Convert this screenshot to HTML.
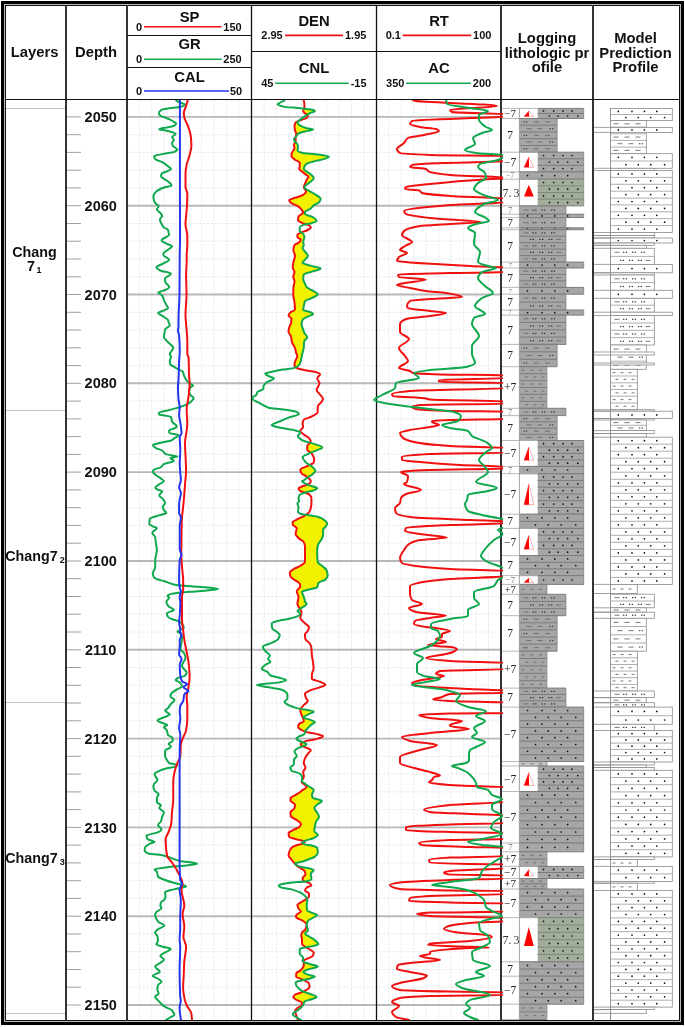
<!DOCTYPE html><html><head><meta charset="utf-8"><style>html,body{margin:0;padding:0;background:#fff;width:685px;height:1027px;overflow:hidden}svg{display:block;will-change:transform}</style></head><body><svg width="685" height="1027" viewBox="0 0 685 1027">
<style>
text{font-family:"Liberation Sans",sans-serif;font-weight:bold;fill:#111;text-anchor:middle}
.h{font-size:14.8px}
.h2{font-size:14.8px}
.n{font-size:11px}
.dl{font-size:14.5px}
.sub{font-size:9px}
.lab{font-family:"Liberation Serif",serif;font-weight:normal}
.gv{stroke:#e9e9e9;stroke-width:1;stroke-dasharray:2.5 1.5}
.gm{stroke:#e9e9e9;stroke-width:1;stroke-dasharray:2.5 1.5}
.gM{stroke:#b8b8b8;stroke-width:1.9}
.tk{stroke:#a0a0a0;stroke-width:1}
.hl{stroke:#111;stroke-width:1.2}
.lb{stroke:#b0b0b0;stroke-width:0.9}
.pd{stroke:#6a6a6a;stroke-width:0.9}
</style>
<rect width="685" height="1027" fill="#fff"/>
<defs><clipPath id="c1"><rect x="127.5" y="100" width="123" height="920"/></clipPath><clipPath id="c2"><rect x="251.5" y="100" width="124" height="920"/></clipPath><clipPath id="c3"><rect x="372" y="100" width="131" height="920"/></clipPath><clipPath id="rightOfDen"><path d="M303.8,99.5C303.8,99.7 303.8,100.0 303.8,100.2C303.8,101.4 304.4,102.5 304.4,103.7C304.4,105.1 304.4,106.4 304.4,107.8C304.4,108.8 303.2,109.7 303.2,110.7C303.2,111.5 303.8,112.2 304.4,113.0C304.9,113.6 307.9,114.2 307.9,114.8C307.9,115.8 307.7,116.7 307.3,117.7C307.0,118.5 302.8,119.2 300.9,120.0C298.9,120.8 296.1,121.6 295.6,122.4C294.9,123.6 294.5,124.7 294.5,125.9C294.5,127.4 294.7,129.0 295.0,130.5C295.2,131.5 296.2,132.5 296.2,133.5C296.2,134.8 295.6,136.2 295.6,137.5C295.6,138.9 295.6,140.2 295.6,141.6C295.6,142.6 293.9,143.5 293.9,144.5C293.9,145.7 294.5,146.9 294.5,148.1C294.5,150.0 291.5,152.0 291.5,153.9C291.5,154.7 291.5,155.4 291.5,156.2C291.5,157.4 293.5,158.5 295.0,159.7C296.2,160.7 299.7,161.6 299.7,162.6C299.7,164.0 299.7,165.3 299.7,166.7C299.7,167.5 299.1,168.3 299.1,169.1C299.1,169.9 301.1,170.6 302.0,171.4C303.4,172.6 304.5,173.7 306.1,174.9C306.8,175.4 308.5,176.0 308.5,176.5C308.5,177.6 307.2,178.6 306.7,179.7C306.0,181.1 305.5,182.4 305.0,183.8C304.6,185.0 303.8,186.1 303.8,187.3C303.8,188.7 306.1,190.0 306.1,191.4C306.1,192.6 304.7,193.7 303.2,194.9C301.9,195.9 297.6,196.8 295.0,197.8C293.0,198.6 289.2,199.3 289.2,200.1C289.2,200.9 289.8,201.6 290.4,202.4C291.3,203.6 295.7,204.7 297.4,205.9C299.1,207.1 300.6,208.3 301.5,209.5C302.2,210.5 303.2,211.4 303.2,212.4C303.2,213.8 298.8,215.1 298.5,216.5C298.2,217.8 298.0,219.2 298.0,220.5C298.0,221.3 300.3,222.1 302.0,222.9C303.7,223.7 308.1,224.4 309.0,225.2C310.0,226.0 310.8,226.8 310.8,227.6C310.8,228.6 308.6,229.5 306.7,230.5C305.6,231.1 303.3,231.6 302.0,232.2C300.2,233.0 297.4,233.8 297.4,234.6C297.4,235.4 297.4,236.1 297.4,236.9C297.4,237.9 300.9,238.8 300.9,239.8C300.9,240.8 299.6,241.7 298.5,242.7C297.6,243.5 294.9,244.3 294.5,245.1C293.8,246.6 293.3,248.2 293.3,249.7C293.3,250.8 293.9,251.9 294.2,253.0C294.5,253.9 295.0,254.8 295.0,255.7C295.0,258.0 293.7,260.4 293.3,262.7C293.0,264.3 292.7,265.8 292.7,267.4C292.7,268.9 294.5,270.5 294.5,272.0C294.5,273.6 293.3,275.1 293.3,276.7C293.3,278.3 294.5,279.8 294.5,281.4C294.5,283.7 293.3,286.1 293.3,288.4C293.3,290.7 293.3,293.1 293.3,295.4C293.3,297.7 294.3,300.1 294.5,302.4C294.7,304.7 295.0,307.1 295.0,309.4C295.0,310.6 290.5,311.7 289.8,312.9C289.2,313.9 288.6,314.8 288.6,315.8C288.6,316.8 291.5,317.7 291.5,318.7C291.5,320.3 291.2,321.8 290.9,323.4C290.6,324.8 289.5,326.1 289.2,327.5C288.9,328.9 288.5,330.3 288.5,331.7C288.5,333.2 290.5,334.8 290.9,336.3C291.5,338.3 291.5,340.2 292.0,342.2C292.5,344.1 294.4,346.1 295.0,348.0C295.5,349.6 295.7,351.1 296.1,352.7C296.4,353.9 297.3,355.0 297.3,356.2C297.3,358.1 295.4,360.1 295.0,362.0C294.7,363.2 294.4,364.3 294.4,365.5C294.4,366.3 295.5,367.1 296.7,367.9C297.9,368.7 301.5,369.4 304.9,370.2C307.6,370.8 313.5,371.4 315.4,372.0C317.8,372.8 320.1,373.5 320.1,374.3C320.1,375.7 317.2,377.0 317.2,378.4C317.2,380.0 319.5,381.5 319.5,383.1C319.5,385.4 316.6,387.8 316.6,390.1C316.6,391.6 319.0,393.2 320.1,394.7C321.1,396.1 323.0,397.4 323.0,398.8C323.0,400.0 322.0,401.1 321.2,402.3C320.4,403.5 318.2,404.8 318.0,406.0C317.8,407.0 317.7,408.0 317.7,409.0C317.7,410.1 317.7,411.2 317.7,412.3C317.7,413.7 314.3,415.0 311.9,416.4C309.8,417.6 304.3,418.7 303.7,419.9C303.1,421.1 302.6,422.2 302.6,423.4C302.6,424.6 303.1,425.7 303.1,426.9C303.1,428.3 300.2,429.6 300.2,431.0C300.2,432.2 302.3,433.3 303.7,434.5C305.1,435.7 308.1,436.8 309.0,438.0C309.9,439.2 310.7,440.3 310.7,441.5C310.7,443.1 307.2,444.6 307.2,446.2C307.2,447.4 307.2,448.5 307.2,449.7C307.2,451.1 311.0,452.4 311.9,453.8C313.0,455.6 314.2,457.3 314.2,459.1C314.2,460.3 314.0,461.4 313.7,462.6C313.4,463.8 309.4,464.9 307.2,466.1C305.0,467.3 300.2,468.4 300.2,469.6C300.2,470.8 300.8,471.9 301.4,473.1C302.0,474.3 305.1,475.4 306.6,476.6C307.9,477.6 309.5,478.5 310.0,479.5C310.4,480.3 310.8,481.1 310.8,481.9C310.8,482.7 309.3,483.5 307.9,484.3C306.9,484.9 304.5,485.4 303.2,486.0C301.4,486.8 298.5,487.5 298.5,488.3C298.5,489.1 299.0,489.9 299.7,490.7C300.2,491.3 302.9,491.8 304.4,492.4C306.0,493.0 308.3,493.6 309.0,494.2C310.3,495.4 311.4,496.5 311.4,497.7C311.4,499.6 311.4,501.6 311.4,503.5C311.4,505.1 311.1,506.6 310.8,508.2C310.5,509.6 309.9,510.9 309.0,512.3C308.2,513.5 306.3,514.6 304.4,515.8C302.8,516.8 300.3,517.7 298.5,518.7C296.4,519.9 292.7,521.0 292.7,522.2C292.7,523.0 292.7,523.7 292.7,524.5C292.7,525.7 296.8,526.9 296.8,528.1C296.8,530.0 295.6,532.0 295.6,533.9C295.6,535.3 297.3,536.6 298.5,538.0C299.7,539.4 303.2,540.7 303.8,542.1C304.5,543.6 305.0,545.2 305.0,546.7C305.0,549.5 305.0,552.2 305.0,555.0C305.0,557.3 305.0,559.7 305.0,562.0C305.0,563.2 302.6,564.3 300.9,565.5C299.2,566.7 295.6,567.8 293.9,569.0C292.2,570.2 289.8,571.3 289.8,572.5C289.8,574.1 290.2,575.6 290.9,577.2C291.3,578.2 293.7,579.1 295.0,580.1C296.6,581.3 299.3,582.4 299.7,583.6C300.0,584.6 300.3,585.5 300.3,586.5C300.3,588.1 296.8,589.6 296.8,591.2C296.8,593.1 298.5,595.1 298.5,597.0C298.5,599.4 297.4,601.7 297.4,604.1C297.4,605.6 298.9,607.2 299.7,608.7C300.3,609.9 301.5,611.0 301.5,612.2C301.5,614.2 300.3,616.1 300.3,618.1C300.3,619.6 303.0,621.2 304.4,622.7C305.9,624.3 309.0,625.8 309.0,627.4C309.0,628.8 308.1,630.2 307.3,631.6C306.8,632.6 304.9,633.5 304.9,634.5C304.9,636.1 305.1,637.6 305.5,639.2C305.8,640.6 308.8,641.9 309.6,643.3C310.4,644.7 311.1,646.0 311.3,647.4C311.7,650.1 311.6,652.8 311.9,655.5C312.1,657.8 312.8,660.2 313.1,662.5C313.3,664.5 313.6,666.4 313.6,668.4C313.6,670.3 311.9,672.3 311.9,674.2C311.9,675.8 311.9,677.3 311.9,678.9C311.9,679.9 318.0,680.8 320.1,681.8C322.2,682.8 325.3,683.7 325.3,684.7C325.3,685.7 321.4,686.6 318.9,687.6C316.3,688.6 311.5,689.6 309.6,690.6C307.4,691.8 304.9,692.9 304.9,694.1C304.9,695.5 305.6,696.8 306.1,698.2C306.5,699.2 307.8,700.1 307.8,701.1C307.8,702.5 304.9,703.8 303.7,705.2C302.7,706.3 301.5,707.4 301.0,708.5C300.7,709.2 300.3,709.8 300.3,710.5C300.3,711.9 301.0,713.2 301.5,714.6C302.0,716.0 302.8,717.3 303.2,718.7C303.5,719.7 303.8,720.6 303.8,721.6C303.8,722.4 299.6,723.1 299.1,723.9C298.5,724.9 298.0,725.9 298.0,726.9C298.0,727.9 299.5,728.8 300.9,729.8C302.0,730.6 304.1,731.3 306.7,732.1C308.8,732.7 313.8,733.3 316.1,733.9C319.1,734.7 323.1,735.4 323.1,736.2C323.1,737.2 319.4,738.1 316.1,739.1C314.1,739.7 308.8,740.3 306.7,740.9C304.1,741.7 300.9,742.4 300.9,743.2C300.9,743.8 300.9,744.4 300.9,745.0C300.9,745.8 304.0,746.5 305.5,747.3C307.3,748.3 310.8,749.2 310.8,750.2C310.8,751.4 308.7,752.5 307.9,753.7C306.8,755.3 305.6,756.8 305.0,758.4C304.4,760.0 303.8,761.5 303.8,763.1C303.8,764.6 305.5,766.2 305.5,767.7C305.5,769.1 303.2,770.4 303.2,771.8C303.2,773.6 303.8,775.3 303.8,777.1C303.8,778.6 301.5,780.2 301.5,781.7C301.5,782.8 303.8,783.9 305.0,785.0C305.6,785.5 306.7,786.0 306.7,786.5C306.7,787.9 303.7,789.2 302.0,790.6C300.3,792.0 298.4,793.3 296.2,794.7C294.6,795.7 291.2,796.6 290.9,797.6C290.6,798.6 290.4,799.5 290.4,800.5C290.4,801.9 295.0,803.2 295.0,804.6C295.0,805.8 294.8,806.9 294.5,808.1C294.2,809.5 290.4,810.8 290.4,812.2C290.4,813.6 290.6,814.9 290.9,816.3C291.2,817.7 295.7,819.0 297.4,820.4C298.8,821.6 300.9,822.7 300.9,823.9C300.9,824.9 300.4,825.8 299.7,826.8C299.0,827.8 295.6,828.7 293.9,829.7C291.9,830.9 288.6,832.0 288.6,833.2C288.6,834.4 288.8,835.5 289.2,836.7C289.5,837.7 294.2,838.6 297.4,839.6C299.4,840.2 304.4,840.8 304.4,841.4C304.4,842.0 304.4,842.5 304.4,843.1C304.4,843.7 299.0,844.3 297.4,844.9C294.8,845.9 292.4,846.8 291.5,847.8C290.3,849.2 289.6,850.5 289.2,851.9C288.9,853.1 288.6,854.2 288.6,855.4C288.6,856.6 290.1,857.8 291.0,859.0C292.2,860.6 293.5,862.1 295.0,863.7C296.3,865.1 297.8,866.4 299.7,867.8C301.0,868.8 303.9,869.7 304.4,870.7C305.0,871.9 305.5,873.0 305.5,874.2C305.5,875.6 302.6,876.9 302.6,878.3C302.6,879.1 302.8,879.8 303.2,880.6C303.6,881.4 307.9,882.1 309.0,882.9C310.1,883.7 311.4,884.5 311.4,885.3C311.4,886.1 307.4,886.8 306.7,887.6C305.8,888.6 305.0,889.5 305.0,890.5C305.0,891.5 309.0,892.5 309.0,893.5C309.0,894.5 309.0,895.4 309.0,896.4C309.0,897.2 307.6,897.9 306.7,898.7C305.8,899.5 304.3,900.2 303.2,901.0C301.2,902.4 297.4,903.7 297.4,905.1C297.4,906.3 298.0,907.4 298.5,908.6C299.0,909.6 300.9,910.6 300.9,911.6C300.9,912.8 296.2,913.9 296.2,915.1C296.2,915.9 296.2,916.6 296.2,917.4C296.2,918.4 300.6,919.3 302.0,920.3C304.0,921.7 306.7,923.0 306.7,924.4C306.7,926.0 306.2,927.5 305.5,929.1C305.0,930.3 302.5,931.4 302.0,932.6C301.6,933.6 301.2,934.5 301.2,935.5C301.2,936.9 302.0,938.3 302.0,939.7C302.0,941.1 302.0,942.4 302.0,943.8C302.0,944.8 303.7,945.7 305.0,946.7C306.0,947.5 307.8,948.2 309.0,949.0C310.8,950.2 313.7,951.3 313.7,952.5C313.7,953.7 313.3,954.8 312.6,956.0C312.1,956.8 309.4,957.6 307.9,958.4C306.5,959.2 303.8,959.9 303.8,960.7C303.8,962.3 303.8,963.8 303.8,965.4C303.8,966.9 302.2,968.5 300.9,970.0C299.9,971.2 296.2,972.3 296.2,973.5C296.2,974.7 296.2,975.8 296.2,977.0C296.2,977.6 299.5,978.2 300.9,978.8C302.2,979.4 303.4,979.9 304.4,980.5C306.2,981.5 308.7,982.5 309.0,983.5C309.4,984.7 309.6,985.8 309.6,987.0C309.6,988.0 308.0,988.9 306.7,989.9C305.7,990.7 303.8,991.4 302.0,992.2C300.1,993.0 295.9,993.8 295.0,994.6C294.1,995.4 293.3,996.1 293.3,996.9C293.3,997.9 294.9,998.8 296.2,999.8C297.3,1000.6 301.2,1001.4 301.5,1002.2C301.8,1003.2 302.0,1004.1 302.0,1005.1C302.0,1006.1 298.5,1007.0 297.4,1008.0C296.3,1009.0 295.0,1009.9 295.0,1010.9C295.0,1012.3 295.8,1013.6 296.2,1015.0C296.7,1016.7 297.4,1018.3 298.0,1020.0L400,1025L400,95Z"/></clipPath><clipPath id="leftOfCnl"><path d="M284.5,99.5C284.5,99.7 284.5,100.0 284.5,100.2C284.5,101.0 281.7,101.7 280.4,102.5C279.4,103.1 277.5,103.7 277.5,104.3C277.5,105.1 280.2,105.8 283.4,106.6C285.8,107.2 296.1,107.7 300.9,108.3C306.0,108.9 312.7,109.5 313.7,110.1C314.4,110.5 314.9,110.9 314.9,111.3C314.9,111.9 311.4,112.4 310.2,113.0C308.2,114.0 307.0,114.9 305.5,115.9C303.4,117.3 301.2,118.6 299.7,120.0C298.8,120.8 297.4,121.6 297.4,122.4C297.4,123.4 298.5,124.3 299.7,125.3C300.9,126.3 303.3,127.2 306.7,128.2C308.1,128.6 313.1,129.0 313.1,129.4C313.1,130.0 308.7,130.5 306.7,131.1C303.8,131.9 299.6,132.7 298.5,133.5C297.2,134.5 297.0,135.4 296.2,136.4C295.4,137.4 293.9,138.3 293.9,139.3C293.9,140.1 294.5,140.8 295.0,141.6C295.5,142.4 297.2,143.2 297.4,144.0C297.8,145.4 298.0,146.7 298.0,148.1C298.0,148.9 297.4,149.6 297.4,150.4C297.4,151.2 299.4,151.9 302.0,152.7C304.0,153.3 314.7,153.9 318.4,154.5C323.1,155.3 328.9,156.0 328.9,156.8C328.9,157.4 327.0,158.0 325.4,158.6C323.4,159.4 318.9,160.1 316.1,160.9C312.6,161.9 307.9,162.8 306.7,163.8C305.5,164.8 304.8,165.7 304.4,166.7C304.1,167.5 303.8,168.3 303.8,169.1C303.8,170.1 306.0,171.0 307.3,172.0C308.6,173.0 310.4,173.9 311.4,174.9C312.4,175.9 313.7,176.9 313.7,177.9C313.7,179.3 311.6,180.6 310.2,182.0C309.0,183.2 306.3,184.3 305.5,185.5C305.0,186.3 304.4,187.0 304.4,187.8C304.4,188.8 307.4,189.8 309.0,190.8C311.2,192.2 314.2,193.5 316.1,194.9C317.9,196.2 320.7,197.6 320.7,198.9C320.7,200.1 319.9,201.2 319.0,202.4C318.2,203.4 315.0,204.4 313.7,205.4C312.2,206.6 311.7,207.7 310.2,208.9C308.9,209.9 305.0,210.8 305.0,211.8C305.0,212.6 305.0,213.3 305.0,214.1C305.0,215.1 311.2,216.0 312.6,217.0C314.6,218.4 316.6,219.7 316.6,221.1C316.6,221.9 313.2,222.7 310.2,223.5C308.8,223.9 305.4,224.2 304.4,224.6C301.8,225.6 299.7,226.6 299.7,227.6C299.7,228.8 299.7,229.9 299.7,231.1C299.7,232.1 302.6,233.0 303.2,234.0C303.8,235.0 304.4,235.9 304.4,236.9C304.4,238.7 303.2,240.4 303.2,242.2C303.2,243.2 303.8,244.1 303.8,245.1C303.8,246.1 302.6,247.0 302.6,248.0C302.6,249.2 304.2,250.4 305.0,251.6C305.9,253.0 307.9,254.3 307.9,255.7C307.9,257.2 305.6,258.8 304.4,260.3C303.8,261.1 302.6,261.9 302.6,262.7C302.6,263.7 307.3,264.6 310.2,265.6C313.1,266.6 320.7,267.5 320.7,268.5C320.7,269.5 315.4,270.4 312.6,271.4C309.7,272.4 304.1,273.4 303.8,274.4C303.4,275.9 303.2,277.5 303.2,279.0C303.2,280.6 304.3,282.1 305.0,283.7C305.5,284.9 305.8,286.0 306.7,287.2C307.6,288.4 310.8,289.5 312.6,290.7C314.4,291.9 317.8,293.0 317.8,294.2C317.8,295.4 314.7,296.5 312.6,297.7C310.5,298.9 305.6,300.0 305.0,301.2C304.3,302.8 304.1,304.3 303.8,305.9C303.5,307.3 303.2,308.6 303.2,310.0C303.2,310.6 307.7,311.1 309.0,311.7C310.9,312.5 313.1,313.3 313.1,314.1C313.1,315.1 308.4,316.0 306.7,317.0C305.0,318.0 303.0,318.9 302.6,319.9C301.9,321.5 301.5,323.0 301.5,324.6C301.5,325.8 302.2,326.9 302.6,328.1C303.1,329.7 303.6,331.2 304.3,332.8C305.0,334.4 307.2,335.9 307.2,337.5C307.2,338.7 304.5,339.8 304.3,341.0C303.9,343.3 304.0,345.7 303.7,348.0C303.4,350.3 302.5,352.7 302.0,355.0C301.6,357.0 301.3,358.9 300.8,360.9C300.4,362.3 300.0,363.6 299.1,365.0C298.4,366.0 297.1,366.9 294.4,367.9C292.8,368.5 286.0,369.0 282.7,369.6C278.1,370.4 274.2,371.2 271.0,372.0C268.7,372.6 265.2,373.1 265.2,373.7C265.2,374.7 268.1,375.6 269.9,376.6C271.0,377.2 273.9,377.8 273.9,378.4C273.9,379.8 267.8,381.1 266.4,382.5C265.0,383.9 263.4,385.2 263.4,386.6C263.4,387.4 263.4,388.1 263.4,388.9C263.4,389.9 258.3,390.8 257.6,391.8C256.9,392.8 257.0,393.7 256.4,394.7C255.8,395.7 252.3,396.7 252.3,397.7C252.3,398.5 252.9,399.2 253.5,400.0C254.3,401.0 257.5,401.9 259.3,402.9C260.9,403.8 262.3,404.6 264.0,405.5C265.4,406.2 266.1,407.0 268.7,407.7C270.7,408.3 280.1,408.8 283.9,409.4C289.3,410.2 295.3,411.0 296.7,411.8C298.0,412.6 299.1,413.3 299.1,414.1C299.1,415.3 291.5,416.4 288.5,417.6C284.9,419.0 282.2,420.3 279.2,421.7C276.6,422.9 271.6,424.0 271.6,425.2C271.6,426.0 276.0,426.7 279.2,427.5C282.6,428.3 290.0,429.1 293.2,429.9C296.3,430.7 300.2,431.4 300.2,432.2C300.2,433.6 297.9,434.9 297.9,436.3C297.9,437.7 300.2,439.0 302.6,440.4C304.6,441.6 311.0,442.7 314.2,443.9C317.4,445.1 322.4,446.2 322.4,447.4C322.4,448.4 318.7,449.3 316.6,450.3C314.5,451.3 311.6,452.2 309.6,453.2C306.8,454.6 302.6,455.9 302.6,457.3C302.6,459.1 304.5,460.8 306.1,462.6C307.3,463.9 310.5,465.3 311.9,466.6C313.4,468.0 315.4,469.3 315.4,470.7C315.4,471.9 313.7,473.0 312.5,474.2C311.3,475.4 308.8,476.5 307.2,477.7C305.9,478.6 305.0,479.6 303.5,480.5C303.1,480.8 302.0,481.0 302.0,481.3C302.0,482.1 304.0,482.9 305.5,483.7C306.9,484.5 309.5,485.2 311.4,486.0C313.3,486.8 317.2,487.5 317.2,488.3C317.2,489.1 314.7,489.9 312.6,490.7C311.1,491.3 307.3,491.8 305.5,492.4C303.0,493.2 300.2,494.0 299.7,494.8C299.0,496.0 298.5,497.1 298.5,498.3C298.5,499.3 299.1,500.2 299.1,501.2C299.1,502.0 297.4,502.7 297.4,503.5C297.4,504.7 298.5,505.8 298.5,507.0C298.5,508.6 298.0,510.1 298.0,511.7C298.0,512.5 299.1,513.2 300.9,514.0C301.8,514.4 306.6,514.8 309.0,515.2C312.6,515.8 316.6,516.4 318.4,517.0C321.3,518.0 323.0,518.9 324.2,519.9C325.6,521.1 327.2,522.2 327.2,523.4C327.2,524.6 326.1,525.7 325.4,526.9C324.8,527.9 323.1,528.8 323.1,529.8C323.1,531.6 323.1,533.3 323.1,535.1C323.1,536.6 322.1,538.2 321.3,539.7C320.6,541.1 318.9,542.4 318.4,543.8C317.8,545.6 317.2,547.3 317.2,549.1C317.2,551.1 317.2,553.0 317.2,555.0C317.2,557.3 317.4,559.7 317.8,562.0C318.1,563.6 321.4,565.1 323.1,566.7C324.3,567.9 326.2,569.0 326.6,570.2C327.2,571.9 327.7,573.7 327.7,575.4C327.7,576.8 326.6,578.1 325.4,579.5C324.4,580.7 319.0,581.8 318.4,583.0C317.7,584.4 318.0,585.7 317.2,587.1C316.7,587.9 311.6,588.7 309.0,589.5C306.5,590.3 302.0,591.0 302.0,591.8C302.0,593.0 302.8,594.1 303.2,595.3C303.6,596.5 304.1,597.6 304.4,598.8C304.6,599.8 304.7,600.7 305.0,601.7C305.3,602.5 306.7,603.3 306.7,604.1C306.7,605.3 303.5,606.4 302.0,607.6C300.5,608.8 297.4,609.9 297.4,611.1C297.4,611.9 300.3,612.6 300.3,613.4C300.3,614.2 299.4,614.9 298.5,615.7C297.3,616.7 293.1,617.7 289.2,618.7C286.2,619.5 280.1,620.2 277.5,621.0C274.9,621.8 271.7,622.5 271.7,623.3C271.7,625.1 271.9,626.8 272.3,628.6C272.6,629.7 275.8,630.9 277.0,632.0C278.1,633.0 279.8,634.1 279.8,635.1C279.8,636.5 279.0,637.8 278.0,639.2C277.2,640.4 274.4,641.5 272.2,642.7C269.6,644.1 262.8,645.4 262.8,646.8C262.8,648.2 264.2,649.5 265.2,650.9C266.3,652.4 269.9,654.0 269.9,655.5C269.9,656.7 268.1,657.8 268.1,659.0C268.1,660.0 270.4,660.9 270.4,661.9C270.4,662.9 266.4,663.9 265.2,664.9C263.6,666.3 261.7,667.6 261.7,669.0C261.7,670.0 266.4,670.9 267.5,671.9C268.9,673.1 268.7,674.2 270.4,675.4C271.5,676.2 276.7,676.9 279.2,677.7C281.9,678.5 286.2,679.3 286.2,680.1C286.2,680.9 282.6,681.6 279.2,682.4C275.3,683.3 257.0,684.1 257.0,685.0C257.0,685.7 263.9,686.4 267.5,687.1C272.4,688.1 281.0,689.0 282.7,690.0C285.5,691.5 287.4,693.1 287.4,694.6C287.4,696.0 287.4,697.3 287.4,698.7C287.4,699.7 284.5,700.7 284.5,701.7C284.5,702.9 286.6,704.0 288.5,705.2C290.1,706.2 293.3,707.1 296.7,708.1C300.9,709.3 313.7,710.5 313.7,711.7C313.7,712.5 310.4,713.2 309.0,714.0C306.8,715.2 303.2,716.3 303.2,717.5C303.2,718.3 308.4,719.0 310.2,719.8C312.1,720.6 314.9,721.4 314.9,722.2C314.9,723.0 312.3,723.7 311.4,724.5C310.0,725.7 309.0,726.8 307.9,728.0C307.0,729.0 306.0,729.9 305.5,730.9C305.0,731.9 305.0,732.9 304.4,733.9C303.8,734.9 299.8,735.8 298.5,736.8C297.5,737.6 296.2,738.3 296.2,739.1C296.2,739.9 299.3,740.7 300.9,741.5C302.8,742.5 306.7,743.4 306.7,744.4C306.7,745.0 304.5,745.5 303.2,746.1C301.4,746.9 298.5,747.7 297.4,748.5C296.0,749.5 294.5,750.4 294.5,751.4C294.5,753.0 296.8,754.5 296.8,756.1C296.8,757.3 293.9,758.4 293.9,759.6C293.9,761.1 293.9,762.7 293.9,764.2C293.9,765.4 290.4,766.5 290.4,767.7C290.4,768.7 290.9,769.6 291.5,770.6C292.2,771.6 298.6,772.6 299.7,773.6C301.0,774.8 302.0,775.9 302.0,777.1C302.0,778.5 302.0,779.8 302.0,781.2C302.0,782.1 304.3,783.1 305.5,784.0C306.6,784.8 307.9,785.7 309.0,786.5C310.6,787.7 313.7,788.8 313.7,790.0C313.7,791.6 312.0,793.1 312.0,794.7C312.0,795.7 312.2,796.6 312.6,797.6C313.0,798.8 321.9,799.9 321.9,801.1C321.9,802.3 318.4,803.4 317.2,804.6C316.0,805.8 314.3,806.9 314.3,808.1C314.3,809.7 316.4,811.2 317.2,812.8C317.9,814.2 319.0,815.5 319.0,816.9C319.0,818.4 316.7,820.0 316.1,821.5C315.5,823.1 315.2,824.6 314.9,826.2C314.6,827.8 314.3,829.3 314.3,830.9C314.3,832.3 317.8,833.6 317.8,835.0C317.8,836.2 315.1,837.3 312.6,838.5C311.4,839.1 308.1,839.6 306.7,840.2C304.7,841.0 302.0,841.8 302.0,842.6C302.0,843.2 303.1,843.7 304.4,844.3C305.3,844.7 309.9,845.1 311.4,845.5C314.2,846.3 317.0,847.0 317.2,847.8C317.6,849.6 317.8,851.3 317.8,853.1C317.8,854.3 316.4,855.4 314.9,856.6C313.7,857.6 310.3,858.5 308.0,859.5C306.8,860.0 305.8,860.5 304.4,861.0C301.9,861.9 295.0,862.8 295.0,863.7C295.0,864.7 297.2,865.6 299.7,866.6C301.2,867.2 307.0,867.7 309.0,868.3C311.1,868.9 313.7,869.5 313.7,870.1C313.7,871.3 310.8,872.4 310.8,873.6C310.8,875.4 311.4,877.1 311.4,878.9C311.4,879.7 309.4,880.4 306.7,881.2C304.7,881.8 292.8,882.3 289.2,882.9C284.2,883.7 278.7,884.5 278.7,885.3C278.7,885.9 279.2,886.4 279.9,887.0C280.8,887.8 288.7,888.6 291.5,889.4C295.6,890.6 298.8,891.7 300.9,892.9C303.0,894.1 304.6,895.2 305.5,896.4C306.4,897.6 307.3,898.7 307.3,899.9C307.3,901.8 306.7,903.8 306.7,905.7C306.7,907.3 306.9,908.8 307.3,910.4C307.5,911.2 309.8,911.9 311.4,912.7C313.0,913.5 317.2,914.3 317.2,915.1C317.2,916.1 314.1,917.0 312.6,918.0C311.1,919.0 308.4,919.9 307.9,920.9C307.2,922.5 306.7,924.0 306.7,925.6C306.7,927.1 307.9,928.7 307.9,930.2C307.9,931.4 305.0,932.5 305.0,933.7C305.0,934.6 307.6,935.6 309.0,936.5C310.6,937.6 313.0,938.6 314.3,939.7C316.1,941.2 318.4,942.8 318.4,944.3C318.4,944.9 315.0,945.5 312.6,946.1C311.0,946.5 308.5,946.9 306.7,947.3C304.1,947.9 299.7,948.4 299.7,949.0C299.7,950.6 299.7,952.1 299.7,953.7C299.7,955.1 303.2,956.4 303.2,957.8C303.2,959.0 302.6,960.1 302.6,961.3C302.6,962.3 307.4,963.2 310.2,964.2C312.5,965.0 317.8,965.7 317.8,966.5C317.8,967.3 312.4,968.1 310.2,968.9C307.5,969.9 303.2,970.8 303.2,971.8C303.2,972.8 305.6,973.7 307.9,974.7C309.3,975.3 314.9,975.9 314.9,976.5C314.9,977.3 311.6,978.0 309.0,978.8C307.1,979.4 303.0,979.9 300.9,980.5C298.7,981.1 295.6,981.7 295.6,982.3C295.6,983.3 295.9,984.2 296.2,985.2C296.6,986.4 297.9,987.5 299.1,988.7C300.1,989.7 301.3,990.6 303.2,991.6C304.7,992.4 308.2,993.2 310.2,994.0C312.6,995.0 316.6,995.9 316.6,996.9C316.6,997.7 313.4,998.4 311.4,999.2C309.4,1000.0 304.9,1000.8 304.4,1001.6C303.6,1002.8 303.8,1003.9 303.2,1005.1C302.4,1006.6 300.2,1008.2 298.5,1009.7C296.7,1011.3 292.7,1012.8 292.7,1014.4C292.7,1015.4 295.5,1016.5 297.0,1017.5C298.2,1018.3 299.7,1019.2 301.0,1020.0L200,1025L200,95Z"/></clipPath></defs>
<line x1="139.3" y1="99.5" x2="139.3" y2="1020" class="gv"/>
<line x1="151.7" y1="99.5" x2="151.7" y2="1020" class="gv"/>
<line x1="164.2" y1="99.5" x2="164.2" y2="1020" class="gv"/>
<line x1="176.7" y1="99.5" x2="176.7" y2="1020" class="gv"/>
<line x1="189.2" y1="99.5" x2="189.2" y2="1020" class="gv"/>
<line x1="201.6" y1="99.5" x2="201.6" y2="1020" class="gv"/>
<line x1="214.1" y1="99.5" x2="214.1" y2="1020" class="gv"/>
<line x1="226.6" y1="99.5" x2="226.6" y2="1020" class="gv"/>
<line x1="239.0" y1="99.5" x2="239.0" y2="1020" class="gv"/>
<line x1="264.2" y1="99.5" x2="264.2" y2="1020" class="gv"/>
<line x1="276.7" y1="99.5" x2="276.7" y2="1020" class="gv"/>
<line x1="289.2" y1="99.5" x2="289.2" y2="1020" class="gv"/>
<line x1="301.6" y1="99.5" x2="301.6" y2="1020" class="gv"/>
<line x1="314.1" y1="99.5" x2="314.1" y2="1020" class="gv"/>
<line x1="326.6" y1="99.5" x2="326.6" y2="1020" class="gv"/>
<line x1="339.0" y1="99.5" x2="339.0" y2="1020" class="gv"/>
<line x1="351.5" y1="99.5" x2="351.5" y2="1020" class="gv"/>
<line x1="364.0" y1="99.5" x2="364.0" y2="1020" class="gv"/>
<line x1="388.8" y1="99.5" x2="388.8" y2="1020" class="gv"/>
<line x1="401.2" y1="99.5" x2="401.2" y2="1020" class="gv"/>
<line x1="413.7" y1="99.5" x2="413.7" y2="1020" class="gv"/>
<line x1="426.2" y1="99.5" x2="426.2" y2="1020" class="gv"/>
<line x1="438.7" y1="99.5" x2="438.7" y2="1020" class="gv"/>
<line x1="451.1" y1="99.5" x2="451.1" y2="1020" class="gv"/>
<line x1="463.6" y1="99.5" x2="463.6" y2="1020" class="gv"/>
<line x1="476.1" y1="99.5" x2="476.1" y2="1020" class="gv"/>
<line x1="488.5" y1="99.5" x2="488.5" y2="1020" class="gv"/>
<line x1="127" y1="116.9" x2="501" y2="116.9" class="gM"/>
<line x1="127" y1="134.7" x2="501" y2="134.7" class="gm"/>
<line x1="127" y1="152.4" x2="501" y2="152.4" class="gm"/>
<line x1="127" y1="170.2" x2="501" y2="170.2" class="gm"/>
<line x1="127" y1="187.9" x2="501" y2="187.9" class="gm"/>
<line x1="127" y1="205.7" x2="501" y2="205.7" class="gM"/>
<line x1="127" y1="223.5" x2="501" y2="223.5" class="gm"/>
<line x1="127" y1="241.2" x2="501" y2="241.2" class="gm"/>
<line x1="127" y1="259.0" x2="501" y2="259.0" class="gm"/>
<line x1="127" y1="276.8" x2="501" y2="276.8" class="gm"/>
<line x1="127" y1="294.5" x2="501" y2="294.5" class="gM"/>
<line x1="127" y1="312.3" x2="501" y2="312.3" class="gm"/>
<line x1="127" y1="330.0" x2="501" y2="330.0" class="gm"/>
<line x1="127" y1="347.8" x2="501" y2="347.8" class="gm"/>
<line x1="127" y1="365.6" x2="501" y2="365.6" class="gm"/>
<line x1="127" y1="383.3" x2="501" y2="383.3" class="gM"/>
<line x1="127" y1="401.1" x2="501" y2="401.1" class="gm"/>
<line x1="127" y1="418.9" x2="501" y2="418.9" class="gm"/>
<line x1="127" y1="436.6" x2="501" y2="436.6" class="gm"/>
<line x1="127" y1="454.4" x2="501" y2="454.4" class="gm"/>
<line x1="127" y1="472.1" x2="501" y2="472.1" class="gM"/>
<line x1="127" y1="489.9" x2="501" y2="489.9" class="gm"/>
<line x1="127" y1="507.7" x2="501" y2="507.7" class="gm"/>
<line x1="127" y1="525.4" x2="501" y2="525.4" class="gm"/>
<line x1="127" y1="543.2" x2="501" y2="543.2" class="gm"/>
<line x1="127" y1="561.0" x2="501" y2="561.0" class="gM"/>
<line x1="127" y1="578.7" x2="501" y2="578.7" class="gm"/>
<line x1="127" y1="596.5" x2="501" y2="596.5" class="gm"/>
<line x1="127" y1="614.2" x2="501" y2="614.2" class="gm"/>
<line x1="127" y1="632.0" x2="501" y2="632.0" class="gm"/>
<line x1="127" y1="649.8" x2="501" y2="649.8" class="gM"/>
<line x1="127" y1="667.5" x2="501" y2="667.5" class="gm"/>
<line x1="127" y1="685.3" x2="501" y2="685.3" class="gm"/>
<line x1="127" y1="703.0" x2="501" y2="703.0" class="gm"/>
<line x1="127" y1="720.8" x2="501" y2="720.8" class="gm"/>
<line x1="127" y1="738.6" x2="501" y2="738.6" class="gM"/>
<line x1="127" y1="756.3" x2="501" y2="756.3" class="gm"/>
<line x1="127" y1="774.1" x2="501" y2="774.1" class="gm"/>
<line x1="127" y1="791.9" x2="501" y2="791.9" class="gm"/>
<line x1="127" y1="809.6" x2="501" y2="809.6" class="gm"/>
<line x1="127" y1="827.4" x2="501" y2="827.4" class="gM"/>
<line x1="127" y1="845.1" x2="501" y2="845.1" class="gm"/>
<line x1="127" y1="862.9" x2="501" y2="862.9" class="gm"/>
<line x1="127" y1="880.7" x2="501" y2="880.7" class="gm"/>
<line x1="127" y1="898.4" x2="501" y2="898.4" class="gm"/>
<line x1="127" y1="916.2" x2="501" y2="916.2" class="gM"/>
<line x1="127" y1="934.0" x2="501" y2="934.0" class="gm"/>
<line x1="127" y1="951.7" x2="501" y2="951.7" class="gm"/>
<line x1="127" y1="969.5" x2="501" y2="969.5" class="gm"/>
<line x1="127" y1="987.2" x2="501" y2="987.2" class="gm"/>
<line x1="127" y1="1005.0" x2="501" y2="1005.0" class="gM"/>
<line x1="67" y1="116.9" x2="81" y2="116.9" class="tk"/>
<text x="100.7" y="122.0" class="dl">2050</text>
<line x1="67" y1="134.7" x2="81" y2="134.7" class="tk"/>
<line x1="67" y1="152.4" x2="81" y2="152.4" class="tk"/>
<line x1="67" y1="170.2" x2="81" y2="170.2" class="tk"/>
<line x1="67" y1="187.9" x2="81" y2="187.9" class="tk"/>
<line x1="67" y1="205.7" x2="81" y2="205.7" class="tk"/>
<text x="100.7" y="210.8" class="dl">2060</text>
<line x1="67" y1="223.5" x2="81" y2="223.5" class="tk"/>
<line x1="67" y1="241.2" x2="81" y2="241.2" class="tk"/>
<line x1="67" y1="259.0" x2="81" y2="259.0" class="tk"/>
<line x1="67" y1="276.8" x2="81" y2="276.8" class="tk"/>
<line x1="67" y1="294.5" x2="81" y2="294.5" class="tk"/>
<text x="100.7" y="299.6" class="dl">2070</text>
<line x1="67" y1="312.3" x2="81" y2="312.3" class="tk"/>
<line x1="67" y1="330.0" x2="81" y2="330.0" class="tk"/>
<line x1="67" y1="347.8" x2="81" y2="347.8" class="tk"/>
<line x1="67" y1="365.6" x2="81" y2="365.6" class="tk"/>
<line x1="67" y1="383.3" x2="81" y2="383.3" class="tk"/>
<text x="100.7" y="388.4" class="dl">2080</text>
<line x1="67" y1="401.1" x2="81" y2="401.1" class="tk"/>
<line x1="67" y1="418.9" x2="81" y2="418.9" class="tk"/>
<line x1="67" y1="436.6" x2="81" y2="436.6" class="tk"/>
<line x1="67" y1="454.4" x2="81" y2="454.4" class="tk"/>
<line x1="67" y1="472.1" x2="81" y2="472.1" class="tk"/>
<text x="100.7" y="477.2" class="dl">2090</text>
<line x1="67" y1="489.9" x2="81" y2="489.9" class="tk"/>
<line x1="67" y1="507.7" x2="81" y2="507.7" class="tk"/>
<line x1="67" y1="525.4" x2="81" y2="525.4" class="tk"/>
<line x1="67" y1="543.2" x2="81" y2="543.2" class="tk"/>
<line x1="67" y1="561.0" x2="81" y2="561.0" class="tk"/>
<text x="100.7" y="566.1" class="dl">2100</text>
<line x1="67" y1="578.7" x2="81" y2="578.7" class="tk"/>
<line x1="67" y1="596.5" x2="81" y2="596.5" class="tk"/>
<line x1="67" y1="614.2" x2="81" y2="614.2" class="tk"/>
<line x1="67" y1="632.0" x2="81" y2="632.0" class="tk"/>
<line x1="67" y1="649.8" x2="81" y2="649.8" class="tk"/>
<text x="100.7" y="654.9" class="dl">2110</text>
<line x1="67" y1="667.5" x2="81" y2="667.5" class="tk"/>
<line x1="67" y1="685.3" x2="81" y2="685.3" class="tk"/>
<line x1="67" y1="703.0" x2="81" y2="703.0" class="tk"/>
<line x1="67" y1="720.8" x2="81" y2="720.8" class="tk"/>
<line x1="67" y1="738.6" x2="81" y2="738.6" class="tk"/>
<text x="100.7" y="743.7" class="dl">2120</text>
<line x1="67" y1="756.3" x2="81" y2="756.3" class="tk"/>
<line x1="67" y1="774.1" x2="81" y2="774.1" class="tk"/>
<line x1="67" y1="791.9" x2="81" y2="791.9" class="tk"/>
<line x1="67" y1="809.6" x2="81" y2="809.6" class="tk"/>
<line x1="67" y1="827.4" x2="81" y2="827.4" class="tk"/>
<text x="100.7" y="832.5" class="dl">2130</text>
<line x1="67" y1="845.1" x2="81" y2="845.1" class="tk"/>
<line x1="67" y1="862.9" x2="81" y2="862.9" class="tk"/>
<line x1="67" y1="880.7" x2="81" y2="880.7" class="tk"/>
<line x1="67" y1="898.4" x2="81" y2="898.4" class="tk"/>
<line x1="67" y1="916.2" x2="81" y2="916.2" class="tk"/>
<text x="100.7" y="921.3" class="dl">2140</text>
<line x1="67" y1="934.0" x2="81" y2="934.0" class="tk"/>
<line x1="67" y1="951.7" x2="81" y2="951.7" class="tk"/>
<line x1="67" y1="969.5" x2="81" y2="969.5" class="tk"/>
<line x1="67" y1="987.2" x2="81" y2="987.2" class="tk"/>
<line x1="67" y1="1005.0" x2="81" y2="1005.0" class="tk"/>
<text x="100.7" y="1010.1" class="dl">2150</text>
<line x1="6" y1="108.5" x2="65" y2="108.5" stroke="#c0c0c0" stroke-width="1"/>
<line x1="6" y1="410.5" x2="65" y2="410.5" stroke="#c0c0c0" stroke-width="1"/>
<line x1="6" y1="702.5" x2="65" y2="702.5" stroke="#c0c0c0" stroke-width="1"/>
<line x1="6" y1="1013.5" x2="65" y2="1013.5" stroke="#c0c0c0" stroke-width="1"/>
<text x="34.5" y="256.8" class="h" style="font-size:14.3px">Chang</text>
<text x="34.3" y="271" class="h" style="font-size:14.3px">7<tspan class="sub" dx="1.5" dy="2">1</tspan></text>
<text x="35" y="560.7" class="h" style="font-size:14.3px">Chang7<tspan class="sub" dx="2" dy="2.5">2</tspan></text>
<text x="35" y="862.5" class="h" style="font-size:14.3px">Chang7<tspan class="sub" dx="2" dy="2.5">3</tspan></text>
<rect x="537.7" y="108.4" width="46.0" height="10.1" fill="#a6a6a6"/>
<circle cx="543.5" cy="110.9" r="0.85" fill="#111"/><circle cx="553.7" cy="110.9" r="0.85" fill="#111"/><circle cx="563.0" cy="110.9" r="0.85" fill="#111"/><circle cx="572.0" cy="110.9" r="0.85" fill="#111"/>
<circle cx="549.4" cy="116.0" r="0.85" fill="#111"/><circle cx="558.0" cy="116.0" r="0.85" fill="#111"/><circle cx="567.6" cy="116.0" r="0.85" fill="#111"/><circle cx="577.8" cy="116.0" r="0.85" fill="#111"/>
<line x1="537.7" y1="108.4" x2="583.7" y2="108.4" stroke="#7c7c7c" stroke-width="1"/>
<line x1="537.7" y1="113.5" x2="583.7" y2="113.5" stroke="#7c7c7c" stroke-width="1"/>
<line x1="537.7" y1="118.5" x2="583.7" y2="118.5" stroke="#7c7c7c" stroke-width="1"/>
<line x1="583.7" y1="108.4" x2="583.7" y2="118.5" stroke="#7c7c7c" stroke-width="0.8"/>
<line x1="501.5" y1="108.4" x2="519.4" y2="108.4" class="lb"/>
<line x1="519.4" y1="108.4" x2="537.7" y2="108.4" class="lb"/>
<line x1="519.4" y1="118.5" x2="537.7" y2="118.5" class="lb"/>
<polygon points="524.0,116.4 528.8,111.0 533.8,116.4" fill="#fff" stroke="#f08080" stroke-width="0.6"/>
<polygon points="524.0,116.4 528.8,111.0 529.0999999999999,116.4" fill="#f00"/>
<text x="510.2" y="116.9" class="lab" style="font-size:10.6px;fill:#222">−7</text>
<rect x="519.4" y="118.5" width="37.7" height="33.7" fill="#a6a6a6"/>
<rect x="523.4" y="121.3" width="1.2" height="1.2" fill="#333"/><rect x="526.0" y="121.3" width="1.2" height="1.2" fill="#333"/><line x1="533.9" y1="121.9" x2="538.9" y2="121.9" class="pd"/><line x1="545.1" y1="121.9" x2="550.1" y2="121.9" class="pd"/>
<line x1="526.5" y1="128.6" x2="531.5" y2="128.6" class="pd"/><line x1="537.5" y1="128.6" x2="542.5" y2="128.6" class="pd"/><rect x="549.6" y="128.0" width="1.2" height="1.2" fill="#333"/><rect x="552.2" y="128.0" width="1.2" height="1.2" fill="#333"/>
<rect x="523.4" y="134.8" width="1.2" height="1.2" fill="#333"/><rect x="526.0" y="134.8" width="1.2" height="1.2" fill="#333"/><line x1="533.9" y1="135.3" x2="538.9" y2="135.3" class="pd"/><line x1="545.1" y1="135.3" x2="550.1" y2="135.3" class="pd"/>
<line x1="526.5" y1="142.1" x2="531.5" y2="142.1" class="pd"/><line x1="537.5" y1="142.1" x2="542.5" y2="142.1" class="pd"/><rect x="549.6" y="141.5" width="1.2" height="1.2" fill="#333"/><rect x="552.2" y="141.5" width="1.2" height="1.2" fill="#333"/>
<rect x="523.4" y="148.2" width="1.2" height="1.2" fill="#333"/><rect x="526.0" y="148.2" width="1.2" height="1.2" fill="#333"/><line x1="533.9" y1="148.8" x2="538.9" y2="148.8" class="pd"/><line x1="545.1" y1="148.8" x2="550.1" y2="148.8" class="pd"/>
<line x1="519.4" y1="118.5" x2="557.1" y2="118.5" stroke="#7c7c7c" stroke-width="1"/>
<line x1="519.4" y1="125.2" x2="557.1" y2="125.2" stroke="#7c7c7c" stroke-width="1"/>
<line x1="519.4" y1="132.0" x2="557.1" y2="132.0" stroke="#7c7c7c" stroke-width="1"/>
<line x1="519.4" y1="138.7" x2="557.1" y2="138.7" stroke="#7c7c7c" stroke-width="1"/>
<line x1="519.4" y1="145.5" x2="557.1" y2="145.5" stroke="#7c7c7c" stroke-width="1"/>
<line x1="519.4" y1="152.2" x2="557.1" y2="152.2" stroke="#7c7c7c" stroke-width="1"/>
<line x1="557.1" y1="118.5" x2="557.1" y2="152.2" stroke="#7c7c7c" stroke-width="0.8"/>
<line x1="501.5" y1="118.5" x2="519.4" y2="118.5" class="lb"/>
<text x="510.2" y="139.1" class="lab" style="font-size:11.5px;fill:#222">7</text>
<rect x="537.7" y="152.2" width="46.0" height="19.7" fill="#a6a6a6"/>
<circle cx="543.5" cy="155.5" r="0.85" fill="#111"/><circle cx="553.7" cy="155.5" r="0.85" fill="#111"/><circle cx="563.0" cy="155.5" r="0.85" fill="#111"/><circle cx="572.0" cy="155.5" r="0.85" fill="#111"/>
<circle cx="549.4" cy="162.0" r="0.85" fill="#111"/><circle cx="558.0" cy="162.0" r="0.85" fill="#111"/><circle cx="567.6" cy="162.0" r="0.85" fill="#111"/><circle cx="577.8" cy="162.0" r="0.85" fill="#111"/>
<circle cx="543.5" cy="168.6" r="0.85" fill="#111"/><circle cx="553.7" cy="168.6" r="0.85" fill="#111"/><circle cx="563.0" cy="168.6" r="0.85" fill="#111"/><circle cx="572.0" cy="168.6" r="0.85" fill="#111"/>
<line x1="537.7" y1="152.2" x2="583.7" y2="152.2" stroke="#7c7c7c" stroke-width="1"/>
<line x1="537.7" y1="158.8" x2="583.7" y2="158.8" stroke="#7c7c7c" stroke-width="1"/>
<line x1="537.7" y1="165.3" x2="583.7" y2="165.3" stroke="#7c7c7c" stroke-width="1"/>
<line x1="537.7" y1="171.9" x2="583.7" y2="171.9" stroke="#7c7c7c" stroke-width="1"/>
<line x1="583.7" y1="152.2" x2="583.7" y2="171.9" stroke="#7c7c7c" stroke-width="0.8"/>
<line x1="501.5" y1="152.2" x2="519.4" y2="152.2" class="lb"/>
<line x1="519.4" y1="152.2" x2="537.7" y2="152.2" class="lb"/>
<line x1="519.4" y1="171.9" x2="537.7" y2="171.9" class="lb"/>
<polygon points="524.0,167.3 528.8,157.1 533.8,167.3" fill="#fff" stroke="#f08080" stroke-width="0.6"/>
<polygon points="524.0,167.3 528.8,157.1 529.0999999999999,167.3" fill="#f00"/>
<text x="510.2" y="165.8" class="lab" style="font-size:11.5px;fill:#222">−7</text>
<rect x="519.4" y="171.9" width="64.3" height="7.3" fill="#a6a6a6"/>
<circle cx="527.5" cy="175.6" r="0.85" fill="#111"/><circle cx="542.0" cy="175.6" r="0.85" fill="#111"/><circle cx="554.8" cy="175.6" r="0.85" fill="#111"/><circle cx="567.6" cy="175.6" r="0.85" fill="#111"/>
<line x1="519.4" y1="171.9" x2="583.7" y2="171.9" stroke="#7c7c7c" stroke-width="1"/>
<line x1="519.4" y1="179.2" x2="583.7" y2="179.2" stroke="#7c7c7c" stroke-width="1"/>
<line x1="583.7" y1="171.9" x2="583.7" y2="179.2" stroke="#7c7c7c" stroke-width="0.8"/>
<line x1="501.5" y1="171.9" x2="519.4" y2="171.9" class="lb"/>
<text x="510.2" y="178.1" class="lab" style="font-size:7.7px;fill:#777">−7</text>
<rect x="537.7" y="179.2" width="46.0" height="26.7" fill="#a3ad9b"/>
<circle cx="543.5" cy="182.5" r="0.85" fill="#111"/><circle cx="553.7" cy="182.5" r="0.85" fill="#111"/><circle cx="563.0" cy="182.5" r="0.85" fill="#111"/><circle cx="572.0" cy="182.5" r="0.85" fill="#111"/>
<circle cx="549.4" cy="189.2" r="0.85" fill="#111"/><circle cx="558.0" cy="189.2" r="0.85" fill="#111"/><circle cx="567.6" cy="189.2" r="0.85" fill="#111"/><circle cx="577.8" cy="189.2" r="0.85" fill="#111"/>
<circle cx="543.5" cy="195.9" r="0.85" fill="#111"/><circle cx="553.7" cy="195.9" r="0.85" fill="#111"/><circle cx="563.0" cy="195.9" r="0.85" fill="#111"/><circle cx="572.0" cy="195.9" r="0.85" fill="#111"/>
<circle cx="549.4" cy="202.6" r="0.85" fill="#111"/><circle cx="558.0" cy="202.6" r="0.85" fill="#111"/><circle cx="567.6" cy="202.6" r="0.85" fill="#111"/><circle cx="577.8" cy="202.6" r="0.85" fill="#111"/>
<line x1="537.7" y1="179.2" x2="583.7" y2="179.2" stroke="#7f8979" stroke-width="1"/>
<line x1="537.7" y1="185.9" x2="583.7" y2="185.9" stroke="#7f8979" stroke-width="1"/>
<line x1="537.7" y1="192.6" x2="583.7" y2="192.6" stroke="#7f8979" stroke-width="1"/>
<line x1="537.7" y1="199.2" x2="583.7" y2="199.2" stroke="#7f8979" stroke-width="1"/>
<line x1="537.7" y1="205.9" x2="583.7" y2="205.9" stroke="#7f8979" stroke-width="1"/>
<line x1="583.7" y1="179.2" x2="583.7" y2="205.9" stroke="#7f8979" stroke-width="0.8"/>
<line x1="501.5" y1="179.2" x2="519.4" y2="179.2" class="lb"/>
<line x1="519.4" y1="179.2" x2="537.7" y2="179.2" class="lb"/>
<line x1="519.4" y1="205.9" x2="537.7" y2="205.9" class="lb"/>
<polygon points="524.0,196.4 528.8,184.8 533.8,196.4" fill="#f00"/>
<text x="505.4" y="196.6" class="lab" style="font-size:12px;fill:#333">7</text>
<text x="509.9" y="196.6" class="lab" style="font-size:12px;fill:#333">.</text>
<text x="516.6" y="196.6" class="lab" style="font-size:12px;fill:#333">3</text>
<rect x="519.4" y="205.9" width="46.5" height="8.3" fill="#a6a6a6"/>
<line x1="523.5" y1="210.1" x2="528.5" y2="210.1" class="pd"/><rect x="532.6" y="209.5" width="1.2" height="1.2" fill="#222"/><rect x="535.2" y="209.5" width="1.2" height="1.2" fill="#222"/><rect x="541.6" y="209.5" width="1.2" height="1.2" fill="#222"/><rect x="544.2" y="209.5" width="1.2" height="1.2" fill="#222"/><rect x="551.1" y="209.5" width="1.2" height="1.2" fill="#222"/><rect x="553.7" y="209.5" width="1.2" height="1.2" fill="#222"/>
<line x1="519.4" y1="205.9" x2="565.9" y2="205.9" stroke="#7c7c7c" stroke-width="1"/>
<line x1="519.4" y1="214.2" x2="565.9" y2="214.2" stroke="#7c7c7c" stroke-width="1"/>
<line x1="565.9" y1="205.9" x2="565.9" y2="214.2" stroke="#7c7c7c" stroke-width="0.8"/>
<line x1="501.5" y1="205.9" x2="519.4" y2="205.9" class="lb"/>
<text x="510.2" y="212.9" class="lab" style="font-size:8.7px;fill:#777">7</text>
<rect x="519.4" y="214.2" width="64.3" height="3.4" fill="#a6a6a6"/>
<circle cx="527.5" cy="215.9" r="0.85" fill="#111"/><circle cx="542.0" cy="215.9" r="0.85" fill="#111"/><circle cx="554.8" cy="215.9" r="0.85" fill="#111"/><circle cx="567.6" cy="215.9" r="0.85" fill="#111"/>
<line x1="519.4" y1="214.2" x2="583.7" y2="214.2" stroke="#7c7c7c" stroke-width="1"/>
<line x1="519.4" y1="217.6" x2="583.7" y2="217.6" stroke="#7c7c7c" stroke-width="1"/>
<line x1="583.7" y1="214.2" x2="583.7" y2="217.6" stroke="#7c7c7c" stroke-width="0.8"/>
<line x1="501.5" y1="214.2" x2="519.4" y2="214.2" class="lb"/>
<rect x="519.4" y="217.6" width="46.5" height="10.2" fill="#a6a6a6"/>
<line x1="523.5" y1="222.7" x2="528.5" y2="222.7" class="pd"/><rect x="532.6" y="222.1" width="1.2" height="1.2" fill="#222"/><rect x="535.2" y="222.1" width="1.2" height="1.2" fill="#222"/><rect x="541.6" y="222.1" width="1.2" height="1.2" fill="#222"/><rect x="544.2" y="222.1" width="1.2" height="1.2" fill="#222"/><rect x="551.1" y="222.1" width="1.2" height="1.2" fill="#222"/><rect x="553.7" y="222.1" width="1.2" height="1.2" fill="#222"/>
<line x1="519.4" y1="217.6" x2="565.9" y2="217.6" stroke="#7c7c7c" stroke-width="1"/>
<line x1="519.4" y1="227.8" x2="565.9" y2="227.8" stroke="#7c7c7c" stroke-width="1"/>
<line x1="565.9" y1="217.6" x2="565.9" y2="227.8" stroke="#7c7c7c" stroke-width="0.8"/>
<line x1="501.5" y1="217.6" x2="519.4" y2="217.6" class="lb"/>
<text x="510.2" y="226.2" class="lab" style="font-size:10.7px;fill:#222">7</text>
<rect x="519.4" y="227.8" width="64.3" height="1.9" fill="#a6a6a6"/>
<circle cx="527.5" cy="228.8" r="0.85" fill="#111"/><circle cx="542.0" cy="228.8" r="0.85" fill="#111"/><circle cx="554.8" cy="228.8" r="0.85" fill="#111"/><circle cx="567.6" cy="228.8" r="0.85" fill="#111"/>
<line x1="519.4" y1="227.8" x2="583.7" y2="227.8" stroke="#7c7c7c" stroke-width="1"/>
<line x1="519.4" y1="229.7" x2="583.7" y2="229.7" stroke="#7c7c7c" stroke-width="1"/>
<line x1="583.7" y1="227.8" x2="583.7" y2="229.7" stroke="#7c7c7c" stroke-width="0.8"/>
<line x1="501.5" y1="227.8" x2="519.4" y2="227.8" class="lb"/>
<rect x="519.4" y="229.7" width="46.5" height="32.4" fill="#a6a6a6"/>
<line x1="523.5" y1="232.9" x2="528.5" y2="232.9" class="pd"/><rect x="532.6" y="232.3" width="1.2" height="1.2" fill="#222"/><rect x="535.2" y="232.3" width="1.2" height="1.2" fill="#222"/><rect x="541.6" y="232.3" width="1.2" height="1.2" fill="#222"/><rect x="544.2" y="232.3" width="1.2" height="1.2" fill="#222"/><rect x="551.1" y="232.3" width="1.2" height="1.2" fill="#222"/><rect x="553.7" y="232.3" width="1.2" height="1.2" fill="#222"/>
<rect x="530.1" y="238.8" width="1.2" height="1.2" fill="#222"/><rect x="532.7" y="238.8" width="1.2" height="1.2" fill="#222"/><rect x="539.4" y="238.8" width="1.2" height="1.2" fill="#222"/><rect x="542.0" y="238.8" width="1.2" height="1.2" fill="#222"/><rect x="548.5" y="238.8" width="1.2" height="1.2" fill="#222"/><rect x="551.1" y="238.8" width="1.2" height="1.2" fill="#222"/><line x1="556.1" y1="239.4" x2="561.1" y2="239.4" class="pd"/>
<line x1="523.5" y1="245.9" x2="528.5" y2="245.9" class="pd"/><rect x="532.6" y="245.3" width="1.2" height="1.2" fill="#222"/><rect x="535.2" y="245.3" width="1.2" height="1.2" fill="#222"/><rect x="541.6" y="245.3" width="1.2" height="1.2" fill="#222"/><rect x="544.2" y="245.3" width="1.2" height="1.2" fill="#222"/><rect x="551.1" y="245.3" width="1.2" height="1.2" fill="#222"/><rect x="553.7" y="245.3" width="1.2" height="1.2" fill="#222"/>
<rect x="530.1" y="251.8" width="1.2" height="1.2" fill="#222"/><rect x="532.7" y="251.8" width="1.2" height="1.2" fill="#222"/><rect x="539.4" y="251.8" width="1.2" height="1.2" fill="#222"/><rect x="542.0" y="251.8" width="1.2" height="1.2" fill="#222"/><rect x="548.5" y="251.8" width="1.2" height="1.2" fill="#222"/><rect x="551.1" y="251.8" width="1.2" height="1.2" fill="#222"/><line x1="556.1" y1="252.4" x2="561.1" y2="252.4" class="pd"/>
<line x1="523.5" y1="258.9" x2="528.5" y2="258.9" class="pd"/><rect x="532.6" y="258.3" width="1.2" height="1.2" fill="#222"/><rect x="535.2" y="258.3" width="1.2" height="1.2" fill="#222"/><rect x="541.6" y="258.3" width="1.2" height="1.2" fill="#222"/><rect x="544.2" y="258.3" width="1.2" height="1.2" fill="#222"/><rect x="551.1" y="258.3" width="1.2" height="1.2" fill="#222"/><rect x="553.7" y="258.3" width="1.2" height="1.2" fill="#222"/>
<line x1="519.4" y1="229.7" x2="565.9" y2="229.7" stroke="#7c7c7c" stroke-width="1"/>
<line x1="519.4" y1="236.2" x2="565.9" y2="236.2" stroke="#7c7c7c" stroke-width="1"/>
<line x1="519.4" y1="242.7" x2="565.9" y2="242.7" stroke="#7c7c7c" stroke-width="1"/>
<line x1="519.4" y1="249.1" x2="565.9" y2="249.1" stroke="#7c7c7c" stroke-width="1"/>
<line x1="519.4" y1="255.6" x2="565.9" y2="255.6" stroke="#7c7c7c" stroke-width="1"/>
<line x1="519.4" y1="262.1" x2="565.9" y2="262.1" stroke="#7c7c7c" stroke-width="1"/>
<line x1="565.9" y1="229.7" x2="565.9" y2="262.1" stroke="#7c7c7c" stroke-width="0.8"/>
<line x1="501.5" y1="229.7" x2="519.4" y2="229.7" class="lb"/>
<text x="510.2" y="249.7" class="lab" style="font-size:11.5px;fill:#222">7</text>
<rect x="519.4" y="262.1" width="64.3" height="5.9" fill="#a6a6a6"/>
<circle cx="527.5" cy="265.1" r="0.85" fill="#111"/><circle cx="542.0" cy="265.1" r="0.85" fill="#111"/><circle cx="554.8" cy="265.1" r="0.85" fill="#111"/><circle cx="567.6" cy="265.1" r="0.85" fill="#111"/>
<line x1="519.4" y1="262.1" x2="583.7" y2="262.1" stroke="#7c7c7c" stroke-width="1"/>
<line x1="519.4" y1="268.0" x2="583.7" y2="268.0" stroke="#7c7c7c" stroke-width="1"/>
<line x1="583.7" y1="262.1" x2="583.7" y2="268.0" stroke="#7c7c7c" stroke-width="0.8"/>
<line x1="501.5" y1="262.1" x2="519.4" y2="262.1" class="lb"/>
<text x="510.2" y="267.1" class="lab" style="font-size:6.2px;fill:#777">7</text>
<rect x="519.4" y="268.0" width="46.5" height="19.4" fill="#a6a6a6"/>
<line x1="523.5" y1="271.2" x2="528.5" y2="271.2" class="pd"/><rect x="532.6" y="270.6" width="1.2" height="1.2" fill="#222"/><rect x="535.2" y="270.6" width="1.2" height="1.2" fill="#222"/><rect x="541.6" y="270.6" width="1.2" height="1.2" fill="#222"/><rect x="544.2" y="270.6" width="1.2" height="1.2" fill="#222"/><rect x="551.1" y="270.6" width="1.2" height="1.2" fill="#222"/><rect x="553.7" y="270.6" width="1.2" height="1.2" fill="#222"/>
<rect x="530.1" y="277.1" width="1.2" height="1.2" fill="#222"/><rect x="532.7" y="277.1" width="1.2" height="1.2" fill="#222"/><rect x="539.4" y="277.1" width="1.2" height="1.2" fill="#222"/><rect x="542.0" y="277.1" width="1.2" height="1.2" fill="#222"/><rect x="548.5" y="277.1" width="1.2" height="1.2" fill="#222"/><rect x="551.1" y="277.1" width="1.2" height="1.2" fill="#222"/><line x1="556.1" y1="277.7" x2="561.1" y2="277.7" class="pd"/>
<line x1="523.5" y1="284.2" x2="528.5" y2="284.2" class="pd"/><rect x="532.6" y="283.6" width="1.2" height="1.2" fill="#222"/><rect x="535.2" y="283.6" width="1.2" height="1.2" fill="#222"/><rect x="541.6" y="283.6" width="1.2" height="1.2" fill="#222"/><rect x="544.2" y="283.6" width="1.2" height="1.2" fill="#222"/><rect x="551.1" y="283.6" width="1.2" height="1.2" fill="#222"/><rect x="553.7" y="283.6" width="1.2" height="1.2" fill="#222"/>
<line x1="519.4" y1="268.0" x2="565.9" y2="268.0" stroke="#7c7c7c" stroke-width="1"/>
<line x1="519.4" y1="274.5" x2="565.9" y2="274.5" stroke="#7c7c7c" stroke-width="1"/>
<line x1="519.4" y1="280.9" x2="565.9" y2="280.9" stroke="#7c7c7c" stroke-width="1"/>
<line x1="519.4" y1="287.4" x2="565.9" y2="287.4" stroke="#7c7c7c" stroke-width="1"/>
<line x1="565.9" y1="268.0" x2="565.9" y2="287.4" stroke="#7c7c7c" stroke-width="0.8"/>
<line x1="501.5" y1="268.0" x2="519.4" y2="268.0" class="lb"/>
<text x="510.2" y="281.5" class="lab" style="font-size:11.5px;fill:#222">7</text>
<rect x="519.4" y="287.4" width="64.3" height="6.8" fill="#a6a6a6"/>
<circle cx="527.5" cy="290.8" r="0.85" fill="#111"/><circle cx="542.0" cy="290.8" r="0.85" fill="#111"/><circle cx="554.8" cy="290.8" r="0.85" fill="#111"/><circle cx="567.6" cy="290.8" r="0.85" fill="#111"/>
<line x1="519.4" y1="287.4" x2="583.7" y2="287.4" stroke="#7c7c7c" stroke-width="1"/>
<line x1="519.4" y1="294.2" x2="583.7" y2="294.2" stroke="#7c7c7c" stroke-width="1"/>
<line x1="583.7" y1="287.4" x2="583.7" y2="294.2" stroke="#7c7c7c" stroke-width="0.8"/>
<line x1="501.5" y1="287.4" x2="519.4" y2="287.4" class="lb"/>
<text x="510.2" y="293.2" class="lab" style="font-size:7.1px;fill:#777">7</text>
<rect x="519.4" y="294.2" width="46.5" height="15.8" fill="#a6a6a6"/>
<line x1="523.5" y1="298.1" x2="528.5" y2="298.1" class="pd"/><rect x="532.6" y="297.5" width="1.2" height="1.2" fill="#222"/><rect x="535.2" y="297.5" width="1.2" height="1.2" fill="#222"/><rect x="541.6" y="297.5" width="1.2" height="1.2" fill="#222"/><rect x="544.2" y="297.5" width="1.2" height="1.2" fill="#222"/><rect x="551.1" y="297.5" width="1.2" height="1.2" fill="#222"/><rect x="553.7" y="297.5" width="1.2" height="1.2" fill="#222"/>
<rect x="530.1" y="305.4" width="1.2" height="1.2" fill="#222"/><rect x="532.7" y="305.4" width="1.2" height="1.2" fill="#222"/><rect x="539.4" y="305.4" width="1.2" height="1.2" fill="#222"/><rect x="542.0" y="305.4" width="1.2" height="1.2" fill="#222"/><rect x="548.5" y="305.4" width="1.2" height="1.2" fill="#222"/><rect x="551.1" y="305.4" width="1.2" height="1.2" fill="#222"/><line x1="556.1" y1="306.1" x2="561.1" y2="306.1" class="pd"/>
<line x1="519.4" y1="294.2" x2="565.9" y2="294.2" stroke="#7c7c7c" stroke-width="1"/>
<line x1="519.4" y1="302.1" x2="565.9" y2="302.1" stroke="#7c7c7c" stroke-width="1"/>
<line x1="519.4" y1="310.0" x2="565.9" y2="310.0" stroke="#7c7c7c" stroke-width="1"/>
<line x1="565.9" y1="294.2" x2="565.9" y2="310.0" stroke="#7c7c7c" stroke-width="0.8"/>
<line x1="501.5" y1="294.2" x2="519.4" y2="294.2" class="lb"/>
<text x="510.2" y="305.9" class="lab" style="font-size:11.5px;fill:#222">7</text>
<rect x="519.4" y="310.0" width="64.3" height="5.1" fill="#a6a6a6"/>
<circle cx="527.5" cy="312.6" r="0.85" fill="#111"/><circle cx="542.0" cy="312.6" r="0.85" fill="#111"/><circle cx="554.8" cy="312.6" r="0.85" fill="#111"/><circle cx="567.6" cy="312.6" r="0.85" fill="#111"/>
<line x1="519.4" y1="310.0" x2="583.7" y2="310.0" stroke="#7c7c7c" stroke-width="1"/>
<line x1="519.4" y1="315.1" x2="583.7" y2="315.1" stroke="#7c7c7c" stroke-width="1"/>
<line x1="583.7" y1="310.0" x2="583.7" y2="315.1" stroke="#7c7c7c" stroke-width="0.8"/>
<line x1="501.5" y1="310.0" x2="519.4" y2="310.0" class="lb"/>
<text x="510.2" y="314.3" class="lab" style="font-size:5.4px;fill:#777">7</text>
<rect x="519.4" y="315.1" width="46.5" height="29.3" fill="#a6a6a6"/>
<line x1="523.5" y1="318.8" x2="528.5" y2="318.8" class="pd"/><rect x="532.6" y="318.2" width="1.2" height="1.2" fill="#222"/><rect x="535.2" y="318.2" width="1.2" height="1.2" fill="#222"/><rect x="541.6" y="318.2" width="1.2" height="1.2" fill="#222"/><rect x="544.2" y="318.2" width="1.2" height="1.2" fill="#222"/><rect x="551.1" y="318.2" width="1.2" height="1.2" fill="#222"/><rect x="553.7" y="318.2" width="1.2" height="1.2" fill="#222"/>
<rect x="530.1" y="325.5" width="1.2" height="1.2" fill="#222"/><rect x="532.7" y="325.5" width="1.2" height="1.2" fill="#222"/><rect x="539.4" y="325.5" width="1.2" height="1.2" fill="#222"/><rect x="542.0" y="325.5" width="1.2" height="1.2" fill="#222"/><rect x="548.5" y="325.5" width="1.2" height="1.2" fill="#222"/><rect x="551.1" y="325.5" width="1.2" height="1.2" fill="#222"/><line x1="556.1" y1="326.1" x2="561.1" y2="326.1" class="pd"/>
<line x1="523.5" y1="333.4" x2="528.5" y2="333.4" class="pd"/><rect x="532.6" y="332.8" width="1.2" height="1.2" fill="#222"/><rect x="535.2" y="332.8" width="1.2" height="1.2" fill="#222"/><rect x="541.6" y="332.8" width="1.2" height="1.2" fill="#222"/><rect x="544.2" y="332.8" width="1.2" height="1.2" fill="#222"/><rect x="551.1" y="332.8" width="1.2" height="1.2" fill="#222"/><rect x="553.7" y="332.8" width="1.2" height="1.2" fill="#222"/>
<rect x="530.1" y="340.1" width="1.2" height="1.2" fill="#222"/><rect x="532.7" y="340.1" width="1.2" height="1.2" fill="#222"/><rect x="539.4" y="340.1" width="1.2" height="1.2" fill="#222"/><rect x="542.0" y="340.1" width="1.2" height="1.2" fill="#222"/><rect x="548.5" y="340.1" width="1.2" height="1.2" fill="#222"/><rect x="551.1" y="340.1" width="1.2" height="1.2" fill="#222"/><line x1="556.1" y1="340.7" x2="561.1" y2="340.7" class="pd"/>
<line x1="519.4" y1="315.1" x2="565.9" y2="315.1" stroke="#7c7c7c" stroke-width="1"/>
<line x1="519.4" y1="322.4" x2="565.9" y2="322.4" stroke="#7c7c7c" stroke-width="1"/>
<line x1="519.4" y1="329.8" x2="565.9" y2="329.8" stroke="#7c7c7c" stroke-width="1"/>
<line x1="519.4" y1="337.1" x2="565.9" y2="337.1" stroke="#7c7c7c" stroke-width="1"/>
<line x1="519.4" y1="344.4" x2="565.9" y2="344.4" stroke="#7c7c7c" stroke-width="1"/>
<line x1="565.9" y1="315.1" x2="565.9" y2="344.4" stroke="#7c7c7c" stroke-width="0.8"/>
<line x1="501.5" y1="315.1" x2="519.4" y2="315.1" class="lb"/>
<text x="510.2" y="333.5" class="lab" style="font-size:11.5px;fill:#222">7</text>
<rect x="519.4" y="344.4" width="37.7" height="22.3" fill="#a6a6a6"/>
<rect x="523.4" y="347.5" width="1.2" height="1.2" fill="#333"/><rect x="526.0" y="347.5" width="1.2" height="1.2" fill="#333"/><line x1="533.9" y1="348.1" x2="538.9" y2="348.1" class="pd"/><line x1="545.1" y1="348.1" x2="550.1" y2="348.1" class="pd"/>
<line x1="526.5" y1="355.5" x2="531.5" y2="355.5" class="pd"/><line x1="537.5" y1="355.5" x2="542.5" y2="355.5" class="pd"/><rect x="549.6" y="354.9" width="1.2" height="1.2" fill="#333"/><rect x="552.2" y="354.9" width="1.2" height="1.2" fill="#333"/>
<rect x="523.4" y="362.4" width="1.2" height="1.2" fill="#333"/><rect x="526.0" y="362.4" width="1.2" height="1.2" fill="#333"/><line x1="533.9" y1="363.0" x2="538.9" y2="363.0" class="pd"/><line x1="545.1" y1="363.0" x2="550.1" y2="363.0" class="pd"/>
<line x1="519.4" y1="344.4" x2="557.1" y2="344.4" stroke="#7c7c7c" stroke-width="1"/>
<line x1="519.4" y1="351.8" x2="557.1" y2="351.8" stroke="#7c7c7c" stroke-width="1"/>
<line x1="519.4" y1="359.3" x2="557.1" y2="359.3" stroke="#7c7c7c" stroke-width="1"/>
<line x1="519.4" y1="366.7" x2="557.1" y2="366.7" stroke="#7c7c7c" stroke-width="1"/>
<line x1="557.1" y1="344.4" x2="557.1" y2="366.7" stroke="#7c7c7c" stroke-width="0.8"/>
<line x1="501.5" y1="344.4" x2="519.4" y2="344.4" class="lb"/>
<text x="510.2" y="359.3" class="lab" style="font-size:11.5px;fill:#222">7</text>
<rect x="519.4" y="366.7" width="27.5" height="41.6" fill="#a6a6a6"/>
<line x1="521.5" y1="370.2" x2="524.5" y2="370.2" class="pd"/><line x1="530.3" y1="370.2" x2="533.3" y2="370.2" class="pd"/><line x1="539.1" y1="370.2" x2="542.1" y2="370.2" class="pd"/>
<line x1="525.2" y1="377.1" x2="528.2" y2="377.1" class="pd"/><line x1="533.3" y1="377.1" x2="536.3" y2="377.1" class="pd"/><line x1="541.3" y1="377.1" x2="544.3" y2="377.1" class="pd"/>
<line x1="521.5" y1="384.0" x2="524.5" y2="384.0" class="pd"/><line x1="530.3" y1="384.0" x2="533.3" y2="384.0" class="pd"/><line x1="539.1" y1="384.0" x2="542.1" y2="384.0" class="pd"/>
<line x1="525.2" y1="391.0" x2="528.2" y2="391.0" class="pd"/><line x1="533.3" y1="391.0" x2="536.3" y2="391.0" class="pd"/><line x1="541.3" y1="391.0" x2="544.3" y2="391.0" class="pd"/>
<line x1="521.5" y1="397.9" x2="524.5" y2="397.9" class="pd"/><line x1="530.3" y1="397.9" x2="533.3" y2="397.9" class="pd"/><line x1="539.1" y1="397.9" x2="542.1" y2="397.9" class="pd"/>
<line x1="525.2" y1="404.8" x2="528.2" y2="404.8" class="pd"/><line x1="533.3" y1="404.8" x2="536.3" y2="404.8" class="pd"/><line x1="541.3" y1="404.8" x2="544.3" y2="404.8" class="pd"/>
<line x1="519.4" y1="366.7" x2="546.9" y2="366.7" stroke="#7c7c7c" stroke-width="1"/>
<line x1="519.4" y1="373.6" x2="546.9" y2="373.6" stroke="#7c7c7c" stroke-width="1"/>
<line x1="519.4" y1="380.6" x2="546.9" y2="380.6" stroke="#7c7c7c" stroke-width="1"/>
<line x1="519.4" y1="387.5" x2="546.9" y2="387.5" stroke="#7c7c7c" stroke-width="1"/>
<line x1="519.4" y1="394.4" x2="546.9" y2="394.4" stroke="#7c7c7c" stroke-width="1"/>
<line x1="519.4" y1="401.4" x2="546.9" y2="401.4" stroke="#7c7c7c" stroke-width="1"/>
<line x1="519.4" y1="408.3" x2="546.9" y2="408.3" stroke="#7c7c7c" stroke-width="1"/>
<line x1="546.9" y1="366.7" x2="546.9" y2="408.3" stroke="#7c7c7c" stroke-width="0.8"/>
<line x1="501.5" y1="366.7" x2="519.4" y2="366.7" class="lb"/>
<text x="510.2" y="391.3" class="lab" style="font-size:11.5px;fill:#222">+7</text>
<rect x="519.4" y="408.3" width="46.5" height="7.3" fill="#a6a6a6"/>
<line x1="523.5" y1="412.0" x2="528.5" y2="412.0" class="pd"/><rect x="532.6" y="411.4" width="1.2" height="1.2" fill="#222"/><rect x="535.2" y="411.4" width="1.2" height="1.2" fill="#222"/><rect x="541.6" y="411.4" width="1.2" height="1.2" fill="#222"/><rect x="544.2" y="411.4" width="1.2" height="1.2" fill="#222"/><rect x="551.1" y="411.4" width="1.2" height="1.2" fill="#222"/><rect x="553.7" y="411.4" width="1.2" height="1.2" fill="#222"/>
<line x1="519.4" y1="408.3" x2="565.9" y2="408.3" stroke="#7c7c7c" stroke-width="1"/>
<line x1="519.4" y1="415.6" x2="565.9" y2="415.6" stroke="#7c7c7c" stroke-width="1"/>
<line x1="565.9" y1="408.3" x2="565.9" y2="415.6" stroke="#7c7c7c" stroke-width="0.8"/>
<line x1="501.5" y1="408.3" x2="519.4" y2="408.3" class="lb"/>
<text x="510.2" y="414.5" class="lab" style="font-size:7.7px;fill:#777">7</text>
<rect x="519.4" y="415.6" width="37.7" height="24.9" fill="#a6a6a6"/>
<rect x="523.4" y="418.1" width="1.2" height="1.2" fill="#333"/><rect x="526.0" y="418.1" width="1.2" height="1.2" fill="#333"/><line x1="533.9" y1="418.7" x2="538.9" y2="418.7" class="pd"/><line x1="545.1" y1="418.7" x2="550.1" y2="418.7" class="pd"/>
<line x1="526.5" y1="424.9" x2="531.5" y2="424.9" class="pd"/><line x1="537.5" y1="424.9" x2="542.5" y2="424.9" class="pd"/><rect x="549.6" y="424.3" width="1.2" height="1.2" fill="#333"/><rect x="552.2" y="424.3" width="1.2" height="1.2" fill="#333"/>
<rect x="523.4" y="430.6" width="1.2" height="1.2" fill="#333"/><rect x="526.0" y="430.6" width="1.2" height="1.2" fill="#333"/><line x1="533.9" y1="431.2" x2="538.9" y2="431.2" class="pd"/><line x1="545.1" y1="431.2" x2="550.1" y2="431.2" class="pd"/>
<line x1="526.5" y1="437.4" x2="531.5" y2="437.4" class="pd"/><line x1="537.5" y1="437.4" x2="542.5" y2="437.4" class="pd"/><rect x="549.6" y="436.8" width="1.2" height="1.2" fill="#333"/><rect x="552.2" y="436.8" width="1.2" height="1.2" fill="#333"/>
<line x1="519.4" y1="415.6" x2="557.1" y2="415.6" stroke="#7c7c7c" stroke-width="1"/>
<line x1="519.4" y1="421.8" x2="557.1" y2="421.8" stroke="#7c7c7c" stroke-width="1"/>
<line x1="519.4" y1="428.1" x2="557.1" y2="428.1" stroke="#7c7c7c" stroke-width="1"/>
<line x1="519.4" y1="434.3" x2="557.1" y2="434.3" stroke="#7c7c7c" stroke-width="1"/>
<line x1="519.4" y1="440.5" x2="557.1" y2="440.5" stroke="#7c7c7c" stroke-width="1"/>
<line x1="557.1" y1="415.6" x2="557.1" y2="440.5" stroke="#7c7c7c" stroke-width="0.8"/>
<line x1="501.5" y1="415.6" x2="519.4" y2="415.6" class="lb"/>
<text x="510.2" y="431.8" class="lab" style="font-size:11.5px;fill:#222">7</text>
<rect x="537.7" y="440.5" width="46.0" height="25.9" fill="#a6a6a6"/>
<circle cx="543.5" cy="443.7" r="0.85" fill="#111"/><circle cx="553.7" cy="443.7" r="0.85" fill="#111"/><circle cx="563.0" cy="443.7" r="0.85" fill="#111"/><circle cx="572.0" cy="443.7" r="0.85" fill="#111"/>
<circle cx="549.4" cy="450.2" r="0.85" fill="#111"/><circle cx="558.0" cy="450.2" r="0.85" fill="#111"/><circle cx="567.6" cy="450.2" r="0.85" fill="#111"/><circle cx="577.8" cy="450.2" r="0.85" fill="#111"/>
<circle cx="543.5" cy="456.7" r="0.85" fill="#111"/><circle cx="553.7" cy="456.7" r="0.85" fill="#111"/><circle cx="563.0" cy="456.7" r="0.85" fill="#111"/><circle cx="572.0" cy="456.7" r="0.85" fill="#111"/>
<circle cx="549.4" cy="463.2" r="0.85" fill="#111"/><circle cx="558.0" cy="463.2" r="0.85" fill="#111"/><circle cx="567.6" cy="463.2" r="0.85" fill="#111"/><circle cx="577.8" cy="463.2" r="0.85" fill="#111"/>
<line x1="537.7" y1="440.5" x2="583.7" y2="440.5" stroke="#7c7c7c" stroke-width="1"/>
<line x1="537.7" y1="447.0" x2="583.7" y2="447.0" stroke="#7c7c7c" stroke-width="1"/>
<line x1="537.7" y1="453.4" x2="583.7" y2="453.4" stroke="#7c7c7c" stroke-width="1"/>
<line x1="537.7" y1="459.9" x2="583.7" y2="459.9" stroke="#7c7c7c" stroke-width="1"/>
<line x1="537.7" y1="466.4" x2="583.7" y2="466.4" stroke="#7c7c7c" stroke-width="1"/>
<line x1="583.7" y1="440.5" x2="583.7" y2="466.4" stroke="#7c7c7c" stroke-width="0.8"/>
<line x1="501.5" y1="440.5" x2="519.4" y2="440.5" class="lb"/>
<line x1="519.4" y1="440.5" x2="537.7" y2="440.5" class="lb"/>
<line x1="519.4" y1="466.4" x2="537.7" y2="466.4" class="lb"/>
<polygon points="524.0,460.3 528.8,447.0 533.8,460.3" fill="#fff" stroke="#f08080" stroke-width="0.6"/>
<polygon points="524.0,460.3 528.8,447.0 529.0999999999999,460.3" fill="#f00"/>
<text x="510.2" y="457.2" class="lab" style="font-size:11.5px;fill:#222">−7</text>
<rect x="519.4" y="466.4" width="64.3" height="7.3" fill="#a6a6a6"/>
<circle cx="527.5" cy="470.0" r="0.85" fill="#111"/><circle cx="542.0" cy="470.0" r="0.85" fill="#111"/><circle cx="554.8" cy="470.0" r="0.85" fill="#111"/><circle cx="567.6" cy="470.0" r="0.85" fill="#111"/>
<line x1="519.4" y1="466.4" x2="583.7" y2="466.4" stroke="#7c7c7c" stroke-width="1"/>
<line x1="519.4" y1="473.7" x2="583.7" y2="473.7" stroke="#7c7c7c" stroke-width="1"/>
<line x1="583.7" y1="466.4" x2="583.7" y2="473.7" stroke="#7c7c7c" stroke-width="0.8"/>
<line x1="501.5" y1="466.4" x2="519.4" y2="466.4" class="lb"/>
<text x="510.2" y="472.6" class="lab" style="font-size:7.7px;fill:#777">7</text>
<rect x="537.7" y="473.7" width="46.0" height="40.5" fill="#a6a6a6"/>
<circle cx="543.5" cy="477.1" r="0.85" fill="#111"/><circle cx="553.7" cy="477.1" r="0.85" fill="#111"/><circle cx="563.0" cy="477.1" r="0.85" fill="#111"/><circle cx="572.0" cy="477.1" r="0.85" fill="#111"/>
<circle cx="549.4" cy="483.8" r="0.85" fill="#111"/><circle cx="558.0" cy="483.8" r="0.85" fill="#111"/><circle cx="567.6" cy="483.8" r="0.85" fill="#111"/><circle cx="577.8" cy="483.8" r="0.85" fill="#111"/>
<circle cx="543.5" cy="490.6" r="0.85" fill="#111"/><circle cx="553.7" cy="490.6" r="0.85" fill="#111"/><circle cx="563.0" cy="490.6" r="0.85" fill="#111"/><circle cx="572.0" cy="490.6" r="0.85" fill="#111"/>
<circle cx="549.4" cy="497.3" r="0.85" fill="#111"/><circle cx="558.0" cy="497.3" r="0.85" fill="#111"/><circle cx="567.6" cy="497.3" r="0.85" fill="#111"/><circle cx="577.8" cy="497.3" r="0.85" fill="#111"/>
<circle cx="543.5" cy="504.1" r="0.85" fill="#111"/><circle cx="553.7" cy="504.1" r="0.85" fill="#111"/><circle cx="563.0" cy="504.1" r="0.85" fill="#111"/><circle cx="572.0" cy="504.1" r="0.85" fill="#111"/>
<circle cx="549.4" cy="510.8" r="0.85" fill="#111"/><circle cx="558.0" cy="510.8" r="0.85" fill="#111"/><circle cx="567.6" cy="510.8" r="0.85" fill="#111"/><circle cx="577.8" cy="510.8" r="0.85" fill="#111"/>
<line x1="537.7" y1="473.7" x2="583.7" y2="473.7" stroke="#7c7c7c" stroke-width="1"/>
<line x1="537.7" y1="480.4" x2="583.7" y2="480.4" stroke="#7c7c7c" stroke-width="1"/>
<line x1="537.7" y1="487.2" x2="583.7" y2="487.2" stroke="#7c7c7c" stroke-width="1"/>
<line x1="537.7" y1="494.0" x2="583.7" y2="494.0" stroke="#7c7c7c" stroke-width="1"/>
<line x1="537.7" y1="500.7" x2="583.7" y2="500.7" stroke="#7c7c7c" stroke-width="1"/>
<line x1="537.7" y1="507.5" x2="583.7" y2="507.5" stroke="#7c7c7c" stroke-width="1"/>
<line x1="537.7" y1="514.2" x2="583.7" y2="514.2" stroke="#7c7c7c" stroke-width="1"/>
<line x1="583.7" y1="473.7" x2="583.7" y2="514.2" stroke="#7c7c7c" stroke-width="0.8"/>
<line x1="501.5" y1="473.7" x2="519.4" y2="473.7" class="lb"/>
<line x1="519.4" y1="473.7" x2="537.7" y2="473.7" class="lb"/>
<line x1="519.4" y1="514.2" x2="537.7" y2="514.2" class="lb"/>
<polygon points="524.0,504.7 528.8,483.8 533.8,504.7" fill="#fff" stroke="#f08080" stroke-width="0.6"/>
<polygon points="524.0,504.7 528.8,483.8 529.0999999999999,504.7" fill="#f00"/>
<text x="510.2" y="497.7" class="lab" style="font-size:11.5px;fill:#222">−7</text>
<rect x="519.4" y="514.2" width="64.3" height="14.2" fill="#a6a6a6"/>
<circle cx="527.5" cy="517.8" r="0.85" fill="#111"/><circle cx="542.0" cy="517.8" r="0.85" fill="#111"/><circle cx="554.8" cy="517.8" r="0.85" fill="#111"/><circle cx="567.6" cy="517.8" r="0.85" fill="#111"/>
<circle cx="535.5" cy="524.8" r="0.85" fill="#111"/><circle cx="548.3" cy="524.8" r="0.85" fill="#111"/><circle cx="561.2" cy="524.8" r="0.85" fill="#111"/><circle cx="575.7" cy="524.8" r="0.85" fill="#111"/>
<line x1="519.4" y1="514.2" x2="583.7" y2="514.2" stroke="#7c7c7c" stroke-width="1"/>
<line x1="519.4" y1="521.3" x2="583.7" y2="521.3" stroke="#7c7c7c" stroke-width="1"/>
<line x1="519.4" y1="528.4" x2="583.7" y2="528.4" stroke="#7c7c7c" stroke-width="1"/>
<line x1="583.7" y1="514.2" x2="583.7" y2="528.4" stroke="#7c7c7c" stroke-width="0.8"/>
<line x1="501.5" y1="514.2" x2="519.4" y2="514.2" class="lb"/>
<text x="510.2" y="525.1" class="lab" style="font-size:11.5px;fill:#222">7</text>
<rect x="537.7" y="528.4" width="46.0" height="27.2" fill="#a6a6a6"/>
<circle cx="543.5" cy="531.8" r="0.85" fill="#111"/><circle cx="553.7" cy="531.8" r="0.85" fill="#111"/><circle cx="563.0" cy="531.8" r="0.85" fill="#111"/><circle cx="572.0" cy="531.8" r="0.85" fill="#111"/>
<circle cx="549.4" cy="538.6" r="0.85" fill="#111"/><circle cx="558.0" cy="538.6" r="0.85" fill="#111"/><circle cx="567.6" cy="538.6" r="0.85" fill="#111"/><circle cx="577.8" cy="538.6" r="0.85" fill="#111"/>
<circle cx="543.5" cy="545.4" r="0.85" fill="#111"/><circle cx="553.7" cy="545.4" r="0.85" fill="#111"/><circle cx="563.0" cy="545.4" r="0.85" fill="#111"/><circle cx="572.0" cy="545.4" r="0.85" fill="#111"/>
<circle cx="549.4" cy="552.2" r="0.85" fill="#111"/><circle cx="558.0" cy="552.2" r="0.85" fill="#111"/><circle cx="567.6" cy="552.2" r="0.85" fill="#111"/><circle cx="577.8" cy="552.2" r="0.85" fill="#111"/>
<line x1="537.7" y1="528.4" x2="583.7" y2="528.4" stroke="#7c7c7c" stroke-width="1"/>
<line x1="537.7" y1="535.2" x2="583.7" y2="535.2" stroke="#7c7c7c" stroke-width="1"/>
<line x1="537.7" y1="542.0" x2="583.7" y2="542.0" stroke="#7c7c7c" stroke-width="1"/>
<line x1="537.7" y1="548.8" x2="583.7" y2="548.8" stroke="#7c7c7c" stroke-width="1"/>
<line x1="537.7" y1="555.6" x2="583.7" y2="555.6" stroke="#7c7c7c" stroke-width="1"/>
<line x1="583.7" y1="528.4" x2="583.7" y2="555.6" stroke="#7c7c7c" stroke-width="0.8"/>
<line x1="501.5" y1="528.4" x2="519.4" y2="528.4" class="lb"/>
<line x1="519.4" y1="528.4" x2="537.7" y2="528.4" class="lb"/>
<line x1="519.4" y1="555.6" x2="537.7" y2="555.6" class="lb"/>
<polygon points="524.0,549.2 528.8,535.2 533.8,549.2" fill="#fff" stroke="#f08080" stroke-width="0.6"/>
<polygon points="524.0,549.2 528.8,535.2 529.0999999999999,549.2" fill="#f00"/>
<text x="510.2" y="545.8" class="lab" style="font-size:11.5px;fill:#222">−7</text>
<rect x="519.4" y="555.6" width="64.3" height="20.0" fill="#a6a6a6"/>
<circle cx="527.5" cy="558.9" r="0.85" fill="#111"/><circle cx="542.0" cy="558.9" r="0.85" fill="#111"/><circle cx="554.8" cy="558.9" r="0.85" fill="#111"/><circle cx="567.6" cy="558.9" r="0.85" fill="#111"/>
<circle cx="535.5" cy="565.6" r="0.85" fill="#111"/><circle cx="548.3" cy="565.6" r="0.85" fill="#111"/><circle cx="561.2" cy="565.6" r="0.85" fill="#111"/><circle cx="575.7" cy="565.6" r="0.85" fill="#111"/>
<circle cx="527.5" cy="572.3" r="0.85" fill="#111"/><circle cx="542.0" cy="572.3" r="0.85" fill="#111"/><circle cx="554.8" cy="572.3" r="0.85" fill="#111"/><circle cx="567.6" cy="572.3" r="0.85" fill="#111"/>
<line x1="519.4" y1="555.6" x2="583.7" y2="555.6" stroke="#7c7c7c" stroke-width="1"/>
<line x1="519.4" y1="562.3" x2="583.7" y2="562.3" stroke="#7c7c7c" stroke-width="1"/>
<line x1="519.4" y1="568.9" x2="583.7" y2="568.9" stroke="#7c7c7c" stroke-width="1"/>
<line x1="519.4" y1="575.6" x2="583.7" y2="575.6" stroke="#7c7c7c" stroke-width="1"/>
<line x1="583.7" y1="555.6" x2="583.7" y2="575.6" stroke="#7c7c7c" stroke-width="0.8"/>
<line x1="501.5" y1="555.6" x2="519.4" y2="555.6" class="lb"/>
<text x="510.2" y="569.4" class="lab" style="font-size:11.5px;fill:#222">7</text>
<rect x="537.7" y="575.6" width="46.0" height="8.8" fill="#a6a6a6"/>
<circle cx="543.5" cy="580.0" r="0.85" fill="#111"/><circle cx="553.7" cy="580.0" r="0.85" fill="#111"/><circle cx="563.0" cy="580.0" r="0.85" fill="#111"/><circle cx="572.0" cy="580.0" r="0.85" fill="#111"/>
<line x1="537.7" y1="575.6" x2="583.7" y2="575.6" stroke="#7c7c7c" stroke-width="1"/>
<line x1="537.7" y1="584.4" x2="583.7" y2="584.4" stroke="#7c7c7c" stroke-width="1"/>
<line x1="583.7" y1="575.6" x2="583.7" y2="584.4" stroke="#7c7c7c" stroke-width="0.8"/>
<line x1="501.5" y1="575.6" x2="519.4" y2="575.6" class="lb"/>
<line x1="519.4" y1="575.6" x2="537.7" y2="575.6" class="lb"/>
<line x1="519.4" y1="584.4" x2="537.7" y2="584.4" class="lb"/>
<polygon points="524.0,582.6 528.8,577.9 533.8,582.6" fill="#fff" stroke="#f08080" stroke-width="0.6"/>
<polygon points="524.0,582.6 528.8,577.9 529.0999999999999,582.6" fill="#f00"/>
<text x="510.2" y="583.0" class="lab" style="font-size:9.2px;fill:#777">−7</text>
<rect x="519.4" y="584.4" width="27.5" height="9.9" fill="#a6a6a6"/>
<line x1="521.5" y1="589.3" x2="524.5" y2="589.3" class="pd"/><line x1="530.3" y1="589.3" x2="533.3" y2="589.3" class="pd"/><line x1="539.1" y1="589.3" x2="542.1" y2="589.3" class="pd"/>
<line x1="519.4" y1="584.4" x2="546.9" y2="584.4" stroke="#7c7c7c" stroke-width="1"/>
<line x1="519.4" y1="594.3" x2="546.9" y2="594.3" stroke="#7c7c7c" stroke-width="1"/>
<line x1="546.9" y1="584.4" x2="546.9" y2="594.3" stroke="#7c7c7c" stroke-width="0.8"/>
<line x1="501.5" y1="584.4" x2="519.4" y2="584.4" class="lb"/>
<text x="510.2" y="592.8" class="lab" style="font-size:10.4px;fill:#222">+7</text>
<rect x="519.4" y="594.3" width="46.5" height="21.4" fill="#a6a6a6"/>
<line x1="523.5" y1="597.9" x2="528.5" y2="597.9" class="pd"/><rect x="532.6" y="597.3" width="1.2" height="1.2" fill="#222"/><rect x="535.2" y="597.3" width="1.2" height="1.2" fill="#222"/><rect x="541.6" y="597.3" width="1.2" height="1.2" fill="#222"/><rect x="544.2" y="597.3" width="1.2" height="1.2" fill="#222"/><rect x="551.1" y="597.3" width="1.2" height="1.2" fill="#222"/><rect x="553.7" y="597.3" width="1.2" height="1.2" fill="#222"/>
<rect x="530.1" y="604.4" width="1.2" height="1.2" fill="#222"/><rect x="532.7" y="604.4" width="1.2" height="1.2" fill="#222"/><rect x="539.4" y="604.4" width="1.2" height="1.2" fill="#222"/><rect x="542.0" y="604.4" width="1.2" height="1.2" fill="#222"/><rect x="548.5" y="604.4" width="1.2" height="1.2" fill="#222"/><rect x="551.1" y="604.4" width="1.2" height="1.2" fill="#222"/><line x1="556.1" y1="605.0" x2="561.1" y2="605.0" class="pd"/>
<line x1="523.5" y1="612.1" x2="528.5" y2="612.1" class="pd"/><rect x="532.6" y="611.5" width="1.2" height="1.2" fill="#222"/><rect x="535.2" y="611.5" width="1.2" height="1.2" fill="#222"/><rect x="541.6" y="611.5" width="1.2" height="1.2" fill="#222"/><rect x="544.2" y="611.5" width="1.2" height="1.2" fill="#222"/><rect x="551.1" y="611.5" width="1.2" height="1.2" fill="#222"/><rect x="553.7" y="611.5" width="1.2" height="1.2" fill="#222"/>
<line x1="519.4" y1="594.3" x2="565.9" y2="594.3" stroke="#7c7c7c" stroke-width="1"/>
<line x1="519.4" y1="601.4" x2="565.9" y2="601.4" stroke="#7c7c7c" stroke-width="1"/>
<line x1="519.4" y1="608.6" x2="565.9" y2="608.6" stroke="#7c7c7c" stroke-width="1"/>
<line x1="519.4" y1="615.7" x2="565.9" y2="615.7" stroke="#7c7c7c" stroke-width="1"/>
<line x1="565.9" y1="594.3" x2="565.9" y2="615.7" stroke="#7c7c7c" stroke-width="0.8"/>
<line x1="501.5" y1="594.3" x2="519.4" y2="594.3" class="lb"/>
<text x="510.2" y="608.8" class="lab" style="font-size:11.5px;fill:#222">7</text>
<rect x="519.4" y="615.7" width="37.7" height="35.5" fill="#a6a6a6"/>
<rect x="523.4" y="618.6" width="1.2" height="1.2" fill="#333"/><rect x="526.0" y="618.6" width="1.2" height="1.2" fill="#333"/><line x1="533.9" y1="619.2" x2="538.9" y2="619.2" class="pd"/><line x1="545.1" y1="619.2" x2="550.1" y2="619.2" class="pd"/>
<line x1="526.5" y1="626.4" x2="531.5" y2="626.4" class="pd"/><line x1="537.5" y1="626.4" x2="542.5" y2="626.4" class="pd"/><rect x="549.6" y="625.8" width="1.2" height="1.2" fill="#333"/><rect x="552.2" y="625.8" width="1.2" height="1.2" fill="#333"/>
<rect x="523.4" y="632.9" width="1.2" height="1.2" fill="#333"/><rect x="526.0" y="632.9" width="1.2" height="1.2" fill="#333"/><line x1="533.9" y1="633.5" x2="538.9" y2="633.5" class="pd"/><line x1="545.1" y1="633.5" x2="550.1" y2="633.5" class="pd"/>
<line x1="526.5" y1="640.5" x2="531.5" y2="640.5" class="pd"/><line x1="537.5" y1="640.5" x2="542.5" y2="640.5" class="pd"/><rect x="549.6" y="639.9" width="1.2" height="1.2" fill="#333"/><rect x="552.2" y="639.9" width="1.2" height="1.2" fill="#333"/>
<rect x="523.4" y="647.1" width="1.2" height="1.2" fill="#333"/><rect x="526.0" y="647.1" width="1.2" height="1.2" fill="#333"/><line x1="533.9" y1="647.7" x2="538.9" y2="647.7" class="pd"/><line x1="545.1" y1="647.7" x2="550.1" y2="647.7" class="pd"/>
<line x1="519.4" y1="615.7" x2="557.1" y2="615.7" stroke="#7c7c7c" stroke-width="1"/>
<line x1="519.4" y1="622.8" x2="557.1" y2="622.8" stroke="#7c7c7c" stroke-width="1"/>
<line x1="519.4" y1="629.9" x2="557.1" y2="629.9" stroke="#7c7c7c" stroke-width="1"/>
<line x1="519.4" y1="637.0" x2="557.1" y2="637.0" stroke="#7c7c7c" stroke-width="1"/>
<line x1="519.4" y1="644.1" x2="557.1" y2="644.1" stroke="#7c7c7c" stroke-width="1"/>
<line x1="519.4" y1="651.2" x2="557.1" y2="651.2" stroke="#7c7c7c" stroke-width="1"/>
<line x1="557.1" y1="615.7" x2="557.1" y2="651.2" stroke="#7c7c7c" stroke-width="0.8"/>
<line x1="501.5" y1="615.7" x2="519.4" y2="615.7" class="lb"/>
<text x="510.2" y="637.2" class="lab" style="font-size:11.5px;fill:#222">7</text>
<rect x="519.4" y="651.2" width="27.5" height="36.9" fill="#a6a6a6"/>
<line x1="521.5" y1="654.9" x2="524.5" y2="654.9" class="pd"/><line x1="530.3" y1="654.9" x2="533.3" y2="654.9" class="pd"/><line x1="539.1" y1="654.9" x2="542.1" y2="654.9" class="pd"/>
<line x1="525.2" y1="662.3" x2="528.2" y2="662.3" class="pd"/><line x1="533.3" y1="662.3" x2="536.3" y2="662.3" class="pd"/><line x1="541.3" y1="662.3" x2="544.3" y2="662.3" class="pd"/>
<line x1="521.5" y1="669.7" x2="524.5" y2="669.7" class="pd"/><line x1="530.3" y1="669.7" x2="533.3" y2="669.7" class="pd"/><line x1="539.1" y1="669.7" x2="542.1" y2="669.7" class="pd"/>
<line x1="525.2" y1="677.0" x2="528.2" y2="677.0" class="pd"/><line x1="533.3" y1="677.0" x2="536.3" y2="677.0" class="pd"/><line x1="541.3" y1="677.0" x2="544.3" y2="677.0" class="pd"/>
<line x1="521.5" y1="684.4" x2="524.5" y2="684.4" class="pd"/><line x1="530.3" y1="684.4" x2="533.3" y2="684.4" class="pd"/><line x1="539.1" y1="684.4" x2="542.1" y2="684.4" class="pd"/>
<line x1="519.4" y1="651.2" x2="546.9" y2="651.2" stroke="#7c7c7c" stroke-width="1"/>
<line x1="519.4" y1="658.6" x2="546.9" y2="658.6" stroke="#7c7c7c" stroke-width="1"/>
<line x1="519.4" y1="666.0" x2="546.9" y2="666.0" stroke="#7c7c7c" stroke-width="1"/>
<line x1="519.4" y1="673.3" x2="546.9" y2="673.3" stroke="#7c7c7c" stroke-width="1"/>
<line x1="519.4" y1="680.7" x2="546.9" y2="680.7" stroke="#7c7c7c" stroke-width="1"/>
<line x1="519.4" y1="688.1" x2="546.9" y2="688.1" stroke="#7c7c7c" stroke-width="1"/>
<line x1="546.9" y1="651.2" x2="546.9" y2="688.1" stroke="#7c7c7c" stroke-width="0.8"/>
<line x1="501.5" y1="651.2" x2="519.4" y2="651.2" class="lb"/>
<text x="510.2" y="673.4" class="lab" style="font-size:11.5px;fill:#222">+7</text>
<rect x="519.4" y="688.1" width="46.5" height="19.0" fill="#a6a6a6"/>
<line x1="523.5" y1="691.3" x2="528.5" y2="691.3" class="pd"/><rect x="532.6" y="690.7" width="1.2" height="1.2" fill="#222"/><rect x="535.2" y="690.7" width="1.2" height="1.2" fill="#222"/><rect x="541.6" y="690.7" width="1.2" height="1.2" fill="#222"/><rect x="544.2" y="690.7" width="1.2" height="1.2" fill="#222"/><rect x="551.1" y="690.7" width="1.2" height="1.2" fill="#222"/><rect x="553.7" y="690.7" width="1.2" height="1.2" fill="#222"/>
<rect x="530.1" y="697.0" width="1.2" height="1.2" fill="#222"/><rect x="532.7" y="697.0" width="1.2" height="1.2" fill="#222"/><rect x="539.4" y="697.0" width="1.2" height="1.2" fill="#222"/><rect x="542.0" y="697.0" width="1.2" height="1.2" fill="#222"/><rect x="548.5" y="697.0" width="1.2" height="1.2" fill="#222"/><rect x="551.1" y="697.0" width="1.2" height="1.2" fill="#222"/><line x1="556.1" y1="697.6" x2="561.1" y2="697.6" class="pd"/>
<line x1="523.5" y1="703.9" x2="528.5" y2="703.9" class="pd"/><rect x="532.6" y="703.3" width="1.2" height="1.2" fill="#222"/><rect x="535.2" y="703.3" width="1.2" height="1.2" fill="#222"/><rect x="541.6" y="703.3" width="1.2" height="1.2" fill="#222"/><rect x="544.2" y="703.3" width="1.2" height="1.2" fill="#222"/><rect x="551.1" y="703.3" width="1.2" height="1.2" fill="#222"/><rect x="553.7" y="703.3" width="1.2" height="1.2" fill="#222"/>
<line x1="519.4" y1="688.1" x2="565.9" y2="688.1" stroke="#7c7c7c" stroke-width="1"/>
<line x1="519.4" y1="694.4" x2="565.9" y2="694.4" stroke="#7c7c7c" stroke-width="1"/>
<line x1="519.4" y1="700.8" x2="565.9" y2="700.8" stroke="#7c7c7c" stroke-width="1"/>
<line x1="519.4" y1="707.1" x2="565.9" y2="707.1" stroke="#7c7c7c" stroke-width="1"/>
<line x1="565.9" y1="688.1" x2="565.9" y2="707.1" stroke="#7c7c7c" stroke-width="0.8"/>
<line x1="501.5" y1="688.1" x2="519.4" y2="688.1" class="lb"/>
<text x="510.2" y="701.4" class="lab" style="font-size:11.5px;fill:#222">7</text>
<rect x="519.4" y="707.1" width="64.3" height="54.4" fill="#a6a6a6"/>
<circle cx="527.5" cy="710.5" r="0.85" fill="#111"/><circle cx="542.0" cy="710.5" r="0.85" fill="#111"/><circle cx="554.8" cy="710.5" r="0.85" fill="#111"/><circle cx="567.6" cy="710.5" r="0.85" fill="#111"/>
<circle cx="535.5" cy="717.3" r="0.85" fill="#111"/><circle cx="548.3" cy="717.3" r="0.85" fill="#111"/><circle cx="561.2" cy="717.3" r="0.85" fill="#111"/><circle cx="575.7" cy="717.3" r="0.85" fill="#111"/>
<circle cx="527.5" cy="724.1" r="0.85" fill="#111"/><circle cx="542.0" cy="724.1" r="0.85" fill="#111"/><circle cx="554.8" cy="724.1" r="0.85" fill="#111"/><circle cx="567.6" cy="724.1" r="0.85" fill="#111"/>
<circle cx="535.5" cy="730.9" r="0.85" fill="#111"/><circle cx="548.3" cy="730.9" r="0.85" fill="#111"/><circle cx="561.2" cy="730.9" r="0.85" fill="#111"/><circle cx="575.7" cy="730.9" r="0.85" fill="#111"/>
<circle cx="527.5" cy="737.7" r="0.85" fill="#111"/><circle cx="542.0" cy="737.7" r="0.85" fill="#111"/><circle cx="554.8" cy="737.7" r="0.85" fill="#111"/><circle cx="567.6" cy="737.7" r="0.85" fill="#111"/>
<circle cx="535.5" cy="744.5" r="0.85" fill="#111"/><circle cx="548.3" cy="744.5" r="0.85" fill="#111"/><circle cx="561.2" cy="744.5" r="0.85" fill="#111"/><circle cx="575.7" cy="744.5" r="0.85" fill="#111"/>
<circle cx="527.5" cy="751.3" r="0.85" fill="#111"/><circle cx="542.0" cy="751.3" r="0.85" fill="#111"/><circle cx="554.8" cy="751.3" r="0.85" fill="#111"/><circle cx="567.6" cy="751.3" r="0.85" fill="#111"/>
<circle cx="535.5" cy="758.1" r="0.85" fill="#111"/><circle cx="548.3" cy="758.1" r="0.85" fill="#111"/><circle cx="561.2" cy="758.1" r="0.85" fill="#111"/><circle cx="575.7" cy="758.1" r="0.85" fill="#111"/>
<line x1="519.4" y1="707.1" x2="583.7" y2="707.1" stroke="#7c7c7c" stroke-width="1"/>
<line x1="519.4" y1="713.9" x2="583.7" y2="713.9" stroke="#7c7c7c" stroke-width="1"/>
<line x1="519.4" y1="720.7" x2="583.7" y2="720.7" stroke="#7c7c7c" stroke-width="1"/>
<line x1="519.4" y1="727.5" x2="583.7" y2="727.5" stroke="#7c7c7c" stroke-width="1"/>
<line x1="519.4" y1="734.3" x2="583.7" y2="734.3" stroke="#7c7c7c" stroke-width="1"/>
<line x1="519.4" y1="741.1" x2="583.7" y2="741.1" stroke="#7c7c7c" stroke-width="1"/>
<line x1="519.4" y1="747.9" x2="583.7" y2="747.9" stroke="#7c7c7c" stroke-width="1"/>
<line x1="519.4" y1="754.7" x2="583.7" y2="754.7" stroke="#7c7c7c" stroke-width="1"/>
<line x1="519.4" y1="761.5" x2="583.7" y2="761.5" stroke="#7c7c7c" stroke-width="1"/>
<line x1="583.7" y1="707.1" x2="583.7" y2="761.5" stroke="#7c7c7c" stroke-width="0.8"/>
<line x1="501.5" y1="707.1" x2="519.4" y2="707.1" class="lb"/>
<text x="510.2" y="738.1" class="lab" style="font-size:11.5px;fill:#222">−7</text>
<rect x="519.4" y="761.5" width="27.5" height="4.5" fill="#c4c4c4"/>
<line x1="521.5" y1="763.8" x2="524.5" y2="763.8" class="pd"/><line x1="530.3" y1="763.8" x2="533.3" y2="763.8" class="pd"/><line x1="539.1" y1="763.8" x2="542.1" y2="763.8" class="pd"/>
<line x1="519.4" y1="761.5" x2="546.9" y2="761.5" stroke="#7c7c7c" stroke-width="1"/>
<line x1="519.4" y1="766.0" x2="546.9" y2="766.0" stroke="#7c7c7c" stroke-width="1"/>
<line x1="546.9" y1="761.5" x2="546.9" y2="766.0" stroke="#7c7c7c" stroke-width="0.8"/>
<line x1="501.5" y1="761.5" x2="519.4" y2="761.5" class="lb"/>
<rect x="537.7" y="766.0" width="46.0" height="25.5" fill="#a6a6a6"/>
<circle cx="543.5" cy="769.2" r="0.85" fill="#111"/><circle cx="553.7" cy="769.2" r="0.85" fill="#111"/><circle cx="563.0" cy="769.2" r="0.85" fill="#111"/><circle cx="572.0" cy="769.2" r="0.85" fill="#111"/>
<circle cx="549.4" cy="775.6" r="0.85" fill="#111"/><circle cx="558.0" cy="775.6" r="0.85" fill="#111"/><circle cx="567.6" cy="775.6" r="0.85" fill="#111"/><circle cx="577.8" cy="775.6" r="0.85" fill="#111"/>
<circle cx="543.5" cy="781.9" r="0.85" fill="#111"/><circle cx="553.7" cy="781.9" r="0.85" fill="#111"/><circle cx="563.0" cy="781.9" r="0.85" fill="#111"/><circle cx="572.0" cy="781.9" r="0.85" fill="#111"/>
<circle cx="549.4" cy="788.3" r="0.85" fill="#111"/><circle cx="558.0" cy="788.3" r="0.85" fill="#111"/><circle cx="567.6" cy="788.3" r="0.85" fill="#111"/><circle cx="577.8" cy="788.3" r="0.85" fill="#111"/>
<line x1="537.7" y1="766.0" x2="583.7" y2="766.0" stroke="#7c7c7c" stroke-width="1"/>
<line x1="537.7" y1="772.4" x2="583.7" y2="772.4" stroke="#7c7c7c" stroke-width="1"/>
<line x1="537.7" y1="778.8" x2="583.7" y2="778.8" stroke="#7c7c7c" stroke-width="1"/>
<line x1="537.7" y1="785.1" x2="583.7" y2="785.1" stroke="#7c7c7c" stroke-width="1"/>
<line x1="537.7" y1="791.5" x2="583.7" y2="791.5" stroke="#7c7c7c" stroke-width="1"/>
<line x1="583.7" y1="766.0" x2="583.7" y2="791.5" stroke="#7c7c7c" stroke-width="0.8"/>
<line x1="501.5" y1="766.0" x2="519.4" y2="766.0" class="lb"/>
<line x1="519.4" y1="766.0" x2="537.7" y2="766.0" class="lb"/>
<line x1="519.4" y1="791.5" x2="537.7" y2="791.5" class="lb"/>
<polygon points="524.0,785.5 528.8,772.4 533.8,785.5" fill="#fff" stroke="#f08080" stroke-width="0.6"/>
<polygon points="524.0,785.5 528.8,772.4 529.0999999999999,785.5" fill="#f00"/>
<text x="510.2" y="782.5" class="lab" style="font-size:11.5px;fill:#222">−7</text>
<rect x="519.4" y="791.5" width="64.3" height="51.5" fill="#a6a6a6"/>
<circle cx="527.5" cy="795.2" r="0.85" fill="#111"/><circle cx="542.0" cy="795.2" r="0.85" fill="#111"/><circle cx="554.8" cy="795.2" r="0.85" fill="#111"/><circle cx="567.6" cy="795.2" r="0.85" fill="#111"/>
<circle cx="535.5" cy="802.5" r="0.85" fill="#111"/><circle cx="548.3" cy="802.5" r="0.85" fill="#111"/><circle cx="561.2" cy="802.5" r="0.85" fill="#111"/><circle cx="575.7" cy="802.5" r="0.85" fill="#111"/>
<circle cx="527.5" cy="809.9" r="0.85" fill="#111"/><circle cx="542.0" cy="809.9" r="0.85" fill="#111"/><circle cx="554.8" cy="809.9" r="0.85" fill="#111"/><circle cx="567.6" cy="809.9" r="0.85" fill="#111"/>
<circle cx="535.5" cy="817.2" r="0.85" fill="#111"/><circle cx="548.3" cy="817.2" r="0.85" fill="#111"/><circle cx="561.2" cy="817.2" r="0.85" fill="#111"/><circle cx="575.7" cy="817.2" r="0.85" fill="#111"/>
<circle cx="527.5" cy="824.6" r="0.85" fill="#111"/><circle cx="542.0" cy="824.6" r="0.85" fill="#111"/><circle cx="554.8" cy="824.6" r="0.85" fill="#111"/><circle cx="567.6" cy="824.6" r="0.85" fill="#111"/>
<circle cx="535.5" cy="832.0" r="0.85" fill="#111"/><circle cx="548.3" cy="832.0" r="0.85" fill="#111"/><circle cx="561.2" cy="832.0" r="0.85" fill="#111"/><circle cx="575.7" cy="832.0" r="0.85" fill="#111"/>
<circle cx="527.5" cy="839.3" r="0.85" fill="#111"/><circle cx="542.0" cy="839.3" r="0.85" fill="#111"/><circle cx="554.8" cy="839.3" r="0.85" fill="#111"/><circle cx="567.6" cy="839.3" r="0.85" fill="#111"/>
<line x1="519.4" y1="791.5" x2="583.7" y2="791.5" stroke="#7c7c7c" stroke-width="1"/>
<line x1="519.4" y1="798.9" x2="583.7" y2="798.9" stroke="#7c7c7c" stroke-width="1"/>
<line x1="519.4" y1="806.2" x2="583.7" y2="806.2" stroke="#7c7c7c" stroke-width="1"/>
<line x1="519.4" y1="813.6" x2="583.7" y2="813.6" stroke="#7c7c7c" stroke-width="1"/>
<line x1="519.4" y1="820.9" x2="583.7" y2="820.9" stroke="#7c7c7c" stroke-width="1"/>
<line x1="519.4" y1="828.3" x2="583.7" y2="828.3" stroke="#7c7c7c" stroke-width="1"/>
<line x1="519.4" y1="835.6" x2="583.7" y2="835.6" stroke="#7c7c7c" stroke-width="1"/>
<line x1="519.4" y1="843.0" x2="583.7" y2="843.0" stroke="#7c7c7c" stroke-width="1"/>
<line x1="583.7" y1="791.5" x2="583.7" y2="843.0" stroke="#7c7c7c" stroke-width="0.8"/>
<line x1="501.5" y1="791.5" x2="519.4" y2="791.5" class="lb"/>
<text x="510.2" y="821.0" class="lab" style="font-size:11.5px;fill:#222">−7</text>
<rect x="519.4" y="843.0" width="64.3" height="8.8" fill="#a6a6a6"/>
<circle cx="527.5" cy="847.4" r="0.85" fill="#111"/><circle cx="542.0" cy="847.4" r="0.85" fill="#111"/><circle cx="554.8" cy="847.4" r="0.85" fill="#111"/><circle cx="567.6" cy="847.4" r="0.85" fill="#111"/>
<line x1="519.4" y1="843.0" x2="583.7" y2="843.0" stroke="#7c7c7c" stroke-width="1"/>
<line x1="519.4" y1="851.8" x2="583.7" y2="851.8" stroke="#7c7c7c" stroke-width="1"/>
<line x1="583.7" y1="843.0" x2="583.7" y2="851.8" stroke="#7c7c7c" stroke-width="0.8"/>
<line x1="501.5" y1="843.0" x2="519.4" y2="843.0" class="lb"/>
<text x="510.2" y="850.4" class="lab" style="font-size:9.2px;fill:#777">7</text>
<rect x="519.4" y="851.8" width="27.5" height="14.6" fill="#a6a6a6"/>
<line x1="521.5" y1="855.4" x2="524.5" y2="855.4" class="pd"/><line x1="530.3" y1="855.4" x2="533.3" y2="855.4" class="pd"/><line x1="539.1" y1="855.4" x2="542.1" y2="855.4" class="pd"/>
<line x1="525.2" y1="862.7" x2="528.2" y2="862.7" class="pd"/><line x1="533.3" y1="862.7" x2="536.3" y2="862.7" class="pd"/><line x1="541.3" y1="862.7" x2="544.3" y2="862.7" class="pd"/>
<line x1="519.4" y1="851.8" x2="546.9" y2="851.8" stroke="#7c7c7c" stroke-width="1"/>
<line x1="519.4" y1="859.1" x2="546.9" y2="859.1" stroke="#7c7c7c" stroke-width="1"/>
<line x1="519.4" y1="866.4" x2="546.9" y2="866.4" stroke="#7c7c7c" stroke-width="1"/>
<line x1="546.9" y1="851.8" x2="546.9" y2="866.4" stroke="#7c7c7c" stroke-width="0.8"/>
<line x1="501.5" y1="851.8" x2="519.4" y2="851.8" class="lb"/>
<text x="510.2" y="862.9" class="lab" style="font-size:11.5px;fill:#222">+7</text>
<rect x="537.7" y="866.4" width="46.0" height="12.1" fill="#a6a6a6"/>
<circle cx="543.5" cy="869.4" r="0.85" fill="#111"/><circle cx="553.7" cy="869.4" r="0.85" fill="#111"/><circle cx="563.0" cy="869.4" r="0.85" fill="#111"/><circle cx="572.0" cy="869.4" r="0.85" fill="#111"/>
<circle cx="549.4" cy="875.5" r="0.85" fill="#111"/><circle cx="558.0" cy="875.5" r="0.85" fill="#111"/><circle cx="567.6" cy="875.5" r="0.85" fill="#111"/><circle cx="577.8" cy="875.5" r="0.85" fill="#111"/>
<line x1="537.7" y1="866.4" x2="583.7" y2="866.4" stroke="#7c7c7c" stroke-width="1"/>
<line x1="537.7" y1="872.5" x2="583.7" y2="872.5" stroke="#7c7c7c" stroke-width="1"/>
<line x1="537.7" y1="878.5" x2="583.7" y2="878.5" stroke="#7c7c7c" stroke-width="1"/>
<line x1="583.7" y1="866.4" x2="583.7" y2="878.5" stroke="#7c7c7c" stroke-width="0.8"/>
<line x1="501.5" y1="866.4" x2="519.4" y2="866.4" class="lb"/>
<line x1="519.4" y1="866.4" x2="537.7" y2="866.4" class="lb"/>
<line x1="519.4" y1="878.5" x2="537.7" y2="878.5" class="lb"/>
<polygon points="524.0,876.0 528.8,869.5 533.8,876.0" fill="#fff" stroke="#f08080" stroke-width="0.6"/>
<polygon points="524.0,876.0 528.8,869.5 529.0999999999999,876.0" fill="#f00"/>
<text x="510.2" y="876.2" class="lab" style="font-size:11.5px;fill:#222">−7</text>
<rect x="519.4" y="878.5" width="27.5" height="10.5" fill="#a6a6a6"/>
<line x1="521.5" y1="881.1" x2="524.5" y2="881.1" class="pd"/><line x1="530.3" y1="881.1" x2="533.3" y2="881.1" class="pd"/><line x1="539.1" y1="881.1" x2="542.1" y2="881.1" class="pd"/>
<line x1="525.2" y1="886.4" x2="528.2" y2="886.4" class="pd"/><line x1="533.3" y1="886.4" x2="536.3" y2="886.4" class="pd"/><line x1="541.3" y1="886.4" x2="544.3" y2="886.4" class="pd"/>
<line x1="519.4" y1="878.5" x2="546.9" y2="878.5" stroke="#7c7c7c" stroke-width="1"/>
<line x1="519.4" y1="883.8" x2="546.9" y2="883.8" stroke="#7c7c7c" stroke-width="1"/>
<line x1="519.4" y1="889.0" x2="546.9" y2="889.0" stroke="#7c7c7c" stroke-width="1"/>
<line x1="546.9" y1="878.5" x2="546.9" y2="889.0" stroke="#7c7c7c" stroke-width="0.8"/>
<line x1="501.5" y1="878.5" x2="519.4" y2="878.5" class="lb"/>
<text x="510.2" y="887.4" class="lab" style="font-size:11.0px;fill:#222">+7</text>
<rect x="519.4" y="889.0" width="64.3" height="28.6" fill="#a6a6a6"/>
<circle cx="527.5" cy="892.6" r="0.85" fill="#111"/><circle cx="542.0" cy="892.6" r="0.85" fill="#111"/><circle cx="554.8" cy="892.6" r="0.85" fill="#111"/><circle cx="567.6" cy="892.6" r="0.85" fill="#111"/>
<circle cx="535.5" cy="899.7" r="0.85" fill="#111"/><circle cx="548.3" cy="899.7" r="0.85" fill="#111"/><circle cx="561.2" cy="899.7" r="0.85" fill="#111"/><circle cx="575.7" cy="899.7" r="0.85" fill="#111"/>
<circle cx="527.5" cy="906.9" r="0.85" fill="#111"/><circle cx="542.0" cy="906.9" r="0.85" fill="#111"/><circle cx="554.8" cy="906.9" r="0.85" fill="#111"/><circle cx="567.6" cy="906.9" r="0.85" fill="#111"/>
<circle cx="535.5" cy="914.0" r="0.85" fill="#111"/><circle cx="548.3" cy="914.0" r="0.85" fill="#111"/><circle cx="561.2" cy="914.0" r="0.85" fill="#111"/><circle cx="575.7" cy="914.0" r="0.85" fill="#111"/>
<line x1="519.4" y1="889.0" x2="583.7" y2="889.0" stroke="#7c7c7c" stroke-width="1"/>
<line x1="519.4" y1="896.1" x2="583.7" y2="896.1" stroke="#7c7c7c" stroke-width="1"/>
<line x1="519.4" y1="903.3" x2="583.7" y2="903.3" stroke="#7c7c7c" stroke-width="1"/>
<line x1="519.4" y1="910.5" x2="583.7" y2="910.5" stroke="#7c7c7c" stroke-width="1"/>
<line x1="519.4" y1="917.6" x2="583.7" y2="917.6" stroke="#7c7c7c" stroke-width="1"/>
<line x1="583.7" y1="889.0" x2="583.7" y2="917.6" stroke="#7c7c7c" stroke-width="0.8"/>
<line x1="501.5" y1="889.0" x2="519.4" y2="889.0" class="lb"/>
<text x="510.2" y="907.1" class="lab" style="font-size:11.5px;fill:#222">−7</text>
<rect x="537.7" y="917.6" width="46.0" height="44.2" fill="#a3ad9b"/>
<circle cx="543.5" cy="921.3" r="0.85" fill="#111"/><circle cx="553.7" cy="921.3" r="0.85" fill="#111"/><circle cx="563.0" cy="921.3" r="0.85" fill="#111"/><circle cx="572.0" cy="921.3" r="0.85" fill="#111"/>
<circle cx="549.4" cy="928.7" r="0.85" fill="#111"/><circle cx="558.0" cy="928.7" r="0.85" fill="#111"/><circle cx="567.6" cy="928.7" r="0.85" fill="#111"/><circle cx="577.8" cy="928.7" r="0.85" fill="#111"/>
<circle cx="543.5" cy="936.0" r="0.85" fill="#111"/><circle cx="553.7" cy="936.0" r="0.85" fill="#111"/><circle cx="563.0" cy="936.0" r="0.85" fill="#111"/><circle cx="572.0" cy="936.0" r="0.85" fill="#111"/>
<circle cx="549.4" cy="943.4" r="0.85" fill="#111"/><circle cx="558.0" cy="943.4" r="0.85" fill="#111"/><circle cx="567.6" cy="943.4" r="0.85" fill="#111"/><circle cx="577.8" cy="943.4" r="0.85" fill="#111"/>
<circle cx="543.5" cy="950.8" r="0.85" fill="#111"/><circle cx="553.7" cy="950.8" r="0.85" fill="#111"/><circle cx="563.0" cy="950.8" r="0.85" fill="#111"/><circle cx="572.0" cy="950.8" r="0.85" fill="#111"/>
<circle cx="549.4" cy="958.1" r="0.85" fill="#111"/><circle cx="558.0" cy="958.1" r="0.85" fill="#111"/><circle cx="567.6" cy="958.1" r="0.85" fill="#111"/><circle cx="577.8" cy="958.1" r="0.85" fill="#111"/>
<line x1="537.7" y1="917.6" x2="583.7" y2="917.6" stroke="#7f8979" stroke-width="1"/>
<line x1="537.7" y1="925.0" x2="583.7" y2="925.0" stroke="#7f8979" stroke-width="1"/>
<line x1="537.7" y1="932.3" x2="583.7" y2="932.3" stroke="#7f8979" stroke-width="1"/>
<line x1="537.7" y1="939.7" x2="583.7" y2="939.7" stroke="#7f8979" stroke-width="1"/>
<line x1="537.7" y1="947.1" x2="583.7" y2="947.1" stroke="#7f8979" stroke-width="1"/>
<line x1="537.7" y1="954.4" x2="583.7" y2="954.4" stroke="#7f8979" stroke-width="1"/>
<line x1="537.7" y1="961.8" x2="583.7" y2="961.8" stroke="#7f8979" stroke-width="1"/>
<line x1="583.7" y1="917.6" x2="583.7" y2="961.8" stroke="#7f8979" stroke-width="0.8"/>
<line x1="501.5" y1="917.6" x2="519.4" y2="917.6" class="lb"/>
<line x1="519.4" y1="917.6" x2="537.7" y2="917.6" class="lb"/>
<line x1="519.4" y1="961.8" x2="537.7" y2="961.8" class="lb"/>
<polygon points="524.0,946.1 528.8,926.9 533.8,946.1" fill="#f00"/>
<text x="505.4" y="943.7" class="lab" style="font-size:12px;fill:#333">7</text>
<text x="509.9" y="943.7" class="lab" style="font-size:12px;fill:#333">.</text>
<text x="516.6" y="943.7" class="lab" style="font-size:12px;fill:#333">3</text>
<rect x="519.4" y="961.8" width="64.3" height="14.4" fill="#a6a6a6"/>
<circle cx="527.5" cy="965.4" r="0.85" fill="#111"/><circle cx="542.0" cy="965.4" r="0.85" fill="#111"/><circle cx="554.8" cy="965.4" r="0.85" fill="#111"/><circle cx="567.6" cy="965.4" r="0.85" fill="#111"/>
<circle cx="535.5" cy="972.6" r="0.85" fill="#111"/><circle cx="548.3" cy="972.6" r="0.85" fill="#111"/><circle cx="561.2" cy="972.6" r="0.85" fill="#111"/><circle cx="575.7" cy="972.6" r="0.85" fill="#111"/>
<line x1="519.4" y1="961.8" x2="583.7" y2="961.8" stroke="#7c7c7c" stroke-width="1"/>
<line x1="519.4" y1="969.0" x2="583.7" y2="969.0" stroke="#7c7c7c" stroke-width="1"/>
<line x1="519.4" y1="976.2" x2="583.7" y2="976.2" stroke="#7c7c7c" stroke-width="1"/>
<line x1="583.7" y1="961.8" x2="583.7" y2="976.2" stroke="#7c7c7c" stroke-width="0.8"/>
<line x1="501.5" y1="961.8" x2="519.4" y2="961.8" class="lb"/>
<text x="510.2" y="972.8" class="lab" style="font-size:11.5px;fill:#222">7</text>
<rect x="519.4" y="976.2" width="64.3" height="28.0" fill="#a6a6a6"/>
<circle cx="527.5" cy="979.7" r="0.85" fill="#111"/><circle cx="542.0" cy="979.7" r="0.85" fill="#111"/><circle cx="554.8" cy="979.7" r="0.85" fill="#111"/><circle cx="567.6" cy="979.7" r="0.85" fill="#111"/>
<circle cx="535.5" cy="986.7" r="0.85" fill="#111"/><circle cx="548.3" cy="986.7" r="0.85" fill="#111"/><circle cx="561.2" cy="986.7" r="0.85" fill="#111"/><circle cx="575.7" cy="986.7" r="0.85" fill="#111"/>
<circle cx="527.5" cy="993.7" r="0.85" fill="#111"/><circle cx="542.0" cy="993.7" r="0.85" fill="#111"/><circle cx="554.8" cy="993.7" r="0.85" fill="#111"/><circle cx="567.6" cy="993.7" r="0.85" fill="#111"/>
<circle cx="535.5" cy="1000.7" r="0.85" fill="#111"/><circle cx="548.3" cy="1000.7" r="0.85" fill="#111"/><circle cx="561.2" cy="1000.7" r="0.85" fill="#111"/><circle cx="575.7" cy="1000.7" r="0.85" fill="#111"/>
<line x1="519.4" y1="976.2" x2="583.7" y2="976.2" stroke="#7c7c7c" stroke-width="1"/>
<line x1="519.4" y1="983.2" x2="583.7" y2="983.2" stroke="#7c7c7c" stroke-width="1"/>
<line x1="519.4" y1="990.2" x2="583.7" y2="990.2" stroke="#7c7c7c" stroke-width="1"/>
<line x1="519.4" y1="997.2" x2="583.7" y2="997.2" stroke="#7c7c7c" stroke-width="1"/>
<line x1="519.4" y1="1004.2" x2="583.7" y2="1004.2" stroke="#7c7c7c" stroke-width="1"/>
<line x1="583.7" y1="976.2" x2="583.7" y2="1004.2" stroke="#7c7c7c" stroke-width="0.8"/>
<line x1="501.5" y1="976.2" x2="519.4" y2="976.2" class="lb"/>
<text x="510.2" y="994.0" class="lab" style="font-size:11.5px;fill:#222">−7</text>
<rect x="519.4" y="1004.2" width="27.5" height="15.3" fill="#a6a6a6"/>
<line x1="521.5" y1="1008.0" x2="524.5" y2="1008.0" class="pd"/><line x1="530.3" y1="1008.0" x2="533.3" y2="1008.0" class="pd"/><line x1="539.1" y1="1008.0" x2="542.1" y2="1008.0" class="pd"/>
<line x1="525.2" y1="1015.7" x2="528.2" y2="1015.7" class="pd"/><line x1="533.3" y1="1015.7" x2="536.3" y2="1015.7" class="pd"/><line x1="541.3" y1="1015.7" x2="544.3" y2="1015.7" class="pd"/>
<line x1="519.4" y1="1004.2" x2="546.9" y2="1004.2" stroke="#7c7c7c" stroke-width="1"/>
<line x1="519.4" y1="1011.9" x2="546.9" y2="1011.9" stroke="#7c7c7c" stroke-width="1"/>
<line x1="519.4" y1="1019.5" x2="546.9" y2="1019.5" stroke="#7c7c7c" stroke-width="1"/>
<line x1="546.9" y1="1004.2" x2="546.9" y2="1019.5" stroke="#7c7c7c" stroke-width="0.8"/>
<line x1="501.5" y1="1004.2" x2="519.4" y2="1004.2" class="lb"/>
<line x1="501.5" y1="1019.5" x2="519.4" y2="1019.5" class="lb"/>
<line x1="519.4" y1="108.4" x2="519.4" y2="1020" stroke="#9a9a9a" stroke-width="0.9"/>
<line x1="610.5" y1="108.4" x2="610.5" y2="1020" stroke="#777" stroke-width="0.9"/>
<rect x="610.5" y="108.4" width="61.8" height="12.1" fill="#fff" stroke="#8a8a8a" stroke-width="0.8"/>
<circle cx="618.3" cy="111.4" r="0.85" fill="#111"/><circle cx="632.0" cy="111.4" r="0.85" fill="#111"/><circle cx="644.4" cy="111.4" r="0.85" fill="#111"/><circle cx="656.8" cy="111.4" r="0.85" fill="#111"/>
<circle cx="625.9" cy="117.5" r="0.85" fill="#111"/><circle cx="638.3" cy="117.5" r="0.85" fill="#111"/><circle cx="650.7" cy="117.5" r="0.85" fill="#111"/><circle cx="664.6" cy="117.5" r="0.85" fill="#111"/>
<line x1="610.5" y1="114.5" x2="672.3" y2="114.5" stroke="#9a9a9a" stroke-width="0.8"/>
<rect x="610.5" y="120.5" width="35.8" height="33.2" fill="#fff" stroke="#8a8a8a" stroke-width="0.8"/>
<line x1="613.5" y1="123.8" x2="618.5" y2="123.8" class="pd"/><line x1="624.5" y1="123.8" x2="629.5" y2="123.8" class="pd"/><line x1="635.5" y1="123.8" x2="640.5" y2="123.8" class="pd"/>
<line x1="617.5" y1="130.5" x2="622.5" y2="130.5" class="pd"/><line x1="628.5" y1="130.5" x2="633.5" y2="130.5" class="pd"/><rect x="639.1" y="129.9" width="1.2" height="1.2" fill="#333"/><rect x="641.7" y="129.9" width="1.2" height="1.2" fill="#333"/>
<line x1="610.5" y1="127.1" x2="646.3" y2="127.1" stroke="#9a9a9a" stroke-width="0.8"/>
<line x1="613.5" y1="137.1" x2="618.5" y2="137.1" class="pd"/><line x1="624.5" y1="137.1" x2="629.5" y2="137.1" class="pd"/><line x1="635.5" y1="137.1" x2="640.5" y2="137.1" class="pd"/>
<line x1="610.5" y1="133.8" x2="646.3" y2="133.8" stroke="#9a9a9a" stroke-width="0.8"/>
<line x1="617.5" y1="143.7" x2="622.5" y2="143.7" class="pd"/><line x1="628.5" y1="143.7" x2="633.5" y2="143.7" class="pd"/><rect x="639.1" y="143.1" width="1.2" height="1.2" fill="#333"/><rect x="641.7" y="143.1" width="1.2" height="1.2" fill="#333"/>
<line x1="610.5" y1="140.4" x2="646.3" y2="140.4" stroke="#9a9a9a" stroke-width="0.8"/>
<line x1="613.5" y1="150.4" x2="618.5" y2="150.4" class="pd"/><line x1="624.5" y1="150.4" x2="629.5" y2="150.4" class="pd"/><line x1="635.5" y1="150.4" x2="640.5" y2="150.4" class="pd"/>
<line x1="610.5" y1="147.1" x2="646.3" y2="147.1" stroke="#9a9a9a" stroke-width="0.8"/>
<rect x="610.5" y="127.4" width="61.8" height="5.0" fill="#fff" stroke="#8a8a8a" stroke-width="0.8"/>
<line x1="593.5" y1="127.4" x2="610.5" y2="127.4" stroke="#8a8a8a" stroke-width="0.8"/>
<line x1="593.5" y1="132.4" x2="610.5" y2="132.4" stroke="#8a8a8a" stroke-width="0.8"/>
<circle cx="618.3" cy="129.9" r="0.85" fill="#111"/><circle cx="632.0" cy="129.9" r="0.85" fill="#111"/><circle cx="644.4" cy="129.9" r="0.85" fill="#111"/><circle cx="656.8" cy="129.9" r="0.85" fill="#111"/>
<rect x="610.5" y="153.7" width="61.8" height="14.6" fill="#fff" stroke="#8a8a8a" stroke-width="0.8"/>
<circle cx="618.3" cy="157.3" r="0.85" fill="#111"/><circle cx="632.0" cy="157.3" r="0.85" fill="#111"/><circle cx="644.4" cy="157.3" r="0.85" fill="#111"/><circle cx="656.8" cy="157.3" r="0.85" fill="#111"/>
<circle cx="625.9" cy="164.7" r="0.85" fill="#111"/><circle cx="638.3" cy="164.7" r="0.85" fill="#111"/><circle cx="650.7" cy="164.7" r="0.85" fill="#111"/><circle cx="664.6" cy="164.7" r="0.85" fill="#111"/>
<line x1="610.5" y1="161.0" x2="672.3" y2="161.0" stroke="#9a9a9a" stroke-width="0.8"/>
<rect x="610.5" y="168.3" width="43.8" height="2.2" fill="#fff" stroke="#8a8a8a" stroke-width="0.8"/>
<line x1="593.5" y1="168.3" x2="610.5" y2="168.3" stroke="#8a8a8a" stroke-width="0.8"/>
<line x1="593.5" y1="170.5" x2="610.5" y2="170.5" stroke="#8a8a8a" stroke-width="0.8"/>
<rect x="610.5" y="170.5" width="61.8" height="62.0" fill="#fff" stroke="#8a8a8a" stroke-width="0.8"/>
<circle cx="618.3" cy="173.9" r="0.85" fill="#111"/><circle cx="632.0" cy="173.9" r="0.85" fill="#111"/><circle cx="644.4" cy="173.9" r="0.85" fill="#111"/><circle cx="656.8" cy="173.9" r="0.85" fill="#111"/>
<circle cx="625.9" cy="180.8" r="0.85" fill="#111"/><circle cx="638.3" cy="180.8" r="0.85" fill="#111"/><circle cx="650.7" cy="180.8" r="0.85" fill="#111"/><circle cx="664.6" cy="180.8" r="0.85" fill="#111"/>
<line x1="610.5" y1="177.4" x2="672.3" y2="177.4" stroke="#9a9a9a" stroke-width="0.8"/>
<circle cx="618.3" cy="187.7" r="0.85" fill="#111"/><circle cx="632.0" cy="187.7" r="0.85" fill="#111"/><circle cx="644.4" cy="187.7" r="0.85" fill="#111"/><circle cx="656.8" cy="187.7" r="0.85" fill="#111"/>
<line x1="610.5" y1="184.3" x2="672.3" y2="184.3" stroke="#9a9a9a" stroke-width="0.8"/>
<circle cx="625.9" cy="194.6" r="0.85" fill="#111"/><circle cx="638.3" cy="194.6" r="0.85" fill="#111"/><circle cx="650.7" cy="194.6" r="0.85" fill="#111"/><circle cx="664.6" cy="194.6" r="0.85" fill="#111"/>
<line x1="610.5" y1="191.2" x2="672.3" y2="191.2" stroke="#9a9a9a" stroke-width="0.8"/>
<circle cx="618.3" cy="201.5" r="0.85" fill="#111"/><circle cx="632.0" cy="201.5" r="0.85" fill="#111"/><circle cx="644.4" cy="201.5" r="0.85" fill="#111"/><circle cx="656.8" cy="201.5" r="0.85" fill="#111"/>
<line x1="610.5" y1="198.1" x2="672.3" y2="198.1" stroke="#9a9a9a" stroke-width="0.8"/>
<circle cx="625.9" cy="208.4" r="0.85" fill="#111"/><circle cx="638.3" cy="208.4" r="0.85" fill="#111"/><circle cx="650.7" cy="208.4" r="0.85" fill="#111"/><circle cx="664.6" cy="208.4" r="0.85" fill="#111"/>
<line x1="610.5" y1="204.9" x2="672.3" y2="204.9" stroke="#9a9a9a" stroke-width="0.8"/>
<circle cx="618.3" cy="215.3" r="0.85" fill="#111"/><circle cx="632.0" cy="215.3" r="0.85" fill="#111"/><circle cx="644.4" cy="215.3" r="0.85" fill="#111"/><circle cx="656.8" cy="215.3" r="0.85" fill="#111"/>
<line x1="610.5" y1="211.8" x2="672.3" y2="211.8" stroke="#9a9a9a" stroke-width="0.8"/>
<circle cx="625.9" cy="222.2" r="0.85" fill="#111"/><circle cx="638.3" cy="222.2" r="0.85" fill="#111"/><circle cx="650.7" cy="222.2" r="0.85" fill="#111"/><circle cx="664.6" cy="222.2" r="0.85" fill="#111"/>
<line x1="610.5" y1="218.7" x2="672.3" y2="218.7" stroke="#9a9a9a" stroke-width="0.8"/>
<circle cx="618.3" cy="229.1" r="0.85" fill="#111"/><circle cx="632.0" cy="229.1" r="0.85" fill="#111"/><circle cx="644.4" cy="229.1" r="0.85" fill="#111"/><circle cx="656.8" cy="229.1" r="0.85" fill="#111"/>
<line x1="610.5" y1="225.6" x2="672.3" y2="225.6" stroke="#9a9a9a" stroke-width="0.8"/>
<rect x="610.5" y="232.5" width="43.8" height="3.0" fill="#fff" stroke="#8a8a8a" stroke-width="0.8"/>
<line x1="593.5" y1="232.5" x2="610.5" y2="232.5" stroke="#8a8a8a" stroke-width="0.8"/>
<line x1="593.5" y1="235.5" x2="610.5" y2="235.5" stroke="#8a8a8a" stroke-width="0.8"/>
<rect x="610.5" y="235.5" width="43.8" height="2.5" fill="#fff" stroke="#8a8a8a" stroke-width="0.8"/>
<line x1="593.5" y1="235.5" x2="610.5" y2="235.5" stroke="#8a8a8a" stroke-width="0.8"/>
<line x1="593.5" y1="238.0" x2="610.5" y2="238.0" stroke="#8a8a8a" stroke-width="0.8"/>
<rect x="610.5" y="238.0" width="61.8" height="5.0" fill="#fff" stroke="#8a8a8a" stroke-width="0.8"/>
<line x1="593.5" y1="238.0" x2="610.5" y2="238.0" stroke="#8a8a8a" stroke-width="0.8"/>
<line x1="593.5" y1="243.0" x2="610.5" y2="243.0" stroke="#8a8a8a" stroke-width="0.8"/>
<circle cx="618.3" cy="240.5" r="0.85" fill="#111"/><circle cx="632.0" cy="240.5" r="0.85" fill="#111"/><circle cx="644.4" cy="240.5" r="0.85" fill="#111"/><circle cx="656.8" cy="240.5" r="0.85" fill="#111"/>
<rect x="610.5" y="243.0" width="43.8" height="2.3" fill="#fff" stroke="#8a8a8a" stroke-width="0.8"/>
<line x1="593.5" y1="243.0" x2="610.5" y2="243.0" stroke="#8a8a8a" stroke-width="0.8"/>
<line x1="593.5" y1="245.3" x2="610.5" y2="245.3" stroke="#8a8a8a" stroke-width="0.8"/>
<rect x="610.5" y="245.3" width="35.8" height="3.0" fill="#fff" stroke="#8a8a8a" stroke-width="0.8"/>
<line x1="593.5" y1="245.3" x2="610.5" y2="245.3" stroke="#8a8a8a" stroke-width="0.8"/>
<line x1="593.5" y1="248.3" x2="610.5" y2="248.3" stroke="#8a8a8a" stroke-width="0.8"/>
<rect x="610.5" y="248.3" width="43.8" height="16.1" fill="#fff" stroke="#8a8a8a" stroke-width="0.8"/>
<line x1="614.5" y1="252.3" x2="619.5" y2="252.3" class="pd"/><rect x="623.1" y="251.7" width="1.2" height="1.2" fill="#222"/><rect x="625.7" y="251.7" width="1.2" height="1.2" fill="#222"/><rect x="632.1" y="251.7" width="1.2" height="1.2" fill="#222"/><rect x="634.7" y="251.7" width="1.2" height="1.2" fill="#222"/><rect x="641.1" y="251.7" width="1.2" height="1.2" fill="#222"/><rect x="643.7" y="251.7" width="1.2" height="1.2" fill="#222"/>
<rect x="620.1" y="259.8" width="1.2" height="1.2" fill="#222"/><rect x="622.7" y="259.8" width="1.2" height="1.2" fill="#222"/><rect x="629.1" y="259.8" width="1.2" height="1.2" fill="#222"/><rect x="631.7" y="259.8" width="1.2" height="1.2" fill="#222"/><rect x="638.1" y="259.8" width="1.2" height="1.2" fill="#222"/><rect x="640.7" y="259.8" width="1.2" height="1.2" fill="#222"/><line x1="645.5" y1="260.4" x2="650.5" y2="260.4" class="pd"/>
<line x1="610.5" y1="256.4" x2="654.3" y2="256.4" stroke="#9a9a9a" stroke-width="0.8"/>
<rect x="610.5" y="264.4" width="61.8" height="8.4" fill="#fff" stroke="#8a8a8a" stroke-width="0.8"/>
<line x1="593.5" y1="264.4" x2="610.5" y2="264.4" stroke="#8a8a8a" stroke-width="0.8"/>
<line x1="593.5" y1="272.8" x2="610.5" y2="272.8" stroke="#8a8a8a" stroke-width="0.8"/>
<circle cx="618.3" cy="268.6" r="0.85" fill="#111"/><circle cx="632.0" cy="268.6" r="0.85" fill="#111"/><circle cx="644.4" cy="268.6" r="0.85" fill="#111"/><circle cx="656.8" cy="268.6" r="0.85" fill="#111"/>
<rect x="610.5" y="272.8" width="43.8" height="2.2" fill="#fff" stroke="#8a8a8a" stroke-width="0.8"/>
<line x1="593.5" y1="272.8" x2="610.5" y2="272.8" stroke="#8a8a8a" stroke-width="0.8"/>
<line x1="593.5" y1="275.0" x2="610.5" y2="275.0" stroke="#8a8a8a" stroke-width="0.8"/>
<rect x="610.5" y="275.0" width="43.8" height="15.3" fill="#fff" stroke="#8a8a8a" stroke-width="0.8"/>
<line x1="614.5" y1="278.8" x2="619.5" y2="278.8" class="pd"/><rect x="623.1" y="278.2" width="1.2" height="1.2" fill="#222"/><rect x="625.7" y="278.2" width="1.2" height="1.2" fill="#222"/><rect x="632.1" y="278.2" width="1.2" height="1.2" fill="#222"/><rect x="634.7" y="278.2" width="1.2" height="1.2" fill="#222"/><rect x="641.1" y="278.2" width="1.2" height="1.2" fill="#222"/><rect x="643.7" y="278.2" width="1.2" height="1.2" fill="#222"/>
<rect x="620.1" y="285.9" width="1.2" height="1.2" fill="#222"/><rect x="622.7" y="285.9" width="1.2" height="1.2" fill="#222"/><rect x="629.1" y="285.9" width="1.2" height="1.2" fill="#222"/><rect x="631.7" y="285.9" width="1.2" height="1.2" fill="#222"/><rect x="638.1" y="285.9" width="1.2" height="1.2" fill="#222"/><rect x="640.7" y="285.9" width="1.2" height="1.2" fill="#222"/><line x1="645.5" y1="286.5" x2="650.5" y2="286.5" class="pd"/>
<line x1="610.5" y1="282.6" x2="654.3" y2="282.6" stroke="#9a9a9a" stroke-width="0.8"/>
<rect x="610.5" y="290.3" width="61.8" height="8.0" fill="#fff" stroke="#8a8a8a" stroke-width="0.8"/>
<line x1="593.5" y1="290.3" x2="610.5" y2="290.3" stroke="#8a8a8a" stroke-width="0.8"/>
<line x1="593.5" y1="298.3" x2="610.5" y2="298.3" stroke="#8a8a8a" stroke-width="0.8"/>
<circle cx="618.3" cy="294.3" r="0.85" fill="#111"/><circle cx="632.0" cy="294.3" r="0.85" fill="#111"/><circle cx="644.4" cy="294.3" r="0.85" fill="#111"/><circle cx="656.8" cy="294.3" r="0.85" fill="#111"/>
<rect x="610.5" y="298.3" width="43.8" height="13.9" fill="#fff" stroke="#8a8a8a" stroke-width="0.8"/>
<line x1="614.5" y1="301.8" x2="619.5" y2="301.8" class="pd"/><rect x="623.1" y="301.2" width="1.2" height="1.2" fill="#222"/><rect x="625.7" y="301.2" width="1.2" height="1.2" fill="#222"/><rect x="632.1" y="301.2" width="1.2" height="1.2" fill="#222"/><rect x="634.7" y="301.2" width="1.2" height="1.2" fill="#222"/><rect x="641.1" y="301.2" width="1.2" height="1.2" fill="#222"/><rect x="643.7" y="301.2" width="1.2" height="1.2" fill="#222"/>
<rect x="620.1" y="308.1" width="1.2" height="1.2" fill="#222"/><rect x="622.7" y="308.1" width="1.2" height="1.2" fill="#222"/><rect x="629.1" y="308.1" width="1.2" height="1.2" fill="#222"/><rect x="631.7" y="308.1" width="1.2" height="1.2" fill="#222"/><rect x="638.1" y="308.1" width="1.2" height="1.2" fill="#222"/><rect x="640.7" y="308.1" width="1.2" height="1.2" fill="#222"/><line x1="645.5" y1="308.7" x2="650.5" y2="308.7" class="pd"/>
<line x1="610.5" y1="305.2" x2="654.3" y2="305.2" stroke="#9a9a9a" stroke-width="0.8"/>
<rect x="610.5" y="312.2" width="61.8" height="3.4" fill="#fff" stroke="#8a8a8a" stroke-width="0.8"/>
<line x1="593.5" y1="312.2" x2="610.5" y2="312.2" stroke="#8a8a8a" stroke-width="0.8"/>
<line x1="593.5" y1="315.6" x2="610.5" y2="315.6" stroke="#8a8a8a" stroke-width="0.8"/>
<rect x="610.5" y="315.6" width="43.8" height="29.4" fill="#fff" stroke="#8a8a8a" stroke-width="0.8"/>
<line x1="614.5" y1="319.3" x2="619.5" y2="319.3" class="pd"/><rect x="623.1" y="318.7" width="1.2" height="1.2" fill="#222"/><rect x="625.7" y="318.7" width="1.2" height="1.2" fill="#222"/><rect x="632.1" y="318.7" width="1.2" height="1.2" fill="#222"/><rect x="634.7" y="318.7" width="1.2" height="1.2" fill="#222"/><rect x="641.1" y="318.7" width="1.2" height="1.2" fill="#222"/><rect x="643.7" y="318.7" width="1.2" height="1.2" fill="#222"/>
<rect x="620.1" y="326.0" width="1.2" height="1.2" fill="#222"/><rect x="622.7" y="326.0" width="1.2" height="1.2" fill="#222"/><rect x="629.1" y="326.0" width="1.2" height="1.2" fill="#222"/><rect x="631.7" y="326.0" width="1.2" height="1.2" fill="#222"/><rect x="638.1" y="326.0" width="1.2" height="1.2" fill="#222"/><rect x="640.7" y="326.0" width="1.2" height="1.2" fill="#222"/><line x1="645.5" y1="326.6" x2="650.5" y2="326.6" class="pd"/>
<line x1="610.5" y1="323.0" x2="654.3" y2="323.0" stroke="#9a9a9a" stroke-width="0.8"/>
<line x1="614.5" y1="334.0" x2="619.5" y2="334.0" class="pd"/><rect x="623.1" y="333.4" width="1.2" height="1.2" fill="#222"/><rect x="625.7" y="333.4" width="1.2" height="1.2" fill="#222"/><rect x="632.1" y="333.4" width="1.2" height="1.2" fill="#222"/><rect x="634.7" y="333.4" width="1.2" height="1.2" fill="#222"/><rect x="641.1" y="333.4" width="1.2" height="1.2" fill="#222"/><rect x="643.7" y="333.4" width="1.2" height="1.2" fill="#222"/>
<line x1="610.5" y1="330.3" x2="654.3" y2="330.3" stroke="#9a9a9a" stroke-width="0.8"/>
<rect x="620.1" y="340.7" width="1.2" height="1.2" fill="#222"/><rect x="622.7" y="340.7" width="1.2" height="1.2" fill="#222"/><rect x="629.1" y="340.7" width="1.2" height="1.2" fill="#222"/><rect x="631.7" y="340.7" width="1.2" height="1.2" fill="#222"/><rect x="638.1" y="340.7" width="1.2" height="1.2" fill="#222"/><rect x="640.7" y="340.7" width="1.2" height="1.2" fill="#222"/><line x1="645.5" y1="341.3" x2="650.5" y2="341.3" class="pd"/>
<line x1="610.5" y1="337.6" x2="654.3" y2="337.6" stroke="#9a9a9a" stroke-width="0.8"/>
<rect x="610.5" y="345.0" width="35.8" height="24.3" fill="#fff" stroke="#8a8a8a" stroke-width="0.8"/>
<line x1="613.5" y1="349.1" x2="618.5" y2="349.1" class="pd"/><line x1="624.5" y1="349.1" x2="629.5" y2="349.1" class="pd"/><line x1="635.5" y1="349.1" x2="640.5" y2="349.1" class="pd"/>
<line x1="617.5" y1="357.2" x2="622.5" y2="357.2" class="pd"/><line x1="628.5" y1="357.2" x2="633.5" y2="357.2" class="pd"/><rect x="639.1" y="356.6" width="1.2" height="1.2" fill="#333"/><rect x="641.7" y="356.6" width="1.2" height="1.2" fill="#333"/>
<line x1="610.5" y1="353.1" x2="646.3" y2="353.1" stroke="#9a9a9a" stroke-width="0.8"/>
<line x1="613.5" y1="365.2" x2="618.5" y2="365.2" class="pd"/><line x1="624.5" y1="365.2" x2="629.5" y2="365.2" class="pd"/><line x1="635.5" y1="365.2" x2="640.5" y2="365.2" class="pd"/>
<line x1="610.5" y1="361.2" x2="646.3" y2="361.2" stroke="#9a9a9a" stroke-width="0.8"/>
<rect x="610.5" y="352.0" width="43.8" height="3.0" fill="#fff" stroke="#8a8a8a" stroke-width="0.8"/>
<line x1="593.5" y1="352.0" x2="610.5" y2="352.0" stroke="#8a8a8a" stroke-width="0.8"/>
<line x1="593.5" y1="355.0" x2="610.5" y2="355.0" stroke="#8a8a8a" stroke-width="0.8"/>
<rect x="610.5" y="363.0" width="43.8" height="2.0" fill="#fff" stroke="#8a8a8a" stroke-width="0.8"/>
<line x1="593.5" y1="363.0" x2="610.5" y2="363.0" stroke="#8a8a8a" stroke-width="0.8"/>
<line x1="593.5" y1="365.0" x2="610.5" y2="365.0" stroke="#8a8a8a" stroke-width="0.8"/>
<rect x="610.5" y="369.3" width="26.8" height="40.4" fill="#fff" stroke="#8a8a8a" stroke-width="0.8"/>
<line x1="612.5" y1="372.7" x2="615.5" y2="372.7" class="pd"/><line x1="620.5" y1="372.7" x2="623.5" y2="372.7" class="pd"/><line x1="628.5" y1="372.7" x2="631.5" y2="372.7" class="pd"/>
<line x1="615.5" y1="379.4" x2="618.5" y2="379.4" class="pd"/><line x1="623.5" y1="379.4" x2="626.5" y2="379.4" class="pd"/><line x1="631.5" y1="379.4" x2="634.5" y2="379.4" class="pd"/>
<line x1="610.5" y1="376.0" x2="637.3" y2="376.0" stroke="#9a9a9a" stroke-width="0.8"/>
<line x1="612.5" y1="386.1" x2="615.5" y2="386.1" class="pd"/><line x1="620.5" y1="386.1" x2="623.5" y2="386.1" class="pd"/><line x1="628.5" y1="386.1" x2="631.5" y2="386.1" class="pd"/>
<line x1="610.5" y1="382.8" x2="637.3" y2="382.8" stroke="#9a9a9a" stroke-width="0.8"/>
<line x1="615.5" y1="392.9" x2="618.5" y2="392.9" class="pd"/><line x1="623.5" y1="392.9" x2="626.5" y2="392.9" class="pd"/><line x1="631.5" y1="392.9" x2="634.5" y2="392.9" class="pd"/>
<line x1="610.5" y1="389.5" x2="637.3" y2="389.5" stroke="#9a9a9a" stroke-width="0.8"/>
<line x1="612.5" y1="399.6" x2="615.5" y2="399.6" class="pd"/><line x1="620.5" y1="399.6" x2="623.5" y2="399.6" class="pd"/><line x1="628.5" y1="399.6" x2="631.5" y2="399.6" class="pd"/>
<line x1="610.5" y1="396.2" x2="637.3" y2="396.2" stroke="#9a9a9a" stroke-width="0.8"/>
<line x1="615.5" y1="406.3" x2="618.5" y2="406.3" class="pd"/><line x1="623.5" y1="406.3" x2="626.5" y2="406.3" class="pd"/><line x1="631.5" y1="406.3" x2="634.5" y2="406.3" class="pd"/>
<line x1="610.5" y1="403.0" x2="637.3" y2="403.0" stroke="#9a9a9a" stroke-width="0.8"/>
<rect x="610.5" y="409.7" width="43.8" height="1.5" fill="#fff" stroke="#8a8a8a" stroke-width="0.8"/>
<line x1="593.5" y1="409.7" x2="610.5" y2="409.7" stroke="#8a8a8a" stroke-width="0.8"/>
<line x1="593.5" y1="411.2" x2="610.5" y2="411.2" stroke="#8a8a8a" stroke-width="0.8"/>
<rect x="610.5" y="411.2" width="61.8" height="7.3" fill="#fff" stroke="#8a8a8a" stroke-width="0.8"/>
<line x1="593.5" y1="411.2" x2="610.5" y2="411.2" stroke="#8a8a8a" stroke-width="0.8"/>
<line x1="593.5" y1="418.5" x2="610.5" y2="418.5" stroke="#8a8a8a" stroke-width="0.8"/>
<circle cx="618.3" cy="414.9" r="0.85" fill="#111"/><circle cx="632.0" cy="414.9" r="0.85" fill="#111"/><circle cx="644.4" cy="414.9" r="0.85" fill="#111"/><circle cx="656.8" cy="414.9" r="0.85" fill="#111"/>
<rect x="610.5" y="418.5" width="43.8" height="1.5" fill="#fff" stroke="#8a8a8a" stroke-width="0.8"/>
<line x1="593.5" y1="418.5" x2="610.5" y2="418.5" stroke="#8a8a8a" stroke-width="0.8"/>
<line x1="593.5" y1="420.0" x2="610.5" y2="420.0" stroke="#8a8a8a" stroke-width="0.8"/>
<rect x="610.5" y="420.0" width="35.8" height="10.6" fill="#fff" stroke="#8a8a8a" stroke-width="0.8"/>
<line x1="613.5" y1="422.6" x2="618.5" y2="422.6" class="pd"/><line x1="624.5" y1="422.6" x2="629.5" y2="422.6" class="pd"/><line x1="635.5" y1="422.6" x2="640.5" y2="422.6" class="pd"/>
<line x1="617.5" y1="428.0" x2="622.5" y2="428.0" class="pd"/><line x1="628.5" y1="428.0" x2="633.5" y2="428.0" class="pd"/><rect x="639.1" y="427.4" width="1.2" height="1.2" fill="#333"/><rect x="641.7" y="427.4" width="1.2" height="1.2" fill="#333"/>
<line x1="610.5" y1="425.3" x2="646.3" y2="425.3" stroke="#9a9a9a" stroke-width="0.8"/>
<rect x="610.5" y="430.6" width="43.8" height="2.9" fill="#fff" stroke="#8a8a8a" stroke-width="0.8"/>
<line x1="593.5" y1="430.6" x2="610.5" y2="430.6" stroke="#8a8a8a" stroke-width="0.8"/>
<line x1="593.5" y1="433.5" x2="610.5" y2="433.5" stroke="#8a8a8a" stroke-width="0.8"/>
<rect x="610.5" y="433.5" width="35.8" height="3.7" fill="#fff" stroke="#8a8a8a" stroke-width="0.8"/>
<line x1="593.5" y1="433.5" x2="610.5" y2="433.5" stroke="#8a8a8a" stroke-width="0.8"/>
<line x1="593.5" y1="437.2" x2="610.5" y2="437.2" stroke="#8a8a8a" stroke-width="0.8"/>
<rect x="610.5" y="437.2" width="61.8" height="147.2" fill="#fff" stroke="#8a8a8a" stroke-width="0.8"/>
<circle cx="618.3" cy="440.7" r="0.85" fill="#111"/><circle cx="632.0" cy="440.7" r="0.85" fill="#111"/><circle cx="644.4" cy="440.7" r="0.85" fill="#111"/><circle cx="656.8" cy="440.7" r="0.85" fill="#111"/>
<circle cx="625.9" cy="447.7" r="0.85" fill="#111"/><circle cx="638.3" cy="447.7" r="0.85" fill="#111"/><circle cx="650.7" cy="447.7" r="0.85" fill="#111"/><circle cx="664.6" cy="447.7" r="0.85" fill="#111"/>
<line x1="610.5" y1="444.2" x2="672.3" y2="444.2" stroke="#9a9a9a" stroke-width="0.8"/>
<circle cx="618.3" cy="454.7" r="0.85" fill="#111"/><circle cx="632.0" cy="454.7" r="0.85" fill="#111"/><circle cx="644.4" cy="454.7" r="0.85" fill="#111"/><circle cx="656.8" cy="454.7" r="0.85" fill="#111"/>
<line x1="610.5" y1="451.2" x2="672.3" y2="451.2" stroke="#9a9a9a" stroke-width="0.8"/>
<circle cx="625.9" cy="461.7" r="0.85" fill="#111"/><circle cx="638.3" cy="461.7" r="0.85" fill="#111"/><circle cx="650.7" cy="461.7" r="0.85" fill="#111"/><circle cx="664.6" cy="461.7" r="0.85" fill="#111"/>
<line x1="610.5" y1="458.2" x2="672.3" y2="458.2" stroke="#9a9a9a" stroke-width="0.8"/>
<circle cx="618.3" cy="468.7" r="0.85" fill="#111"/><circle cx="632.0" cy="468.7" r="0.85" fill="#111"/><circle cx="644.4" cy="468.7" r="0.85" fill="#111"/><circle cx="656.8" cy="468.7" r="0.85" fill="#111"/>
<line x1="610.5" y1="465.2" x2="672.3" y2="465.2" stroke="#9a9a9a" stroke-width="0.8"/>
<circle cx="625.9" cy="475.8" r="0.85" fill="#111"/><circle cx="638.3" cy="475.8" r="0.85" fill="#111"/><circle cx="650.7" cy="475.8" r="0.85" fill="#111"/><circle cx="664.6" cy="475.8" r="0.85" fill="#111"/>
<line x1="610.5" y1="472.2" x2="672.3" y2="472.2" stroke="#9a9a9a" stroke-width="0.8"/>
<circle cx="618.3" cy="482.8" r="0.85" fill="#111"/><circle cx="632.0" cy="482.8" r="0.85" fill="#111"/><circle cx="644.4" cy="482.8" r="0.85" fill="#111"/><circle cx="656.8" cy="482.8" r="0.85" fill="#111"/>
<line x1="610.5" y1="479.3" x2="672.3" y2="479.3" stroke="#9a9a9a" stroke-width="0.8"/>
<circle cx="625.9" cy="489.8" r="0.85" fill="#111"/><circle cx="638.3" cy="489.8" r="0.85" fill="#111"/><circle cx="650.7" cy="489.8" r="0.85" fill="#111"/><circle cx="664.6" cy="489.8" r="0.85" fill="#111"/>
<line x1="610.5" y1="486.3" x2="672.3" y2="486.3" stroke="#9a9a9a" stroke-width="0.8"/>
<circle cx="618.3" cy="496.8" r="0.85" fill="#111"/><circle cx="632.0" cy="496.8" r="0.85" fill="#111"/><circle cx="644.4" cy="496.8" r="0.85" fill="#111"/><circle cx="656.8" cy="496.8" r="0.85" fill="#111"/>
<line x1="610.5" y1="493.3" x2="672.3" y2="493.3" stroke="#9a9a9a" stroke-width="0.8"/>
<circle cx="625.9" cy="503.8" r="0.85" fill="#111"/><circle cx="638.3" cy="503.8" r="0.85" fill="#111"/><circle cx="650.7" cy="503.8" r="0.85" fill="#111"/><circle cx="664.6" cy="503.8" r="0.85" fill="#111"/>
<line x1="610.5" y1="500.3" x2="672.3" y2="500.3" stroke="#9a9a9a" stroke-width="0.8"/>
<circle cx="618.3" cy="510.8" r="0.85" fill="#111"/><circle cx="632.0" cy="510.8" r="0.85" fill="#111"/><circle cx="644.4" cy="510.8" r="0.85" fill="#111"/><circle cx="656.8" cy="510.8" r="0.85" fill="#111"/>
<line x1="610.5" y1="507.3" x2="672.3" y2="507.3" stroke="#9a9a9a" stroke-width="0.8"/>
<circle cx="625.9" cy="517.8" r="0.85" fill="#111"/><circle cx="638.3" cy="517.8" r="0.85" fill="#111"/><circle cx="650.7" cy="517.8" r="0.85" fill="#111"/><circle cx="664.6" cy="517.8" r="0.85" fill="#111"/>
<line x1="610.5" y1="514.3" x2="672.3" y2="514.3" stroke="#9a9a9a" stroke-width="0.8"/>
<circle cx="618.3" cy="524.8" r="0.85" fill="#111"/><circle cx="632.0" cy="524.8" r="0.85" fill="#111"/><circle cx="644.4" cy="524.8" r="0.85" fill="#111"/><circle cx="656.8" cy="524.8" r="0.85" fill="#111"/>
<line x1="610.5" y1="521.3" x2="672.3" y2="521.3" stroke="#9a9a9a" stroke-width="0.8"/>
<circle cx="625.9" cy="531.8" r="0.85" fill="#111"/><circle cx="638.3" cy="531.8" r="0.85" fill="#111"/><circle cx="650.7" cy="531.8" r="0.85" fill="#111"/><circle cx="664.6" cy="531.8" r="0.85" fill="#111"/>
<line x1="610.5" y1="528.3" x2="672.3" y2="528.3" stroke="#9a9a9a" stroke-width="0.8"/>
<circle cx="618.3" cy="538.8" r="0.85" fill="#111"/><circle cx="632.0" cy="538.8" r="0.85" fill="#111"/><circle cx="644.4" cy="538.8" r="0.85" fill="#111"/><circle cx="656.8" cy="538.8" r="0.85" fill="#111"/>
<line x1="610.5" y1="535.3" x2="672.3" y2="535.3" stroke="#9a9a9a" stroke-width="0.8"/>
<circle cx="625.9" cy="545.8" r="0.85" fill="#111"/><circle cx="638.3" cy="545.8" r="0.85" fill="#111"/><circle cx="650.7" cy="545.8" r="0.85" fill="#111"/><circle cx="664.6" cy="545.8" r="0.85" fill="#111"/>
<line x1="610.5" y1="542.3" x2="672.3" y2="542.3" stroke="#9a9a9a" stroke-width="0.8"/>
<circle cx="618.3" cy="552.9" r="0.85" fill="#111"/><circle cx="632.0" cy="552.9" r="0.85" fill="#111"/><circle cx="644.4" cy="552.9" r="0.85" fill="#111"/><circle cx="656.8" cy="552.9" r="0.85" fill="#111"/>
<line x1="610.5" y1="549.4" x2="672.3" y2="549.4" stroke="#9a9a9a" stroke-width="0.8"/>
<circle cx="625.9" cy="559.9" r="0.85" fill="#111"/><circle cx="638.3" cy="559.9" r="0.85" fill="#111"/><circle cx="650.7" cy="559.9" r="0.85" fill="#111"/><circle cx="664.6" cy="559.9" r="0.85" fill="#111"/>
<line x1="610.5" y1="556.4" x2="672.3" y2="556.4" stroke="#9a9a9a" stroke-width="0.8"/>
<circle cx="618.3" cy="566.9" r="0.85" fill="#111"/><circle cx="632.0" cy="566.9" r="0.85" fill="#111"/><circle cx="644.4" cy="566.9" r="0.85" fill="#111"/><circle cx="656.8" cy="566.9" r="0.85" fill="#111"/>
<line x1="610.5" y1="563.4" x2="672.3" y2="563.4" stroke="#9a9a9a" stroke-width="0.8"/>
<circle cx="625.9" cy="573.9" r="0.85" fill="#111"/><circle cx="638.3" cy="573.9" r="0.85" fill="#111"/><circle cx="650.7" cy="573.9" r="0.85" fill="#111"/><circle cx="664.6" cy="573.9" r="0.85" fill="#111"/>
<line x1="610.5" y1="570.4" x2="672.3" y2="570.4" stroke="#9a9a9a" stroke-width="0.8"/>
<circle cx="618.3" cy="580.9" r="0.85" fill="#111"/><circle cx="632.0" cy="580.9" r="0.85" fill="#111"/><circle cx="644.4" cy="580.9" r="0.85" fill="#111"/><circle cx="656.8" cy="580.9" r="0.85" fill="#111"/>
<line x1="610.5" y1="577.4" x2="672.3" y2="577.4" stroke="#9a9a9a" stroke-width="0.8"/>
<rect x="610.5" y="584.4" width="26.8" height="9.1" fill="#fff" stroke="#8a8a8a" stroke-width="0.8"/>
<line x1="593.5" y1="584.4" x2="610.5" y2="584.4" stroke="#8a8a8a" stroke-width="0.8"/>
<line x1="593.5" y1="593.5" x2="610.5" y2="593.5" stroke="#8a8a8a" stroke-width="0.8"/>
<line x1="612.5" y1="589.0" x2="615.5" y2="589.0" class="pd"/><line x1="620.5" y1="589.0" x2="623.5" y2="589.0" class="pd"/><line x1="628.5" y1="589.0" x2="631.5" y2="589.0" class="pd"/>
<rect x="610.5" y="594.2" width="43.8" height="13.6" fill="#fff" stroke="#8a8a8a" stroke-width="0.8"/>
<line x1="614.5" y1="597.6" x2="619.5" y2="597.6" class="pd"/><rect x="623.1" y="597.0" width="1.2" height="1.2" fill="#222"/><rect x="625.7" y="597.0" width="1.2" height="1.2" fill="#222"/><rect x="632.1" y="597.0" width="1.2" height="1.2" fill="#222"/><rect x="634.7" y="597.0" width="1.2" height="1.2" fill="#222"/><rect x="641.1" y="597.0" width="1.2" height="1.2" fill="#222"/><rect x="643.7" y="597.0" width="1.2" height="1.2" fill="#222"/>
<rect x="620.1" y="603.8" width="1.2" height="1.2" fill="#222"/><rect x="622.7" y="603.8" width="1.2" height="1.2" fill="#222"/><rect x="629.1" y="603.8" width="1.2" height="1.2" fill="#222"/><rect x="631.7" y="603.8" width="1.2" height="1.2" fill="#222"/><rect x="638.1" y="603.8" width="1.2" height="1.2" fill="#222"/><rect x="640.7" y="603.8" width="1.2" height="1.2" fill="#222"/><line x1="645.5" y1="604.4" x2="650.5" y2="604.4" class="pd"/>
<line x1="610.5" y1="601.0" x2="654.3" y2="601.0" stroke="#9a9a9a" stroke-width="0.8"/>
<rect x="610.5" y="607.8" width="35.8" height="4.4" fill="#fff" stroke="#8a8a8a" stroke-width="0.8"/>
<line x1="593.5" y1="607.8" x2="610.5" y2="607.8" stroke="#8a8a8a" stroke-width="0.8"/>
<line x1="593.5" y1="612.2" x2="610.5" y2="612.2" stroke="#8a8a8a" stroke-width="0.8"/>
<line x1="613.5" y1="610.0" x2="618.5" y2="610.0" class="pd"/><line x1="624.5" y1="610.0" x2="629.5" y2="610.0" class="pd"/><line x1="635.5" y1="610.0" x2="640.5" y2="610.0" class="pd"/>
<rect x="610.5" y="612.2" width="43.8" height="6.1" fill="#fff" stroke="#8a8a8a" stroke-width="0.8"/>
<line x1="593.5" y1="612.2" x2="610.5" y2="612.2" stroke="#8a8a8a" stroke-width="0.8"/>
<line x1="593.5" y1="618.3" x2="610.5" y2="618.3" stroke="#8a8a8a" stroke-width="0.8"/>
<line x1="614.5" y1="615.2" x2="619.5" y2="615.2" class="pd"/><rect x="623.1" y="614.6" width="1.2" height="1.2" fill="#222"/><rect x="625.7" y="614.6" width="1.2" height="1.2" fill="#222"/><rect x="632.1" y="614.6" width="1.2" height="1.2" fill="#222"/><rect x="634.7" y="614.6" width="1.2" height="1.2" fill="#222"/><rect x="641.1" y="614.6" width="1.2" height="1.2" fill="#222"/><rect x="643.7" y="614.6" width="1.2" height="1.2" fill="#222"/>
<rect x="610.5" y="618.3" width="35.8" height="32.9" fill="#fff" stroke="#8a8a8a" stroke-width="0.8"/>
<line x1="613.5" y1="622.4" x2="618.5" y2="622.4" class="pd"/><line x1="624.5" y1="622.4" x2="629.5" y2="622.4" class="pd"/><line x1="635.5" y1="622.4" x2="640.5" y2="622.4" class="pd"/>
<line x1="617.5" y1="630.6" x2="622.5" y2="630.6" class="pd"/><line x1="628.5" y1="630.6" x2="633.5" y2="630.6" class="pd"/><rect x="639.1" y="630.0" width="1.2" height="1.2" fill="#333"/><rect x="641.7" y="630.0" width="1.2" height="1.2" fill="#333"/>
<line x1="610.5" y1="626.5" x2="646.3" y2="626.5" stroke="#9a9a9a" stroke-width="0.8"/>
<line x1="613.5" y1="638.9" x2="618.5" y2="638.9" class="pd"/><line x1="624.5" y1="638.9" x2="629.5" y2="638.9" class="pd"/><line x1="635.5" y1="638.9" x2="640.5" y2="638.9" class="pd"/>
<line x1="610.5" y1="634.8" x2="646.3" y2="634.8" stroke="#9a9a9a" stroke-width="0.8"/>
<line x1="617.5" y1="647.1" x2="622.5" y2="647.1" class="pd"/><line x1="628.5" y1="647.1" x2="633.5" y2="647.1" class="pd"/><rect x="639.1" y="646.5" width="1.2" height="1.2" fill="#333"/><rect x="641.7" y="646.5" width="1.2" height="1.2" fill="#333"/>
<line x1="610.5" y1="643.0" x2="646.3" y2="643.0" stroke="#9a9a9a" stroke-width="0.8"/>
<rect x="610.5" y="651.2" width="26.8" height="39.8" fill="#fff" stroke="#8a8a8a" stroke-width="0.8"/>
<line x1="612.5" y1="654.5" x2="615.5" y2="654.5" class="pd"/><line x1="620.5" y1="654.5" x2="623.5" y2="654.5" class="pd"/><line x1="628.5" y1="654.5" x2="631.5" y2="654.5" class="pd"/>
<line x1="615.5" y1="661.2" x2="618.5" y2="661.2" class="pd"/><line x1="623.5" y1="661.2" x2="626.5" y2="661.2" class="pd"/><line x1="631.5" y1="661.2" x2="634.5" y2="661.2" class="pd"/>
<line x1="610.5" y1="657.8" x2="637.3" y2="657.8" stroke="#9a9a9a" stroke-width="0.8"/>
<line x1="612.5" y1="667.8" x2="615.5" y2="667.8" class="pd"/><line x1="620.5" y1="667.8" x2="623.5" y2="667.8" class="pd"/><line x1="628.5" y1="667.8" x2="631.5" y2="667.8" class="pd"/>
<line x1="610.5" y1="664.5" x2="637.3" y2="664.5" stroke="#9a9a9a" stroke-width="0.8"/>
<line x1="615.5" y1="674.4" x2="618.5" y2="674.4" class="pd"/><line x1="623.5" y1="674.4" x2="626.5" y2="674.4" class="pd"/><line x1="631.5" y1="674.4" x2="634.5" y2="674.4" class="pd"/>
<line x1="610.5" y1="671.1" x2="637.3" y2="671.1" stroke="#9a9a9a" stroke-width="0.8"/>
<line x1="612.5" y1="681.0" x2="615.5" y2="681.0" class="pd"/><line x1="620.5" y1="681.0" x2="623.5" y2="681.0" class="pd"/><line x1="628.5" y1="681.0" x2="631.5" y2="681.0" class="pd"/>
<line x1="610.5" y1="677.7" x2="637.3" y2="677.7" stroke="#9a9a9a" stroke-width="0.8"/>
<line x1="615.5" y1="687.7" x2="618.5" y2="687.7" class="pd"/><line x1="623.5" y1="687.7" x2="626.5" y2="687.7" class="pd"/><line x1="631.5" y1="687.7" x2="634.5" y2="687.7" class="pd"/>
<line x1="610.5" y1="684.4" x2="637.3" y2="684.4" stroke="#9a9a9a" stroke-width="0.8"/>
<rect x="610.5" y="691.0" width="43.8" height="6.6" fill="#fff" stroke="#8a8a8a" stroke-width="0.8"/>
<line x1="593.5" y1="691.0" x2="610.5" y2="691.0" stroke="#8a8a8a" stroke-width="0.8"/>
<line x1="593.5" y1="697.6" x2="610.5" y2="697.6" stroke="#8a8a8a" stroke-width="0.8"/>
<line x1="614.5" y1="694.3" x2="619.5" y2="694.3" class="pd"/><rect x="623.1" y="693.7" width="1.2" height="1.2" fill="#222"/><rect x="625.7" y="693.7" width="1.2" height="1.2" fill="#222"/><rect x="632.1" y="693.7" width="1.2" height="1.2" fill="#222"/><rect x="634.7" y="693.7" width="1.2" height="1.2" fill="#222"/><rect x="641.1" y="693.7" width="1.2" height="1.2" fill="#222"/><rect x="643.7" y="693.7" width="1.2" height="1.2" fill="#222"/>
<rect x="610.5" y="697.6" width="35.8" height="5.1" fill="#fff" stroke="#8a8a8a" stroke-width="0.8"/>
<line x1="593.5" y1="697.6" x2="610.5" y2="697.6" stroke="#8a8a8a" stroke-width="0.8"/>
<line x1="593.5" y1="702.7" x2="610.5" y2="702.7" stroke="#8a8a8a" stroke-width="0.8"/>
<line x1="613.5" y1="700.2" x2="618.5" y2="700.2" class="pd"/><line x1="624.5" y1="700.2" x2="629.5" y2="700.2" class="pd"/><line x1="635.5" y1="700.2" x2="640.5" y2="700.2" class="pd"/>
<rect x="610.5" y="702.7" width="43.8" height="4.4" fill="#fff" stroke="#8a8a8a" stroke-width="0.8"/>
<line x1="593.5" y1="702.7" x2="610.5" y2="702.7" stroke="#8a8a8a" stroke-width="0.8"/>
<line x1="593.5" y1="707.1" x2="610.5" y2="707.1" stroke="#8a8a8a" stroke-width="0.8"/>
<line x1="614.5" y1="704.9" x2="619.5" y2="704.9" class="pd"/><rect x="623.1" y="704.3" width="1.2" height="1.2" fill="#222"/><rect x="625.7" y="704.3" width="1.2" height="1.2" fill="#222"/><rect x="632.1" y="704.3" width="1.2" height="1.2" fill="#222"/><rect x="634.7" y="704.3" width="1.2" height="1.2" fill="#222"/><rect x="641.1" y="704.3" width="1.2" height="1.2" fill="#222"/><rect x="643.7" y="704.3" width="1.2" height="1.2" fill="#222"/>
<rect x="610.5" y="707.1" width="61.8" height="17.2" fill="#fff" stroke="#8a8a8a" stroke-width="0.8"/>
<circle cx="618.3" cy="711.4" r="0.85" fill="#111"/><circle cx="632.0" cy="711.4" r="0.85" fill="#111"/><circle cx="644.4" cy="711.4" r="0.85" fill="#111"/><circle cx="656.8" cy="711.4" r="0.85" fill="#111"/>
<circle cx="625.9" cy="720.0" r="0.85" fill="#111"/><circle cx="638.3" cy="720.0" r="0.85" fill="#111"/><circle cx="650.7" cy="720.0" r="0.85" fill="#111"/><circle cx="664.6" cy="720.0" r="0.85" fill="#111"/>
<line x1="610.5" y1="715.7" x2="672.3" y2="715.7" stroke="#9a9a9a" stroke-width="0.8"/>
<rect x="610.5" y="724.3" width="43.8" height="6.2" fill="#fff" stroke="#8a8a8a" stroke-width="0.8"/>
<line x1="593.5" y1="724.3" x2="610.5" y2="724.3" stroke="#8a8a8a" stroke-width="0.8"/>
<line x1="593.5" y1="730.5" x2="610.5" y2="730.5" stroke="#8a8a8a" stroke-width="0.8"/>
<line x1="614.5" y1="727.4" x2="619.5" y2="727.4" class="pd"/><rect x="623.1" y="726.8" width="1.2" height="1.2" fill="#222"/><rect x="625.7" y="726.8" width="1.2" height="1.2" fill="#222"/><rect x="632.1" y="726.8" width="1.2" height="1.2" fill="#222"/><rect x="634.7" y="726.8" width="1.2" height="1.2" fill="#222"/><rect x="641.1" y="726.8" width="1.2" height="1.2" fill="#222"/><rect x="643.7" y="726.8" width="1.2" height="1.2" fill="#222"/>
<rect x="610.5" y="730.5" width="61.8" height="31.5" fill="#fff" stroke="#8a8a8a" stroke-width="0.8"/>
<circle cx="618.3" cy="733.6" r="0.85" fill="#111"/><circle cx="632.0" cy="733.6" r="0.85" fill="#111"/><circle cx="644.4" cy="733.6" r="0.85" fill="#111"/><circle cx="656.8" cy="733.6" r="0.85" fill="#111"/>
<circle cx="625.9" cy="739.9" r="0.85" fill="#111"/><circle cx="638.3" cy="739.9" r="0.85" fill="#111"/><circle cx="650.7" cy="739.9" r="0.85" fill="#111"/><circle cx="664.6" cy="739.9" r="0.85" fill="#111"/>
<line x1="610.5" y1="736.8" x2="672.3" y2="736.8" stroke="#9a9a9a" stroke-width="0.8"/>
<circle cx="618.3" cy="746.2" r="0.85" fill="#111"/><circle cx="632.0" cy="746.2" r="0.85" fill="#111"/><circle cx="644.4" cy="746.2" r="0.85" fill="#111"/><circle cx="656.8" cy="746.2" r="0.85" fill="#111"/>
<line x1="610.5" y1="743.1" x2="672.3" y2="743.1" stroke="#9a9a9a" stroke-width="0.8"/>
<circle cx="625.9" cy="752.5" r="0.85" fill="#111"/><circle cx="638.3" cy="752.5" r="0.85" fill="#111"/><circle cx="650.7" cy="752.5" r="0.85" fill="#111"/><circle cx="664.6" cy="752.5" r="0.85" fill="#111"/>
<line x1="610.5" y1="749.4" x2="672.3" y2="749.4" stroke="#9a9a9a" stroke-width="0.8"/>
<circle cx="618.3" cy="758.9" r="0.85" fill="#111"/><circle cx="632.0" cy="758.9" r="0.85" fill="#111"/><circle cx="644.4" cy="758.9" r="0.85" fill="#111"/><circle cx="656.8" cy="758.9" r="0.85" fill="#111"/>
<line x1="610.5" y1="755.7" x2="672.3" y2="755.7" stroke="#9a9a9a" stroke-width="0.8"/>
<rect x="610.5" y="762.0" width="43.8" height="3.0" fill="#fff" stroke="#8a8a8a" stroke-width="0.8"/>
<line x1="593.5" y1="762.0" x2="610.5" y2="762.0" stroke="#8a8a8a" stroke-width="0.8"/>
<line x1="593.5" y1="765.0" x2="610.5" y2="765.0" stroke="#8a8a8a" stroke-width="0.8"/>
<rect x="610.5" y="765.0" width="35.8" height="2.5" fill="#fff" stroke="#8a8a8a" stroke-width="0.8"/>
<line x1="593.5" y1="765.0" x2="610.5" y2="765.0" stroke="#8a8a8a" stroke-width="0.8"/>
<line x1="593.5" y1="767.5" x2="610.5" y2="767.5" stroke="#8a8a8a" stroke-width="0.8"/>
<rect x="610.5" y="767.5" width="43.8" height="2.8" fill="#fff" stroke="#8a8a8a" stroke-width="0.8"/>
<line x1="593.5" y1="767.5" x2="610.5" y2="767.5" stroke="#8a8a8a" stroke-width="0.8"/>
<line x1="593.5" y1="770.3" x2="610.5" y2="770.3" stroke="#8a8a8a" stroke-width="0.8"/>
<rect x="610.5" y="770.3" width="61.8" height="86.6" fill="#fff" stroke="#8a8a8a" stroke-width="0.8"/>
<circle cx="618.3" cy="773.9" r="0.85" fill="#111"/><circle cx="632.0" cy="773.9" r="0.85" fill="#111"/><circle cx="644.4" cy="773.9" r="0.85" fill="#111"/><circle cx="656.8" cy="773.9" r="0.85" fill="#111"/>
<circle cx="625.9" cy="781.1" r="0.85" fill="#111"/><circle cx="638.3" cy="781.1" r="0.85" fill="#111"/><circle cx="650.7" cy="781.1" r="0.85" fill="#111"/><circle cx="664.6" cy="781.1" r="0.85" fill="#111"/>
<line x1="610.5" y1="777.5" x2="672.3" y2="777.5" stroke="#9a9a9a" stroke-width="0.8"/>
<circle cx="618.3" cy="788.3" r="0.85" fill="#111"/><circle cx="632.0" cy="788.3" r="0.85" fill="#111"/><circle cx="644.4" cy="788.3" r="0.85" fill="#111"/><circle cx="656.8" cy="788.3" r="0.85" fill="#111"/>
<line x1="610.5" y1="784.7" x2="672.3" y2="784.7" stroke="#9a9a9a" stroke-width="0.8"/>
<circle cx="625.9" cy="795.6" r="0.85" fill="#111"/><circle cx="638.3" cy="795.6" r="0.85" fill="#111"/><circle cx="650.7" cy="795.6" r="0.85" fill="#111"/><circle cx="664.6" cy="795.6" r="0.85" fill="#111"/>
<line x1="610.5" y1="791.9" x2="672.3" y2="791.9" stroke="#9a9a9a" stroke-width="0.8"/>
<circle cx="618.3" cy="802.8" r="0.85" fill="#111"/><circle cx="632.0" cy="802.8" r="0.85" fill="#111"/><circle cx="644.4" cy="802.8" r="0.85" fill="#111"/><circle cx="656.8" cy="802.8" r="0.85" fill="#111"/>
<line x1="610.5" y1="799.2" x2="672.3" y2="799.2" stroke="#9a9a9a" stroke-width="0.8"/>
<circle cx="625.9" cy="810.0" r="0.85" fill="#111"/><circle cx="638.3" cy="810.0" r="0.85" fill="#111"/><circle cx="650.7" cy="810.0" r="0.85" fill="#111"/><circle cx="664.6" cy="810.0" r="0.85" fill="#111"/>
<line x1="610.5" y1="806.4" x2="672.3" y2="806.4" stroke="#9a9a9a" stroke-width="0.8"/>
<circle cx="618.3" cy="817.2" r="0.85" fill="#111"/><circle cx="632.0" cy="817.2" r="0.85" fill="#111"/><circle cx="644.4" cy="817.2" r="0.85" fill="#111"/><circle cx="656.8" cy="817.2" r="0.85" fill="#111"/>
<line x1="610.5" y1="813.6" x2="672.3" y2="813.6" stroke="#9a9a9a" stroke-width="0.8"/>
<circle cx="625.9" cy="824.4" r="0.85" fill="#111"/><circle cx="638.3" cy="824.4" r="0.85" fill="#111"/><circle cx="650.7" cy="824.4" r="0.85" fill="#111"/><circle cx="664.6" cy="824.4" r="0.85" fill="#111"/>
<line x1="610.5" y1="820.8" x2="672.3" y2="820.8" stroke="#9a9a9a" stroke-width="0.8"/>
<circle cx="618.3" cy="831.6" r="0.85" fill="#111"/><circle cx="632.0" cy="831.6" r="0.85" fill="#111"/><circle cx="644.4" cy="831.6" r="0.85" fill="#111"/><circle cx="656.8" cy="831.6" r="0.85" fill="#111"/>
<line x1="610.5" y1="828.0" x2="672.3" y2="828.0" stroke="#9a9a9a" stroke-width="0.8"/>
<circle cx="625.9" cy="838.9" r="0.85" fill="#111"/><circle cx="638.3" cy="838.9" r="0.85" fill="#111"/><circle cx="650.7" cy="838.9" r="0.85" fill="#111"/><circle cx="664.6" cy="838.9" r="0.85" fill="#111"/>
<line x1="610.5" y1="835.2" x2="672.3" y2="835.2" stroke="#9a9a9a" stroke-width="0.8"/>
<circle cx="618.3" cy="846.1" r="0.85" fill="#111"/><circle cx="632.0" cy="846.1" r="0.85" fill="#111"/><circle cx="644.4" cy="846.1" r="0.85" fill="#111"/><circle cx="656.8" cy="846.1" r="0.85" fill="#111"/>
<line x1="610.5" y1="842.5" x2="672.3" y2="842.5" stroke="#9a9a9a" stroke-width="0.8"/>
<circle cx="625.9" cy="853.3" r="0.85" fill="#111"/><circle cx="638.3" cy="853.3" r="0.85" fill="#111"/><circle cx="650.7" cy="853.3" r="0.85" fill="#111"/><circle cx="664.6" cy="853.3" r="0.85" fill="#111"/>
<line x1="610.5" y1="849.7" x2="672.3" y2="849.7" stroke="#9a9a9a" stroke-width="0.8"/>
<rect x="610.5" y="856.9" width="43.8" height="2.6" fill="#fff" stroke="#8a8a8a" stroke-width="0.8"/>
<line x1="593.5" y1="856.9" x2="610.5" y2="856.9" stroke="#8a8a8a" stroke-width="0.8"/>
<line x1="593.5" y1="859.5" x2="610.5" y2="859.5" stroke="#8a8a8a" stroke-width="0.8"/>
<rect x="610.5" y="859.5" width="26.8" height="6.9" fill="#fff" stroke="#8a8a8a" stroke-width="0.8"/>
<line x1="593.5" y1="859.5" x2="610.5" y2="859.5" stroke="#8a8a8a" stroke-width="0.8"/>
<line x1="593.5" y1="866.4" x2="610.5" y2="866.4" stroke="#8a8a8a" stroke-width="0.8"/>
<line x1="612.5" y1="863.0" x2="615.5" y2="863.0" class="pd"/><line x1="620.5" y1="863.0" x2="623.5" y2="863.0" class="pd"/><line x1="628.5" y1="863.0" x2="631.5" y2="863.0" class="pd"/>
<rect x="610.5" y="866.4" width="61.8" height="15.0" fill="#fff" stroke="#8a8a8a" stroke-width="0.8"/>
<circle cx="618.3" cy="870.1" r="0.85" fill="#111"/><circle cx="632.0" cy="870.1" r="0.85" fill="#111"/><circle cx="644.4" cy="870.1" r="0.85" fill="#111"/><circle cx="656.8" cy="870.1" r="0.85" fill="#111"/>
<circle cx="625.9" cy="877.6" r="0.85" fill="#111"/><circle cx="638.3" cy="877.6" r="0.85" fill="#111"/><circle cx="650.7" cy="877.6" r="0.85" fill="#111"/><circle cx="664.6" cy="877.6" r="0.85" fill="#111"/>
<line x1="610.5" y1="873.9" x2="672.3" y2="873.9" stroke="#9a9a9a" stroke-width="0.8"/>
<rect x="610.5" y="881.4" width="43.8" height="1.8" fill="#fff" stroke="#8a8a8a" stroke-width="0.8"/>
<line x1="593.5" y1="881.4" x2="610.5" y2="881.4" stroke="#8a8a8a" stroke-width="0.8"/>
<line x1="593.5" y1="883.2" x2="610.5" y2="883.2" stroke="#8a8a8a" stroke-width="0.8"/>
<rect x="610.5" y="883.2" width="26.8" height="7.3" fill="#fff" stroke="#8a8a8a" stroke-width="0.8"/>
<line x1="593.5" y1="883.2" x2="610.5" y2="883.2" stroke="#8a8a8a" stroke-width="0.8"/>
<line x1="593.5" y1="890.5" x2="610.5" y2="890.5" stroke="#8a8a8a" stroke-width="0.8"/>
<line x1="612.5" y1="886.9" x2="615.5" y2="886.9" class="pd"/><line x1="620.5" y1="886.9" x2="623.5" y2="886.9" class="pd"/><line x1="628.5" y1="886.9" x2="631.5" y2="886.9" class="pd"/>
<rect x="610.5" y="890.5" width="61.8" height="116.6" fill="#fff" stroke="#8a8a8a" stroke-width="0.8"/>
<circle cx="618.3" cy="893.9" r="0.85" fill="#111"/><circle cx="632.0" cy="893.9" r="0.85" fill="#111"/><circle cx="644.4" cy="893.9" r="0.85" fill="#111"/><circle cx="656.8" cy="893.9" r="0.85" fill="#111"/>
<circle cx="625.9" cy="900.8" r="0.85" fill="#111"/><circle cx="638.3" cy="900.8" r="0.85" fill="#111"/><circle cx="650.7" cy="900.8" r="0.85" fill="#111"/><circle cx="664.6" cy="900.8" r="0.85" fill="#111"/>
<line x1="610.5" y1="897.4" x2="672.3" y2="897.4" stroke="#9a9a9a" stroke-width="0.8"/>
<circle cx="618.3" cy="907.6" r="0.85" fill="#111"/><circle cx="632.0" cy="907.6" r="0.85" fill="#111"/><circle cx="644.4" cy="907.6" r="0.85" fill="#111"/><circle cx="656.8" cy="907.6" r="0.85" fill="#111"/>
<line x1="610.5" y1="904.2" x2="672.3" y2="904.2" stroke="#9a9a9a" stroke-width="0.8"/>
<circle cx="625.9" cy="914.5" r="0.85" fill="#111"/><circle cx="638.3" cy="914.5" r="0.85" fill="#111"/><circle cx="650.7" cy="914.5" r="0.85" fill="#111"/><circle cx="664.6" cy="914.5" r="0.85" fill="#111"/>
<line x1="610.5" y1="911.1" x2="672.3" y2="911.1" stroke="#9a9a9a" stroke-width="0.8"/>
<circle cx="618.3" cy="921.4" r="0.85" fill="#111"/><circle cx="632.0" cy="921.4" r="0.85" fill="#111"/><circle cx="644.4" cy="921.4" r="0.85" fill="#111"/><circle cx="656.8" cy="921.4" r="0.85" fill="#111"/>
<line x1="610.5" y1="917.9" x2="672.3" y2="917.9" stroke="#9a9a9a" stroke-width="0.8"/>
<circle cx="625.9" cy="928.2" r="0.85" fill="#111"/><circle cx="638.3" cy="928.2" r="0.85" fill="#111"/><circle cx="650.7" cy="928.2" r="0.85" fill="#111"/><circle cx="664.6" cy="928.2" r="0.85" fill="#111"/>
<line x1="610.5" y1="924.8" x2="672.3" y2="924.8" stroke="#9a9a9a" stroke-width="0.8"/>
<circle cx="618.3" cy="935.1" r="0.85" fill="#111"/><circle cx="632.0" cy="935.1" r="0.85" fill="#111"/><circle cx="644.4" cy="935.1" r="0.85" fill="#111"/><circle cx="656.8" cy="935.1" r="0.85" fill="#111"/>
<line x1="610.5" y1="931.7" x2="672.3" y2="931.7" stroke="#9a9a9a" stroke-width="0.8"/>
<circle cx="625.9" cy="941.9" r="0.85" fill="#111"/><circle cx="638.3" cy="941.9" r="0.85" fill="#111"/><circle cx="650.7" cy="941.9" r="0.85" fill="#111"/><circle cx="664.6" cy="941.9" r="0.85" fill="#111"/>
<line x1="610.5" y1="938.5" x2="672.3" y2="938.5" stroke="#9a9a9a" stroke-width="0.8"/>
<circle cx="618.3" cy="948.8" r="0.85" fill="#111"/><circle cx="632.0" cy="948.8" r="0.85" fill="#111"/><circle cx="644.4" cy="948.8" r="0.85" fill="#111"/><circle cx="656.8" cy="948.8" r="0.85" fill="#111"/>
<line x1="610.5" y1="945.4" x2="672.3" y2="945.4" stroke="#9a9a9a" stroke-width="0.8"/>
<circle cx="625.9" cy="955.7" r="0.85" fill="#111"/><circle cx="638.3" cy="955.7" r="0.85" fill="#111"/><circle cx="650.7" cy="955.7" r="0.85" fill="#111"/><circle cx="664.6" cy="955.7" r="0.85" fill="#111"/>
<line x1="610.5" y1="952.2" x2="672.3" y2="952.2" stroke="#9a9a9a" stroke-width="0.8"/>
<circle cx="618.3" cy="962.5" r="0.85" fill="#111"/><circle cx="632.0" cy="962.5" r="0.85" fill="#111"/><circle cx="644.4" cy="962.5" r="0.85" fill="#111"/><circle cx="656.8" cy="962.5" r="0.85" fill="#111"/>
<line x1="610.5" y1="959.1" x2="672.3" y2="959.1" stroke="#9a9a9a" stroke-width="0.8"/>
<circle cx="625.9" cy="969.4" r="0.85" fill="#111"/><circle cx="638.3" cy="969.4" r="0.85" fill="#111"/><circle cx="650.7" cy="969.4" r="0.85" fill="#111"/><circle cx="664.6" cy="969.4" r="0.85" fill="#111"/>
<line x1="610.5" y1="965.9" x2="672.3" y2="965.9" stroke="#9a9a9a" stroke-width="0.8"/>
<circle cx="618.3" cy="976.2" r="0.85" fill="#111"/><circle cx="632.0" cy="976.2" r="0.85" fill="#111"/><circle cx="644.4" cy="976.2" r="0.85" fill="#111"/><circle cx="656.8" cy="976.2" r="0.85" fill="#111"/>
<line x1="610.5" y1="972.8" x2="672.3" y2="972.8" stroke="#9a9a9a" stroke-width="0.8"/>
<circle cx="625.9" cy="983.1" r="0.85" fill="#111"/><circle cx="638.3" cy="983.1" r="0.85" fill="#111"/><circle cx="650.7" cy="983.1" r="0.85" fill="#111"/><circle cx="664.6" cy="983.1" r="0.85" fill="#111"/>
<line x1="610.5" y1="979.7" x2="672.3" y2="979.7" stroke="#9a9a9a" stroke-width="0.8"/>
<circle cx="618.3" cy="990.0" r="0.85" fill="#111"/><circle cx="632.0" cy="990.0" r="0.85" fill="#111"/><circle cx="644.4" cy="990.0" r="0.85" fill="#111"/><circle cx="656.8" cy="990.0" r="0.85" fill="#111"/>
<line x1="610.5" y1="986.5" x2="672.3" y2="986.5" stroke="#9a9a9a" stroke-width="0.8"/>
<circle cx="625.9" cy="996.8" r="0.85" fill="#111"/><circle cx="638.3" cy="996.8" r="0.85" fill="#111"/><circle cx="650.7" cy="996.8" r="0.85" fill="#111"/><circle cx="664.6" cy="996.8" r="0.85" fill="#111"/>
<line x1="610.5" y1="993.4" x2="672.3" y2="993.4" stroke="#9a9a9a" stroke-width="0.8"/>
<circle cx="618.3" cy="1003.7" r="0.85" fill="#111"/><circle cx="632.0" cy="1003.7" r="0.85" fill="#111"/><circle cx="644.4" cy="1003.7" r="0.85" fill="#111"/><circle cx="656.8" cy="1003.7" r="0.85" fill="#111"/>
<line x1="610.5" y1="1000.2" x2="672.3" y2="1000.2" stroke="#9a9a9a" stroke-width="0.8"/>
<rect x="610.5" y="1007.1" width="43.8" height="2.5" fill="#fff" stroke="#8a8a8a" stroke-width="0.8"/>
<line x1="593.5" y1="1007.1" x2="610.5" y2="1007.1" stroke="#8a8a8a" stroke-width="0.8"/>
<line x1="593.5" y1="1009.6" x2="610.5" y2="1009.6" stroke="#8a8a8a" stroke-width="0.8"/>
<rect x="610.5" y="1009.6" width="35.8" height="3.7" fill="#fff" stroke="#8a8a8a" stroke-width="0.8"/>
<line x1="593.5" y1="1009.6" x2="610.5" y2="1009.6" stroke="#8a8a8a" stroke-width="0.8"/>
<line x1="593.5" y1="1013.3" x2="610.5" y2="1013.3" stroke="#8a8a8a" stroke-width="0.8"/>
<rect x="2.5" y="2.5" width="680" height="1021" fill="none" stroke="#000" stroke-width="3"/>
<rect x="4.5" y="4.5" width="676" height="1017" fill="none" stroke="#bbb" stroke-width="1"/>
<rect x="5.5" y="5.5" width="674" height="1015" fill="none" stroke="#111" stroke-width="1"/>
<line x1="66" y1="5" x2="66" y2="1020.5" stroke="#333" stroke-width="2"/>
<line x1="127" y1="5" x2="127" y2="1020.5" stroke="#333" stroke-width="2"/>
<line x1="251.5" y1="5" x2="251.5" y2="1020.5" stroke="#111" stroke-width="1.3"/>
<line x1="376.5" y1="5" x2="376.5" y2="1020.5" stroke="#111" stroke-width="1.3"/>
<line x1="501" y1="5" x2="501" y2="1020.5" stroke="#333" stroke-width="2"/>
<line x1="593" y1="5" x2="593" y2="1020.5" stroke="#333" stroke-width="2"/>
<line x1="5" y1="99.5" x2="680" y2="99.5" stroke="#111" stroke-width="1.2"/>
<g clip-path="url(#c1)" fill="none" stroke-width="2" stroke-linejoin="round" stroke-linecap="round">
<path d="M176.2,99.5C176.2,99.8 176.2,100.1 176.2,100.4C176.2,100.9 177.6,101.4 178.5,101.9C180.2,102.9 185.0,103.8 185.0,104.8C185.0,105.5 182.6,106.3 179.7,107.0C178.0,107.4 171.8,107.9 169.2,108.3C165.7,108.9 161.7,109.5 161.0,110.1C159.5,111.3 158.7,112.4 158.7,113.6C158.7,114.4 159.9,115.2 161.0,116.0C162.1,116.8 165.2,117.5 166.9,118.3C169.5,119.5 172.1,120.6 173.9,121.8C174.8,122.4 176.2,122.9 176.2,123.5C176.2,124.3 175.2,125.1 173.9,125.9C173.0,126.5 168.0,127.0 165.7,127.6C163.2,128.2 159.3,128.8 159.3,129.4C159.3,129.8 164.2,130.1 165.7,130.5C170.4,131.7 175.6,132.8 175.6,134.0C175.6,135.0 172.1,136.0 172.1,137.0C172.1,138.0 173.9,138.9 173.9,139.9C173.9,140.9 172.1,141.8 172.1,142.8C172.1,143.8 172.3,144.7 172.7,145.7C172.9,146.3 174.3,146.9 175.0,147.5C175.9,148.3 177.4,149.0 177.4,149.8C177.4,150.4 176.2,151.0 175.0,151.6C173.4,152.4 166.9,153.1 163.4,153.9C159.9,154.7 154.0,155.4 154.0,156.2C154.0,157.2 154.5,158.1 155.2,159.1C155.9,160.1 160.4,161.1 162.2,162.1C164.6,163.5 166.4,164.8 168.0,166.2C169.1,167.2 171.0,168.1 171.0,169.1C171.0,169.9 168.4,170.6 166.9,171.4C165.4,172.2 161.9,172.9 161.6,173.7C161.2,174.5 161.0,175.4 161.0,176.2C161.0,177.0 162.4,177.7 163.4,178.5C164.6,179.5 166.9,180.4 168.0,181.4C169.5,182.8 171.5,184.1 171.5,185.5C171.5,186.3 165.4,187.0 163.4,187.8C160.3,189.0 157.6,190.2 156.4,191.4C154.9,192.9 153.4,194.5 153.4,196.0C153.4,197.4 153.6,198.7 153.8,200.1C154.0,201.3 154.9,202.4 155.8,203.6C156.4,204.4 158.7,205.2 158.7,206.0C158.7,207.2 156.9,208.3 156.9,209.5C156.9,210.7 159.5,211.8 160.4,213.0C161.1,214.0 162.2,214.9 162.2,215.9C162.2,217.1 159.9,218.2 159.9,219.4C159.9,220.9 160.9,222.5 161.6,224.0C162.1,225.0 162.5,226.0 163.4,227.0C164.2,228.0 167.6,228.9 168.0,229.9C168.4,230.9 168.3,231.8 168.6,232.8C168.8,233.4 169.2,234.0 169.2,234.6C169.2,236.5 161.6,238.5 161.6,240.4C161.6,241.6 164.8,242.7 166.9,243.9C168.3,244.7 172.1,245.4 172.1,246.2C172.1,247.4 169.4,248.5 168.0,249.7C166.5,251.0 163.4,252.2 163.4,253.5C163.4,254.0 163.4,254.6 163.4,255.1C163.4,256.7 169.2,258.2 169.2,259.8C169.2,261.0 165.4,262.1 163.4,263.3C161.1,264.7 156.4,266.0 156.4,267.4C156.4,268.4 158.2,269.3 159.9,270.3C161.9,271.5 171.0,272.6 171.0,273.8C171.0,275.3 165.1,276.9 165.1,278.4C165.1,279.4 165.1,280.4 165.1,281.4C165.1,283.3 169.2,285.3 169.2,287.2C169.2,288.4 166.0,289.5 163.4,290.7C162.1,291.3 158.1,291.9 158.1,292.5C158.1,293.5 161.6,294.4 162.2,295.4C163.1,297.0 163.2,298.5 163.9,300.1C164.6,301.6 165.5,303.2 166.3,304.7C166.9,305.9 168.0,307.0 168.0,308.2C168.0,309.0 165.1,309.8 163.4,310.6C161.8,311.4 158.1,312.1 158.1,312.9C158.1,313.9 160.8,314.8 162.2,315.8C164.1,317.2 167.4,318.5 168.0,319.9C168.3,320.7 168.4,321.4 168.6,322.2C168.9,323.2 169.8,324.2 169.8,325.2C169.8,326.6 165.5,328.1 165.1,329.5C164.8,330.6 164.7,331.7 164.5,332.8C164.3,334.2 163.9,335.5 163.9,336.9C163.9,337.9 165.0,338.8 165.7,339.8C166.7,341.2 168.4,342.5 169.8,343.9C171.0,345.1 173.3,346.2 173.3,347.4C173.3,348.4 172.6,349.4 172.1,350.4C171.5,351.6 169.8,352.7 169.8,353.9C169.8,354.9 171.0,355.8 171.0,356.8C171.0,358.2 169.8,359.5 169.8,360.9C169.8,362.1 170.0,363.2 170.4,364.4C170.7,365.4 173.5,366.3 175.0,367.3C176.2,368.1 177.1,368.8 178.5,369.6C179.6,370.2 182.2,370.8 182.6,371.4C183.4,372.6 183.3,373.7 183.8,374.9C184.6,376.8 185.3,378.8 186.7,380.7C187.4,381.7 188.9,382.6 190.2,383.6C191.0,384.2 193.1,384.8 193.1,385.4C193.1,386.2 190.6,386.9 190.2,387.7C189.6,389.1 189.1,390.4 189.1,391.8C189.1,393.2 190.4,394.5 191.4,395.9C192.0,396.7 193.7,397.4 193.7,398.2C193.7,399.2 192.4,400.2 191.4,401.2C190.3,402.3 188.8,403.4 186.7,404.5C185.1,405.4 182.4,406.2 179.7,407.1C176.7,408.1 172.7,409.0 169.2,410.0C165.7,411.0 158.7,411.9 158.7,412.9C158.7,413.5 158.9,414.1 159.3,414.7C159.4,414.9 162.3,415.1 163.4,415.3C166.6,415.9 170.7,416.4 171.0,417.0C171.8,418.6 171.5,420.1 172.1,421.7C172.7,423.3 176.8,424.8 176.8,426.4C176.8,427.0 175.8,427.5 175.0,428.1C173.9,428.9 169.2,429.6 169.2,430.4C169.2,431.2 169.2,432.0 169.2,432.8C169.2,433.6 178.5,434.3 178.5,435.1C178.5,436.3 175.4,437.4 173.9,438.6C173.1,439.2 172.7,439.8 171.5,440.4C170.0,441.2 164.1,441.9 161.0,442.7C157.9,443.5 152.8,444.2 152.8,445.0C152.8,446.0 154.4,447.0 155.8,448.0C157.2,449.0 161.6,449.9 162.8,450.9C164.0,451.9 163.7,452.8 165.1,453.8C165.9,454.4 169.9,455.0 172.7,455.6C174.1,455.9 177.4,456.2 177.4,456.5C177.4,457.0 170.4,457.4 170.4,457.9C170.4,458.9 173.9,459.8 173.9,460.8C173.9,462.0 164.9,463.1 163.4,464.3C162.2,465.3 162.3,466.2 161.0,467.2C160.0,468.0 154.7,468.8 154.0,469.6C153.3,470.4 152.8,471.1 152.8,471.9C152.8,473.1 155.0,474.2 156.4,475.4C157.8,476.6 160.3,477.7 161.6,478.9C162.5,479.7 163.9,480.5 163.9,481.3C163.9,482.3 160.6,483.3 159.3,484.3C157.7,485.5 155.2,486.6 155.2,487.8C155.2,488.4 156.5,488.9 157.5,489.5C158.6,490.1 162.2,490.7 162.2,491.3C162.2,492.7 159.3,494.0 159.3,495.4C159.3,496.6 161.9,497.7 162.8,498.9C163.8,500.2 165.1,501.6 165.1,502.9C165.1,504.3 162.8,505.6 162.8,507.0C162.8,508.0 163.4,509.0 163.9,510.0C164.4,511.0 166.3,511.9 166.3,512.9C166.3,513.9 160.2,514.8 157.5,515.8C154.8,516.8 150.1,517.7 149.9,518.7C149.5,520.5 149.3,522.2 149.3,524.0C149.3,524.8 151.4,525.5 152.8,526.3C153.9,526.9 156.9,527.5 156.9,528.1C156.9,529.6 152.3,531.2 152.3,532.7C152.3,534.3 154.9,535.8 155.2,537.4C155.5,539.1 155.6,540.9 155.8,542.6C156.1,545.1 156.9,547.7 156.9,550.2C156.9,553.4 155.2,556.5 155.2,559.7C155.2,562.0 155.2,564.4 155.2,566.7C155.2,569.0 152.8,571.4 152.8,573.7C152.8,574.9 153.3,576.0 154.0,577.2C154.3,577.8 155.3,578.3 156.4,578.9C158.0,579.7 162.0,580.5 164.5,581.3C167.5,582.3 168.9,583.2 172.7,584.2C174.6,584.7 177.0,585.1 180.9,585.6C184.3,586.0 193.7,586.4 198.4,586.8C206.6,587.5 218.2,588.2 218.2,588.9C218.2,589.7 206.9,590.4 198.4,591.2C193.9,591.6 184.5,592.0 180.9,592.4C175.9,593.0 171.9,593.5 170.4,594.1C168.8,594.7 167.4,595.3 167.4,595.9C167.4,596.5 169.2,597.0 169.2,597.6C169.2,599.0 166.3,600.3 166.3,601.7C166.3,603.3 167.4,604.8 168.6,606.4C169.5,607.6 173.9,608.7 173.9,609.9C173.9,611.1 166.9,612.2 166.9,613.4C166.9,614.6 167.3,615.7 168.0,616.9C168.5,617.9 171.4,618.8 173.9,619.8C175.4,620.4 178.8,621.0 179.7,621.6C180.9,622.4 181.5,623.1 182.0,623.9C182.9,625.3 183.8,626.6 183.8,628.0C183.8,628.6 181.9,629.1 180.9,629.7C179.8,630.3 177.4,631.0 177.4,631.6C177.4,632.2 179.8,632.7 180.3,633.3C181.2,634.5 182.0,635.6 182.0,636.8C182.0,638.8 181.7,640.7 181.5,642.7C181.2,645.0 180.3,647.4 180.3,649.7C180.3,650.7 183.3,651.6 183.8,652.6C184.7,654.4 185.5,656.1 185.5,657.9C185.5,659.4 183.8,661.0 183.2,662.5C182.7,663.7 182.0,664.8 182.0,666.0C182.0,667.2 183.6,668.3 184.4,669.5C185.1,670.5 186.7,671.5 186.7,672.5C186.7,673.7 185.8,674.8 184.4,676.0C183.7,676.6 179.6,677.1 178.5,677.7C177.0,678.5 175.6,679.2 175.6,680.0C175.6,680.8 178.9,681.6 179.7,682.4C180.8,683.6 182.0,684.7 182.0,685.9C182.0,687.5 177.0,689.0 175.0,690.6C173.5,691.8 171.3,692.9 170.9,694.1C170.6,694.9 170.4,695.6 170.4,696.4C170.4,697.6 174.5,698.7 174.5,699.9C174.5,701.5 171.6,703.0 170.4,704.6C169.5,705.8 169.0,706.9 168.0,708.1C167.3,708.9 165.1,709.7 165.1,710.5C165.1,711.9 169.8,713.2 169.8,714.6C169.8,715.6 165.4,716.5 163.4,717.5C161.4,718.5 157.5,719.4 157.5,720.4C157.5,721.4 161.2,722.4 163.4,723.4C164.6,724.0 167.4,724.5 167.4,725.1C167.4,725.7 163.9,726.3 163.9,726.9C163.9,728.1 166.5,729.2 166.9,730.4C167.5,731.9 167.3,733.5 168.0,735.0C168.4,736.0 172.7,736.9 172.7,737.9C172.7,738.9 172.7,739.9 172.7,740.9C172.7,741.9 168.6,742.8 168.6,743.8C168.6,744.8 171.0,745.7 171.0,746.7C171.0,748.1 165.1,749.4 165.1,750.8C165.1,752.6 165.1,754.3 165.1,756.1C165.1,757.6 166.5,759.2 167.4,760.7C167.9,761.5 168.1,762.3 169.2,763.1C170.0,763.7 177.4,764.2 177.4,764.8C177.4,765.4 176.9,766.0 176.2,766.6C175.5,767.2 169.1,767.7 166.9,768.3C163.2,769.3 160.5,770.2 158.7,771.2C156.9,772.2 154.6,773.2 154.6,774.2C154.6,776.1 157.5,778.1 157.5,780.0C157.5,781.3 154.5,782.7 154.0,784.0C153.7,784.8 153.4,785.7 153.4,786.5C153.4,787.9 153.9,789.2 154.5,790.6C155.0,791.8 158.6,792.9 158.6,794.1C158.6,795.5 156.9,796.8 156.9,798.2C156.9,799.6 156.9,800.9 156.9,802.3C156.9,803.3 160.9,804.2 160.9,805.2C160.9,806.2 159.2,807.1 159.2,808.1C159.2,809.5 163.9,810.8 163.9,812.2C163.9,813.8 162.6,815.3 162.1,816.9C161.6,818.4 161.5,820.0 160.9,821.5C160.4,822.7 158.0,823.8 158.0,825.0C158.0,826.6 161.5,828.1 161.5,829.7C161.5,830.7 159.0,831.6 156.9,832.6C154.7,833.6 146.4,834.6 146.4,835.6C146.4,836.8 146.8,837.9 147.5,839.1C148.1,840.1 154.5,841.0 154.5,842.0C154.5,842.6 151.0,843.1 149.9,843.7C147.7,844.9 145.6,846.0 145.2,847.2C144.9,848.2 144.6,849.2 144.6,850.2C144.6,851.4 145.9,852.5 148.7,853.7C149.6,854.1 156.9,854.4 159.2,854.8C163.0,855.4 165.4,856.0 167.4,856.6C169.9,857.4 171.0,858.1 173.2,858.9C175.2,859.6 177.2,860.3 180.2,861.0C184.1,861.9 197.2,862.8 197.2,863.7C197.2,864.3 190.6,864.8 186.1,865.4C181.3,866.0 171.8,866.6 167.4,867.2C161.7,868.0 154.5,868.7 154.5,869.5C154.5,870.3 156.6,871.0 156.9,871.8C157.5,873.4 157.3,874.9 158.0,876.5C158.5,877.7 162.1,878.8 165.0,880.0C167.5,881.0 170.8,882.0 174.4,883.0C176.4,883.6 179.5,884.1 181.4,884.7C183.3,885.3 186.1,885.8 186.1,886.4C186.1,887.0 181.5,887.6 179.0,888.2C176.5,888.8 172.9,889.4 170.9,890.0C168.4,890.8 165.0,891.5 165.0,892.3C165.0,893.7 165.6,895.0 165.6,896.4C165.6,897.6 164.8,898.9 163.9,900.1C163.4,900.8 161.1,901.5 160.9,902.2C160.6,903.4 160.4,904.5 160.4,905.7C160.4,906.5 161.5,907.3 161.5,908.1C161.5,909.4 157.1,910.8 156.3,912.1C155.7,913.1 155.1,914.0 155.1,915.0C155.1,916.2 155.8,917.4 156.3,918.6C156.8,919.8 157.5,920.9 158.6,922.1C159.7,923.3 164.4,924.4 164.4,925.6C164.4,927.0 158.8,928.3 157.4,929.7C156.4,930.7 155.1,931.6 155.1,932.6C155.1,933.8 157.1,934.9 157.4,936.1C157.7,937.7 158.0,939.2 158.0,940.8C158.0,942.0 156.3,943.1 156.3,944.3C156.3,945.1 160.3,945.9 162.7,946.7C165.0,947.5 170.9,948.2 170.9,949.0C170.9,950.0 167.7,950.9 166.2,951.9C164.1,953.3 160.4,954.6 160.4,956.0C160.4,957.2 163.9,958.3 163.9,959.5C163.9,960.9 160.9,962.2 159.2,963.6C158.0,964.6 155.1,965.5 155.1,966.5C155.1,968.3 159.8,970.0 159.8,971.8C159.8,973.2 152.8,974.5 152.8,975.9C152.8,976.9 156.6,977.8 158.0,978.8C159.4,979.8 161.5,980.7 161.5,981.7C161.5,982.9 158.3,984.0 158.0,985.2C157.6,986.8 157.4,988.3 157.4,989.9C157.4,991.1 158.6,992.2 158.6,993.4C158.6,994.6 155.1,995.7 155.1,996.9C155.1,998.1 156.9,999.2 158.0,1000.4C159.1,1001.6 160.2,1002.7 161.5,1003.9C162.6,1004.9 163.6,1005.8 165.0,1006.8C166.7,1008.0 171.0,1009.1 172.0,1010.3C173.3,1011.9 174.4,1013.4 174.4,1015.0C174.4,1015.8 171.4,1016.7 170.0,1017.5C168.6,1018.3 167.3,1019.2 166.0,1020.0" stroke="#10a84e"/>
<path d="M187.9,99.5C187.3,101.7 186.8,103.8 186.1,106.0C185.4,108.3 183.8,110.7 183.8,113.0C183.8,114.6 184.1,116.1 184.4,117.7C184.9,120.4 187.0,123.2 187.9,125.9C189.1,129.4 190.4,132.9 190.8,136.4C191.1,139.5 191.4,142.6 191.4,145.7C191.4,148.8 190.3,152.0 189.6,155.1C188.9,158.2 187.3,161.3 186.7,164.4C186.1,167.5 185.5,170.6 185.5,173.7C185.5,178.0 185.5,182.4 185.5,186.7C185.5,189.0 187.3,191.4 187.3,193.7C187.3,197.6 187.2,201.5 187.0,205.4C186.9,208.9 186.4,212.4 186.1,215.9C185.9,218.6 185.5,221.3 185.5,224.0C185.5,227.9 187.3,231.8 187.3,235.7C187.3,238.8 187.3,241.9 187.3,245.0C187.3,248.3 186.7,251.7 186.7,255.0C186.7,256.8 186.7,258.5 186.7,260.3C186.7,265.0 186.1,269.7 186.1,274.4C186.1,281.0 186.5,287.6 186.5,294.2C186.5,301.2 185.5,308.2 185.5,315.2C185.5,320.5 186.4,325.7 186.7,331.0C186.9,334.3 187.3,337.7 187.3,341.0C187.3,345.3 187.3,349.6 187.3,353.9C187.3,355.1 188.4,356.2 188.5,357.4C188.9,362.8 188.8,368.3 189.0,373.7C189.1,376.8 189.6,380.0 189.6,383.1C189.6,386.2 189.3,389.3 189.0,392.4C188.8,395.1 188.4,397.9 187.9,400.6C187.7,402.1 187.1,403.5 187.0,405.0C186.8,406.7 186.7,408.3 186.7,410.0C186.7,414.7 187.3,419.3 187.3,424.0C187.3,430.6 185.0,437.3 185.0,443.9C185.0,447.8 185.3,451.7 185.5,455.6C185.7,460.6 186.1,465.7 186.1,470.7C186.1,474.1 185.6,477.6 185.3,481.0C185.0,485.0 184.7,489.0 184.4,493.0C184.0,498.1 183.5,503.1 183.0,508.2C182.6,512.1 181.9,516.0 181.8,519.9C181.6,525.7 181.6,531.6 181.5,537.4C181.4,543.6 181.3,549.8 181.3,556.0C181.3,559.6 181.7,563.1 182.0,566.7C182.3,571.4 183.2,576.0 183.2,580.7C183.2,583.4 183.2,586.2 183.2,588.9C183.2,591.6 182.0,594.3 182.0,597.0C182.0,604.4 182.0,611.8 182.0,619.2C182.0,623.1 182.8,627.0 183.2,630.9C183.6,634.0 183.9,637.2 184.4,640.3C185.0,644.2 186.0,648.1 186.7,652.0C187.5,656.7 188.6,661.3 189.0,666.0C189.3,669.9 189.6,673.8 189.6,677.7C189.6,680.8 189.0,684.0 188.5,687.1C188.0,690.2 186.7,693.3 186.7,696.4C186.7,699.9 187.3,703.5 187.3,707.0C187.3,710.9 187.3,714.8 187.3,718.7C187.3,722.6 186.8,726.5 186.1,730.4C185.7,732.7 184.1,735.1 183.2,737.4C182.3,739.7 181.1,742.1 180.9,744.4C180.5,748.3 180.7,752.2 180.3,756.1C180.1,758.4 178.3,760.8 177.4,763.1C176.5,765.4 175.5,767.8 175.0,770.1C174.2,773.7 173.3,777.4 173.3,781.0C173.2,787.5 173.3,794.0 173.2,800.5C173.2,804.4 172.3,808.3 172.0,812.2C171.7,815.7 171.7,819.2 171.4,822.7C171.1,825.8 169.6,829.0 168.5,832.1C167.7,834.4 165.6,836.8 165.6,839.1C165.6,842.6 165.9,846.1 166.2,849.6C166.4,851.9 166.7,854.3 167.4,856.6C167.8,858.1 169.8,859.7 170.9,861.2C172.1,862.8 173.4,864.4 174.4,866.0C176.2,868.7 177.7,871.5 179.0,874.2C180.4,877.3 182.6,880.4 182.6,883.5C182.6,885.5 181.4,887.4 181.4,889.4C181.4,894.8 184.3,900.3 184.3,905.7C184.3,908.4 182.6,911.2 182.6,913.9C182.6,918.2 184.3,922.4 184.3,926.7C184.3,930.1 183.4,933.6 183.4,937.0C183.4,940.2 186.1,943.5 186.1,946.7C186.1,951.8 184.6,956.8 184.3,961.9C184.0,966.6 183.9,971.2 183.7,975.9C183.5,979.8 183.1,983.7 183.1,987.6C183.1,991.9 184.0,996.1 184.9,1000.4C185.3,1002.3 186.3,1004.3 187.2,1006.2C188.3,1008.5 190.9,1010.9 191.3,1013.2C191.7,1015.5 191.8,1017.7 192.0,1020.0" stroke="#f01010"/>
<path d="M179.9,99.5C179.9,125.0 179.9,150.5 179.9,176.0C179.9,197.3 180.0,218.7 180.0,240.0C180.0,245.0 179.7,250.0 179.7,255.0C179.6,268.0 179.6,281.0 179.5,294.0C179.4,302.7 178.5,311.3 178.5,320.0C178.5,322.3 178.5,324.7 178.5,327.0C178.5,328.2 178.0,329.3 178.0,330.5C178.0,332.1 179.0,333.6 179.1,335.2C179.5,340.3 179.7,345.3 179.7,350.4C179.7,354.3 179.3,358.1 179.1,362.0C178.9,367.9 178.8,373.7 178.5,379.6C178.4,382.3 178.0,385.0 178.0,387.7C178.0,391.6 178.2,395.5 178.5,399.4C178.7,401.9 179.7,404.5 179.7,407.0C179.7,409.6 179.1,412.1 179.1,414.7C179.1,418.6 180.5,422.5 180.9,426.4C181.2,428.7 181.5,431.1 181.5,433.4C181.5,434.6 179.7,435.7 179.7,436.9C179.7,441.2 180.3,445.4 180.3,449.7C180.3,454.4 179.7,459.0 179.7,463.7C179.7,466.8 180.1,470.0 180.3,473.1C180.5,475.4 180.9,477.8 180.9,480.1C180.9,482.5 179.1,484.8 179.1,487.2C179.1,489.1 180.9,491.1 180.9,493.0C180.9,496.5 179.1,500.0 179.1,503.5C179.1,506.6 179.1,509.8 179.1,512.9C179.1,514.4 180.9,516.0 180.9,517.5C180.9,520.2 179.7,523.0 179.7,525.7C179.7,533.5 179.7,541.3 179.7,549.1C179.7,551.0 181.5,553.0 181.5,554.9C181.5,556.5 179.8,558.1 179.7,559.7C179.3,565.9 179.1,572.2 179.1,578.4C179.1,581.5 179.3,584.6 179.7,587.7C179.8,588.9 180.9,590.0 180.9,591.2C180.9,593.1 179.7,595.1 179.7,597.0C179.7,599.0 180.3,600.9 180.3,602.9C180.3,607.2 180.0,611.4 179.7,615.7C179.6,618.0 179.1,620.4 179.1,622.7C179.1,625.0 180.3,627.4 180.3,629.7C180.3,630.3 179.7,630.9 179.7,631.5C179.7,632.5 181.5,633.5 181.5,634.5C181.5,636.4 179.7,638.4 179.7,640.3C179.7,641.9 179.7,643.4 179.7,645.0C179.7,648.1 179.1,651.3 179.1,654.4C179.1,655.9 181.5,657.5 181.5,659.0C181.5,661.0 179.7,662.9 179.7,664.9C179.7,668.4 179.9,671.9 180.3,675.4C180.5,677.3 180.9,679.3 182.0,681.2C182.5,682.2 187.3,683.1 187.3,684.1C187.3,685.1 183.2,686.1 183.2,687.1C183.2,688.4 188.5,689.8 188.5,691.1C188.5,692.1 184.7,693.1 184.4,694.1C183.6,696.4 183.9,698.8 183.2,701.1C182.8,702.6 180.6,704.2 180.3,705.7C180.0,707.5 179.7,709.2 179.7,711.0C179.7,713.6 180.3,716.1 180.3,718.7C180.3,721.8 179.1,724.9 179.1,728.0C179.1,730.3 180.3,732.7 180.3,735.0C180.3,739.3 179.7,743.6 179.7,747.9C179.6,760.9 179.6,774.0 179.6,787.0C179.6,811.0 179.6,835.0 179.6,859.0C179.6,866.0 179.7,873.0 180.2,880.0C180.3,881.2 182.0,882.3 182.0,883.5C182.0,885.5 179.6,887.4 179.6,889.4C179.6,892.9 180.8,896.4 180.8,899.9C180.8,905.7 180.2,911.6 180.2,917.4C180.2,921.3 180.2,925.2 180.2,929.1C180.2,932.4 179.6,935.7 179.6,939.0C179.6,941.6 180.2,944.1 180.2,946.7C180.2,954.5 179.6,962.2 179.6,970.0C179.6,979.0 179.8,987.9 180.2,996.9C180.3,998.1 180.8,999.2 180.8,1000.4C180.8,1002.7 179.6,1005.1 179.6,1007.4C179.6,1009.9 179.9,1012.5 180.2,1015.0C180.4,1016.7 180.7,1018.3 181.0,1020.0" stroke="#2233ee"/>
</g>
<g clip-path="url(#c2)">
<g clip-path="url(#rightOfDen)"><rect x="251" y="99" width="125" height="921" fill="#f2f200" clip-path="url(#leftOfCnl)"/></g>
<g fill="none" stroke-width="2" stroke-linejoin="round" stroke-linecap="round">
<path d="M303.8,99.5C303.8,99.7 303.8,100.0 303.8,100.2C303.8,101.4 304.4,102.5 304.4,103.7C304.4,105.1 304.4,106.4 304.4,107.8C304.4,108.8 303.2,109.7 303.2,110.7C303.2,111.5 303.8,112.2 304.4,113.0C304.9,113.6 307.9,114.2 307.9,114.8C307.9,115.8 307.7,116.7 307.3,117.7C307.0,118.5 302.8,119.2 300.9,120.0C298.9,120.8 296.1,121.6 295.6,122.4C294.9,123.6 294.5,124.7 294.5,125.9C294.5,127.4 294.7,129.0 295.0,130.5C295.2,131.5 296.2,132.5 296.2,133.5C296.2,134.8 295.6,136.2 295.6,137.5C295.6,138.9 295.6,140.2 295.6,141.6C295.6,142.6 293.9,143.5 293.9,144.5C293.9,145.7 294.5,146.9 294.5,148.1C294.5,150.0 291.5,152.0 291.5,153.9C291.5,154.7 291.5,155.4 291.5,156.2C291.5,157.4 293.5,158.5 295.0,159.7C296.2,160.7 299.7,161.6 299.7,162.6C299.7,164.0 299.7,165.3 299.7,166.7C299.7,167.5 299.1,168.3 299.1,169.1C299.1,169.9 301.1,170.6 302.0,171.4C303.4,172.6 304.5,173.7 306.1,174.9C306.8,175.4 308.5,176.0 308.5,176.5C308.5,177.6 307.2,178.6 306.7,179.7C306.0,181.1 305.5,182.4 305.0,183.8C304.6,185.0 303.8,186.1 303.8,187.3C303.8,188.7 306.1,190.0 306.1,191.4C306.1,192.6 304.7,193.7 303.2,194.9C301.9,195.9 297.6,196.8 295.0,197.8C293.0,198.6 289.2,199.3 289.2,200.1C289.2,200.9 289.8,201.6 290.4,202.4C291.3,203.6 295.7,204.7 297.4,205.9C299.1,207.1 300.6,208.3 301.5,209.5C302.2,210.5 303.2,211.4 303.2,212.4C303.2,213.8 298.8,215.1 298.5,216.5C298.2,217.8 298.0,219.2 298.0,220.5C298.0,221.3 300.3,222.1 302.0,222.9C303.7,223.7 308.1,224.4 309.0,225.2C310.0,226.0 310.8,226.8 310.8,227.6C310.8,228.6 308.6,229.5 306.7,230.5C305.6,231.1 303.3,231.6 302.0,232.2C300.2,233.0 297.4,233.8 297.4,234.6C297.4,235.4 297.4,236.1 297.4,236.9C297.4,237.9 300.9,238.8 300.9,239.8C300.9,240.8 299.6,241.7 298.5,242.7C297.6,243.5 294.9,244.3 294.5,245.1C293.8,246.6 293.3,248.2 293.3,249.7C293.3,250.8 293.9,251.9 294.2,253.0C294.5,253.9 295.0,254.8 295.0,255.7C295.0,258.0 293.7,260.4 293.3,262.7C293.0,264.3 292.7,265.8 292.7,267.4C292.7,268.9 294.5,270.5 294.5,272.0C294.5,273.6 293.3,275.1 293.3,276.7C293.3,278.3 294.5,279.8 294.5,281.4C294.5,283.7 293.3,286.1 293.3,288.4C293.3,290.7 293.3,293.1 293.3,295.4C293.3,297.7 294.3,300.1 294.5,302.4C294.7,304.7 295.0,307.1 295.0,309.4C295.0,310.6 290.5,311.7 289.8,312.9C289.2,313.9 288.6,314.8 288.6,315.8C288.6,316.8 291.5,317.7 291.5,318.7C291.5,320.3 291.2,321.8 290.9,323.4C290.6,324.8 289.5,326.1 289.2,327.5C288.9,328.9 288.5,330.3 288.5,331.7C288.5,333.2 290.5,334.8 290.9,336.3C291.5,338.3 291.5,340.2 292.0,342.2C292.5,344.1 294.4,346.1 295.0,348.0C295.5,349.6 295.7,351.1 296.1,352.7C296.4,353.9 297.3,355.0 297.3,356.2C297.3,358.1 295.4,360.1 295.0,362.0C294.7,363.2 294.4,364.3 294.4,365.5C294.4,366.3 295.5,367.1 296.7,367.9C297.9,368.7 301.5,369.4 304.9,370.2C307.6,370.8 313.5,371.4 315.4,372.0C317.8,372.8 320.1,373.5 320.1,374.3C320.1,375.7 317.2,377.0 317.2,378.4C317.2,380.0 319.5,381.5 319.5,383.1C319.5,385.4 316.6,387.8 316.6,390.1C316.6,391.6 319.0,393.2 320.1,394.7C321.1,396.1 323.0,397.4 323.0,398.8C323.0,400.0 322.0,401.1 321.2,402.3C320.4,403.5 318.2,404.8 318.0,406.0C317.8,407.0 317.7,408.0 317.7,409.0C317.7,410.1 317.7,411.2 317.7,412.3C317.7,413.7 314.3,415.0 311.9,416.4C309.8,417.6 304.3,418.7 303.7,419.9C303.1,421.1 302.6,422.2 302.6,423.4C302.6,424.6 303.1,425.7 303.1,426.9C303.1,428.3 300.2,429.6 300.2,431.0C300.2,432.2 302.3,433.3 303.7,434.5C305.1,435.7 308.1,436.8 309.0,438.0C309.9,439.2 310.7,440.3 310.7,441.5C310.7,443.1 307.2,444.6 307.2,446.2C307.2,447.4 307.2,448.5 307.2,449.7C307.2,451.1 311.0,452.4 311.9,453.8C313.0,455.6 314.2,457.3 314.2,459.1C314.2,460.3 314.0,461.4 313.7,462.6C313.4,463.8 309.4,464.9 307.2,466.1C305.0,467.3 300.2,468.4 300.2,469.6C300.2,470.8 300.8,471.9 301.4,473.1C302.0,474.3 305.1,475.4 306.6,476.6C307.9,477.6 309.5,478.5 310.0,479.5C310.4,480.3 310.8,481.1 310.8,481.9C310.8,482.7 309.3,483.5 307.9,484.3C306.9,484.9 304.5,485.4 303.2,486.0C301.4,486.8 298.5,487.5 298.5,488.3C298.5,489.1 299.0,489.9 299.7,490.7C300.2,491.3 302.9,491.8 304.4,492.4C306.0,493.0 308.3,493.6 309.0,494.2C310.3,495.4 311.4,496.5 311.4,497.7C311.4,499.6 311.4,501.6 311.4,503.5C311.4,505.1 311.1,506.6 310.8,508.2C310.5,509.6 309.9,510.9 309.0,512.3C308.2,513.5 306.3,514.6 304.4,515.8C302.8,516.8 300.3,517.7 298.5,518.7C296.4,519.9 292.7,521.0 292.7,522.2C292.7,523.0 292.7,523.7 292.7,524.5C292.7,525.7 296.8,526.9 296.8,528.1C296.8,530.0 295.6,532.0 295.6,533.9C295.6,535.3 297.3,536.6 298.5,538.0C299.7,539.4 303.2,540.7 303.8,542.1C304.5,543.6 305.0,545.2 305.0,546.7C305.0,549.5 305.0,552.2 305.0,555.0C305.0,557.3 305.0,559.7 305.0,562.0C305.0,563.2 302.6,564.3 300.9,565.5C299.2,566.7 295.6,567.8 293.9,569.0C292.2,570.2 289.8,571.3 289.8,572.5C289.8,574.1 290.2,575.6 290.9,577.2C291.3,578.2 293.7,579.1 295.0,580.1C296.6,581.3 299.3,582.4 299.7,583.6C300.0,584.6 300.3,585.5 300.3,586.5C300.3,588.1 296.8,589.6 296.8,591.2C296.8,593.1 298.5,595.1 298.5,597.0C298.5,599.4 297.4,601.7 297.4,604.1C297.4,605.6 298.9,607.2 299.7,608.7C300.3,609.9 301.5,611.0 301.5,612.2C301.5,614.2 300.3,616.1 300.3,618.1C300.3,619.6 303.0,621.2 304.4,622.7C305.9,624.3 309.0,625.8 309.0,627.4C309.0,628.8 308.1,630.2 307.3,631.6C306.8,632.6 304.9,633.5 304.9,634.5C304.9,636.1 305.1,637.6 305.5,639.2C305.8,640.6 308.8,641.9 309.6,643.3C310.4,644.7 311.1,646.0 311.3,647.4C311.7,650.1 311.6,652.8 311.9,655.5C312.1,657.8 312.8,660.2 313.1,662.5C313.3,664.5 313.6,666.4 313.6,668.4C313.6,670.3 311.9,672.3 311.9,674.2C311.9,675.8 311.9,677.3 311.9,678.9C311.9,679.9 318.0,680.8 320.1,681.8C322.2,682.8 325.3,683.7 325.3,684.7C325.3,685.7 321.4,686.6 318.9,687.6C316.3,688.6 311.5,689.6 309.6,690.6C307.4,691.8 304.9,692.9 304.9,694.1C304.9,695.5 305.6,696.8 306.1,698.2C306.5,699.2 307.8,700.1 307.8,701.1C307.8,702.5 304.9,703.8 303.7,705.2C302.7,706.3 301.5,707.4 301.0,708.5C300.7,709.2 300.3,709.8 300.3,710.5C300.3,711.9 301.0,713.2 301.5,714.6C302.0,716.0 302.8,717.3 303.2,718.7C303.5,719.7 303.8,720.6 303.8,721.6C303.8,722.4 299.6,723.1 299.1,723.9C298.5,724.9 298.0,725.9 298.0,726.9C298.0,727.9 299.5,728.8 300.9,729.8C302.0,730.6 304.1,731.3 306.7,732.1C308.8,732.7 313.8,733.3 316.1,733.9C319.1,734.7 323.1,735.4 323.1,736.2C323.1,737.2 319.4,738.1 316.1,739.1C314.1,739.7 308.8,740.3 306.7,740.9C304.1,741.7 300.9,742.4 300.9,743.2C300.9,743.8 300.9,744.4 300.9,745.0C300.9,745.8 304.0,746.5 305.5,747.3C307.3,748.3 310.8,749.2 310.8,750.2C310.8,751.4 308.7,752.5 307.9,753.7C306.8,755.3 305.6,756.8 305.0,758.4C304.4,760.0 303.8,761.5 303.8,763.1C303.8,764.6 305.5,766.2 305.5,767.7C305.5,769.1 303.2,770.4 303.2,771.8C303.2,773.6 303.8,775.3 303.8,777.1C303.8,778.6 301.5,780.2 301.5,781.7C301.5,782.8 303.8,783.9 305.0,785.0C305.6,785.5 306.7,786.0 306.7,786.5C306.7,787.9 303.7,789.2 302.0,790.6C300.3,792.0 298.4,793.3 296.2,794.7C294.6,795.7 291.2,796.6 290.9,797.6C290.6,798.6 290.4,799.5 290.4,800.5C290.4,801.9 295.0,803.2 295.0,804.6C295.0,805.8 294.8,806.9 294.5,808.1C294.2,809.5 290.4,810.8 290.4,812.2C290.4,813.6 290.6,814.9 290.9,816.3C291.2,817.7 295.7,819.0 297.4,820.4C298.8,821.6 300.9,822.7 300.9,823.9C300.9,824.9 300.4,825.8 299.7,826.8C299.0,827.8 295.6,828.7 293.9,829.7C291.9,830.9 288.6,832.0 288.6,833.2C288.6,834.4 288.8,835.5 289.2,836.7C289.5,837.7 294.2,838.6 297.4,839.6C299.4,840.2 304.4,840.8 304.4,841.4C304.4,842.0 304.4,842.5 304.4,843.1C304.4,843.7 299.0,844.3 297.4,844.9C294.8,845.9 292.4,846.8 291.5,847.8C290.3,849.2 289.6,850.5 289.2,851.9C288.9,853.1 288.6,854.2 288.6,855.4C288.6,856.6 290.1,857.8 291.0,859.0C292.2,860.6 293.5,862.1 295.0,863.7C296.3,865.1 297.8,866.4 299.7,867.8C301.0,868.8 303.9,869.7 304.4,870.7C305.0,871.9 305.5,873.0 305.5,874.2C305.5,875.6 302.6,876.9 302.6,878.3C302.6,879.1 302.8,879.8 303.2,880.6C303.6,881.4 307.9,882.1 309.0,882.9C310.1,883.7 311.4,884.5 311.4,885.3C311.4,886.1 307.4,886.8 306.7,887.6C305.8,888.6 305.0,889.5 305.0,890.5C305.0,891.5 309.0,892.5 309.0,893.5C309.0,894.5 309.0,895.4 309.0,896.4C309.0,897.2 307.6,897.9 306.7,898.7C305.8,899.5 304.3,900.2 303.2,901.0C301.2,902.4 297.4,903.7 297.4,905.1C297.4,906.3 298.0,907.4 298.5,908.6C299.0,909.6 300.9,910.6 300.9,911.6C300.9,912.8 296.2,913.9 296.2,915.1C296.2,915.9 296.2,916.6 296.2,917.4C296.2,918.4 300.6,919.3 302.0,920.3C304.0,921.7 306.7,923.0 306.7,924.4C306.7,926.0 306.2,927.5 305.5,929.1C305.0,930.3 302.5,931.4 302.0,932.6C301.6,933.6 301.2,934.5 301.2,935.5C301.2,936.9 302.0,938.3 302.0,939.7C302.0,941.1 302.0,942.4 302.0,943.8C302.0,944.8 303.7,945.7 305.0,946.7C306.0,947.5 307.8,948.2 309.0,949.0C310.8,950.2 313.7,951.3 313.7,952.5C313.7,953.7 313.3,954.8 312.6,956.0C312.1,956.8 309.4,957.6 307.9,958.4C306.5,959.2 303.8,959.9 303.8,960.7C303.8,962.3 303.8,963.8 303.8,965.4C303.8,966.9 302.2,968.5 300.9,970.0C299.9,971.2 296.2,972.3 296.2,973.5C296.2,974.7 296.2,975.8 296.2,977.0C296.2,977.6 299.5,978.2 300.9,978.8C302.2,979.4 303.4,979.9 304.4,980.5C306.2,981.5 308.7,982.5 309.0,983.5C309.4,984.7 309.6,985.8 309.6,987.0C309.6,988.0 308.0,988.9 306.7,989.9C305.7,990.7 303.8,991.4 302.0,992.2C300.1,993.0 295.9,993.8 295.0,994.6C294.1,995.4 293.3,996.1 293.3,996.9C293.3,997.9 294.9,998.8 296.2,999.8C297.3,1000.6 301.2,1001.4 301.5,1002.2C301.8,1003.2 302.0,1004.1 302.0,1005.1C302.0,1006.1 298.5,1007.0 297.4,1008.0C296.3,1009.0 295.0,1009.9 295.0,1010.9C295.0,1012.3 295.8,1013.6 296.2,1015.0C296.7,1016.7 297.4,1018.3 298.0,1020.0" stroke="#f01010"/>
<path d="M284.5,99.5C284.5,99.7 284.5,100.0 284.5,100.2C284.5,101.0 281.7,101.7 280.4,102.5C279.4,103.1 277.5,103.7 277.5,104.3C277.5,105.1 280.2,105.8 283.4,106.6C285.8,107.2 296.1,107.7 300.9,108.3C306.0,108.9 312.7,109.5 313.7,110.1C314.4,110.5 314.9,110.9 314.9,111.3C314.9,111.9 311.4,112.4 310.2,113.0C308.2,114.0 307.0,114.9 305.5,115.9C303.4,117.3 301.2,118.6 299.7,120.0C298.8,120.8 297.4,121.6 297.4,122.4C297.4,123.4 298.5,124.3 299.7,125.3C300.9,126.3 303.3,127.2 306.7,128.2C308.1,128.6 313.1,129.0 313.1,129.4C313.1,130.0 308.7,130.5 306.7,131.1C303.8,131.9 299.6,132.7 298.5,133.5C297.2,134.5 297.0,135.4 296.2,136.4C295.4,137.4 293.9,138.3 293.9,139.3C293.9,140.1 294.5,140.8 295.0,141.6C295.5,142.4 297.2,143.2 297.4,144.0C297.8,145.4 298.0,146.7 298.0,148.1C298.0,148.9 297.4,149.6 297.4,150.4C297.4,151.2 299.4,151.9 302.0,152.7C304.0,153.3 314.7,153.9 318.4,154.5C323.1,155.3 328.9,156.0 328.9,156.8C328.9,157.4 327.0,158.0 325.4,158.6C323.4,159.4 318.9,160.1 316.1,160.9C312.6,161.9 307.9,162.8 306.7,163.8C305.5,164.8 304.8,165.7 304.4,166.7C304.1,167.5 303.8,168.3 303.8,169.1C303.8,170.1 306.0,171.0 307.3,172.0C308.6,173.0 310.4,173.9 311.4,174.9C312.4,175.9 313.7,176.9 313.7,177.9C313.7,179.3 311.6,180.6 310.2,182.0C309.0,183.2 306.3,184.3 305.5,185.5C305.0,186.3 304.4,187.0 304.4,187.8C304.4,188.8 307.4,189.8 309.0,190.8C311.2,192.2 314.2,193.5 316.1,194.9C317.9,196.2 320.7,197.6 320.7,198.9C320.7,200.1 319.9,201.2 319.0,202.4C318.2,203.4 315.0,204.4 313.7,205.4C312.2,206.6 311.7,207.7 310.2,208.9C308.9,209.9 305.0,210.8 305.0,211.8C305.0,212.6 305.0,213.3 305.0,214.1C305.0,215.1 311.2,216.0 312.6,217.0C314.6,218.4 316.6,219.7 316.6,221.1C316.6,221.9 313.2,222.7 310.2,223.5C308.8,223.9 305.4,224.2 304.4,224.6C301.8,225.6 299.7,226.6 299.7,227.6C299.7,228.8 299.7,229.9 299.7,231.1C299.7,232.1 302.6,233.0 303.2,234.0C303.8,235.0 304.4,235.9 304.4,236.9C304.4,238.7 303.2,240.4 303.2,242.2C303.2,243.2 303.8,244.1 303.8,245.1C303.8,246.1 302.6,247.0 302.6,248.0C302.6,249.2 304.2,250.4 305.0,251.6C305.9,253.0 307.9,254.3 307.9,255.7C307.9,257.2 305.6,258.8 304.4,260.3C303.8,261.1 302.6,261.9 302.6,262.7C302.6,263.7 307.3,264.6 310.2,265.6C313.1,266.6 320.7,267.5 320.7,268.5C320.7,269.5 315.4,270.4 312.6,271.4C309.7,272.4 304.1,273.4 303.8,274.4C303.4,275.9 303.2,277.5 303.2,279.0C303.2,280.6 304.3,282.1 305.0,283.7C305.5,284.9 305.8,286.0 306.7,287.2C307.6,288.4 310.8,289.5 312.6,290.7C314.4,291.9 317.8,293.0 317.8,294.2C317.8,295.4 314.7,296.5 312.6,297.7C310.5,298.9 305.6,300.0 305.0,301.2C304.3,302.8 304.1,304.3 303.8,305.9C303.5,307.3 303.2,308.6 303.2,310.0C303.2,310.6 307.7,311.1 309.0,311.7C310.9,312.5 313.1,313.3 313.1,314.1C313.1,315.1 308.4,316.0 306.7,317.0C305.0,318.0 303.0,318.9 302.6,319.9C301.9,321.5 301.5,323.0 301.5,324.6C301.5,325.8 302.2,326.9 302.6,328.1C303.1,329.7 303.6,331.2 304.3,332.8C305.0,334.4 307.2,335.9 307.2,337.5C307.2,338.7 304.5,339.8 304.3,341.0C303.9,343.3 304.0,345.7 303.7,348.0C303.4,350.3 302.5,352.7 302.0,355.0C301.6,357.0 301.3,358.9 300.8,360.9C300.4,362.3 300.0,363.6 299.1,365.0C298.4,366.0 297.1,366.9 294.4,367.9C292.8,368.5 286.0,369.0 282.7,369.6C278.1,370.4 274.2,371.2 271.0,372.0C268.7,372.6 265.2,373.1 265.2,373.7C265.2,374.7 268.1,375.6 269.9,376.6C271.0,377.2 273.9,377.8 273.9,378.4C273.9,379.8 267.8,381.1 266.4,382.5C265.0,383.9 263.4,385.2 263.4,386.6C263.4,387.4 263.4,388.1 263.4,388.9C263.4,389.9 258.3,390.8 257.6,391.8C256.9,392.8 257.0,393.7 256.4,394.7C255.8,395.7 252.3,396.7 252.3,397.7C252.3,398.5 252.9,399.2 253.5,400.0C254.3,401.0 257.5,401.9 259.3,402.9C260.9,403.8 262.3,404.6 264.0,405.5C265.4,406.2 266.1,407.0 268.7,407.7C270.7,408.3 280.1,408.8 283.9,409.4C289.3,410.2 295.3,411.0 296.7,411.8C298.0,412.6 299.1,413.3 299.1,414.1C299.1,415.3 291.5,416.4 288.5,417.6C284.9,419.0 282.2,420.3 279.2,421.7C276.6,422.9 271.6,424.0 271.6,425.2C271.6,426.0 276.0,426.7 279.2,427.5C282.6,428.3 290.0,429.1 293.2,429.9C296.3,430.7 300.2,431.4 300.2,432.2C300.2,433.6 297.9,434.9 297.9,436.3C297.9,437.7 300.2,439.0 302.6,440.4C304.6,441.6 311.0,442.7 314.2,443.9C317.4,445.1 322.4,446.2 322.4,447.4C322.4,448.4 318.7,449.3 316.6,450.3C314.5,451.3 311.6,452.2 309.6,453.2C306.8,454.6 302.6,455.9 302.6,457.3C302.6,459.1 304.5,460.8 306.1,462.6C307.3,463.9 310.5,465.3 311.9,466.6C313.4,468.0 315.4,469.3 315.4,470.7C315.4,471.9 313.7,473.0 312.5,474.2C311.3,475.4 308.8,476.5 307.2,477.7C305.9,478.6 305.0,479.6 303.5,480.5C303.1,480.8 302.0,481.0 302.0,481.3C302.0,482.1 304.0,482.9 305.5,483.7C306.9,484.5 309.5,485.2 311.4,486.0C313.3,486.8 317.2,487.5 317.2,488.3C317.2,489.1 314.7,489.9 312.6,490.7C311.1,491.3 307.3,491.8 305.5,492.4C303.0,493.2 300.2,494.0 299.7,494.8C299.0,496.0 298.5,497.1 298.5,498.3C298.5,499.3 299.1,500.2 299.1,501.2C299.1,502.0 297.4,502.7 297.4,503.5C297.4,504.7 298.5,505.8 298.5,507.0C298.5,508.6 298.0,510.1 298.0,511.7C298.0,512.5 299.1,513.2 300.9,514.0C301.8,514.4 306.6,514.8 309.0,515.2C312.6,515.8 316.6,516.4 318.4,517.0C321.3,518.0 323.0,518.9 324.2,519.9C325.6,521.1 327.2,522.2 327.2,523.4C327.2,524.6 326.1,525.7 325.4,526.9C324.8,527.9 323.1,528.8 323.1,529.8C323.1,531.6 323.1,533.3 323.1,535.1C323.1,536.6 322.1,538.2 321.3,539.7C320.6,541.1 318.9,542.4 318.4,543.8C317.8,545.6 317.2,547.3 317.2,549.1C317.2,551.1 317.2,553.0 317.2,555.0C317.2,557.3 317.4,559.7 317.8,562.0C318.1,563.6 321.4,565.1 323.1,566.7C324.3,567.9 326.2,569.0 326.6,570.2C327.2,571.9 327.7,573.7 327.7,575.4C327.7,576.8 326.6,578.1 325.4,579.5C324.4,580.7 319.0,581.8 318.4,583.0C317.7,584.4 318.0,585.7 317.2,587.1C316.7,587.9 311.6,588.7 309.0,589.5C306.5,590.3 302.0,591.0 302.0,591.8C302.0,593.0 302.8,594.1 303.2,595.3C303.6,596.5 304.1,597.6 304.4,598.8C304.6,599.8 304.7,600.7 305.0,601.7C305.3,602.5 306.7,603.3 306.7,604.1C306.7,605.3 303.5,606.4 302.0,607.6C300.5,608.8 297.4,609.9 297.4,611.1C297.4,611.9 300.3,612.6 300.3,613.4C300.3,614.2 299.4,614.9 298.5,615.7C297.3,616.7 293.1,617.7 289.2,618.7C286.2,619.5 280.1,620.2 277.5,621.0C274.9,621.8 271.7,622.5 271.7,623.3C271.7,625.1 271.9,626.8 272.3,628.6C272.6,629.7 275.8,630.9 277.0,632.0C278.1,633.0 279.8,634.1 279.8,635.1C279.8,636.5 279.0,637.8 278.0,639.2C277.2,640.4 274.4,641.5 272.2,642.7C269.6,644.1 262.8,645.4 262.8,646.8C262.8,648.2 264.2,649.5 265.2,650.9C266.3,652.4 269.9,654.0 269.9,655.5C269.9,656.7 268.1,657.8 268.1,659.0C268.1,660.0 270.4,660.9 270.4,661.9C270.4,662.9 266.4,663.9 265.2,664.9C263.6,666.3 261.7,667.6 261.7,669.0C261.7,670.0 266.4,670.9 267.5,671.9C268.9,673.1 268.7,674.2 270.4,675.4C271.5,676.2 276.7,676.9 279.2,677.7C281.9,678.5 286.2,679.3 286.2,680.1C286.2,680.9 282.6,681.6 279.2,682.4C275.3,683.3 257.0,684.1 257.0,685.0C257.0,685.7 263.9,686.4 267.5,687.1C272.4,688.1 281.0,689.0 282.7,690.0C285.5,691.5 287.4,693.1 287.4,694.6C287.4,696.0 287.4,697.3 287.4,698.7C287.4,699.7 284.5,700.7 284.5,701.7C284.5,702.9 286.6,704.0 288.5,705.2C290.1,706.2 293.3,707.1 296.7,708.1C300.9,709.3 313.7,710.5 313.7,711.7C313.7,712.5 310.4,713.2 309.0,714.0C306.8,715.2 303.2,716.3 303.2,717.5C303.2,718.3 308.4,719.0 310.2,719.8C312.1,720.6 314.9,721.4 314.9,722.2C314.9,723.0 312.3,723.7 311.4,724.5C310.0,725.7 309.0,726.8 307.9,728.0C307.0,729.0 306.0,729.9 305.5,730.9C305.0,731.9 305.0,732.9 304.4,733.9C303.8,734.9 299.8,735.8 298.5,736.8C297.5,737.6 296.2,738.3 296.2,739.1C296.2,739.9 299.3,740.7 300.9,741.5C302.8,742.5 306.7,743.4 306.7,744.4C306.7,745.0 304.5,745.5 303.2,746.1C301.4,746.9 298.5,747.7 297.4,748.5C296.0,749.5 294.5,750.4 294.5,751.4C294.5,753.0 296.8,754.5 296.8,756.1C296.8,757.3 293.9,758.4 293.9,759.6C293.9,761.1 293.9,762.7 293.9,764.2C293.9,765.4 290.4,766.5 290.4,767.7C290.4,768.7 290.9,769.6 291.5,770.6C292.2,771.6 298.6,772.6 299.7,773.6C301.0,774.8 302.0,775.9 302.0,777.1C302.0,778.5 302.0,779.8 302.0,781.2C302.0,782.1 304.3,783.1 305.5,784.0C306.6,784.8 307.9,785.7 309.0,786.5C310.6,787.7 313.7,788.8 313.7,790.0C313.7,791.6 312.0,793.1 312.0,794.7C312.0,795.7 312.2,796.6 312.6,797.6C313.0,798.8 321.9,799.9 321.9,801.1C321.9,802.3 318.4,803.4 317.2,804.6C316.0,805.8 314.3,806.9 314.3,808.1C314.3,809.7 316.4,811.2 317.2,812.8C317.9,814.2 319.0,815.5 319.0,816.9C319.0,818.4 316.7,820.0 316.1,821.5C315.5,823.1 315.2,824.6 314.9,826.2C314.6,827.8 314.3,829.3 314.3,830.9C314.3,832.3 317.8,833.6 317.8,835.0C317.8,836.2 315.1,837.3 312.6,838.5C311.4,839.1 308.1,839.6 306.7,840.2C304.7,841.0 302.0,841.8 302.0,842.6C302.0,843.2 303.1,843.7 304.4,844.3C305.3,844.7 309.9,845.1 311.4,845.5C314.2,846.3 317.0,847.0 317.2,847.8C317.6,849.6 317.8,851.3 317.8,853.1C317.8,854.3 316.4,855.4 314.9,856.6C313.7,857.6 310.3,858.5 308.0,859.5C306.8,860.0 305.8,860.5 304.4,861.0C301.9,861.9 295.0,862.8 295.0,863.7C295.0,864.7 297.2,865.6 299.7,866.6C301.2,867.2 307.0,867.7 309.0,868.3C311.1,868.9 313.7,869.5 313.7,870.1C313.7,871.3 310.8,872.4 310.8,873.6C310.8,875.4 311.4,877.1 311.4,878.9C311.4,879.7 309.4,880.4 306.7,881.2C304.7,881.8 292.8,882.3 289.2,882.9C284.2,883.7 278.7,884.5 278.7,885.3C278.7,885.9 279.2,886.4 279.9,887.0C280.8,887.8 288.7,888.6 291.5,889.4C295.6,890.6 298.8,891.7 300.9,892.9C303.0,894.1 304.6,895.2 305.5,896.4C306.4,897.6 307.3,898.7 307.3,899.9C307.3,901.8 306.7,903.8 306.7,905.7C306.7,907.3 306.9,908.8 307.3,910.4C307.5,911.2 309.8,911.9 311.4,912.7C313.0,913.5 317.2,914.3 317.2,915.1C317.2,916.1 314.1,917.0 312.6,918.0C311.1,919.0 308.4,919.9 307.9,920.9C307.2,922.5 306.7,924.0 306.7,925.6C306.7,927.1 307.9,928.7 307.9,930.2C307.9,931.4 305.0,932.5 305.0,933.7C305.0,934.6 307.6,935.6 309.0,936.5C310.6,937.6 313.0,938.6 314.3,939.7C316.1,941.2 318.4,942.8 318.4,944.3C318.4,944.9 315.0,945.5 312.6,946.1C311.0,946.5 308.5,946.9 306.7,947.3C304.1,947.9 299.7,948.4 299.7,949.0C299.7,950.6 299.7,952.1 299.7,953.7C299.7,955.1 303.2,956.4 303.2,957.8C303.2,959.0 302.6,960.1 302.6,961.3C302.6,962.3 307.4,963.2 310.2,964.2C312.5,965.0 317.8,965.7 317.8,966.5C317.8,967.3 312.4,968.1 310.2,968.9C307.5,969.9 303.2,970.8 303.2,971.8C303.2,972.8 305.6,973.7 307.9,974.7C309.3,975.3 314.9,975.9 314.9,976.5C314.9,977.3 311.6,978.0 309.0,978.8C307.1,979.4 303.0,979.9 300.9,980.5C298.7,981.1 295.6,981.7 295.6,982.3C295.6,983.3 295.9,984.2 296.2,985.2C296.6,986.4 297.9,987.5 299.1,988.7C300.1,989.7 301.3,990.6 303.2,991.6C304.7,992.4 308.2,993.2 310.2,994.0C312.6,995.0 316.6,995.9 316.6,996.9C316.6,997.7 313.4,998.4 311.4,999.2C309.4,1000.0 304.9,1000.8 304.4,1001.6C303.6,1002.8 303.8,1003.9 303.2,1005.1C302.4,1006.6 300.2,1008.2 298.5,1009.7C296.7,1011.3 292.7,1012.8 292.7,1014.4C292.7,1015.4 295.5,1016.5 297.0,1017.5C298.2,1018.3 299.7,1019.2 301.0,1020.0" stroke="#10a84e"/>
</g></g>
<g clip-path="url(#c3)" fill="none" stroke-width="2" stroke-linejoin="round" stroke-linecap="round">
<path d="M413.0,99.0C413.0,99.5 413.0,99.9 413.0,100.4C413.0,102.3 497.0,104.1 497.0,106.0C497.0,107.3 450.0,108.7 450.0,110.0C450.0,110.7 450.8,111.3 452.0,112.0C453.5,112.8 510.0,113.6 510.0,114.4C510.0,114.9 510.0,115.5 510.0,116.0C510.0,117.7 414.0,119.3 412.0,121.0C410.8,122.0 410.0,123.0 410.0,124.0C410.0,125.0 415.2,126.0 420.0,127.0C423.2,127.7 434.3,128.3 436.0,129.0C437.7,129.7 439.0,130.3 439.0,131.0C439.0,132.3 429.9,133.7 424.0,135.0C419.6,136.0 409.5,137.0 408.0,138.0C405.5,139.7 405.6,141.3 404.0,143.0C402.1,145.0 397.0,147.0 397.0,149.0C397.0,150.3 397.9,151.7 400.0,153.0C401.1,153.7 411.8,154.3 430.0,155.0C439.1,155.3 510.0,155.7 510.0,156.0C510.0,157.7 510.0,159.3 510.0,161.0C510.0,161.7 455.9,162.3 442.0,163.0C428.1,163.7 413.2,164.3 412.0,165.0C410.8,165.7 410.0,166.3 410.0,167.0C410.0,167.7 424.6,168.3 426.0,169.0C427.8,169.9 427.4,170.7 429.0,171.6C431.1,172.7 439.2,173.9 450.0,175.0C459.5,176.0 510.0,177.0 510.0,178.0C510.0,178.3 495.3,178.7 490.0,179.0C463.5,180.7 445.7,182.3 430.0,184.0C420.6,185.0 406.9,186.0 406.0,187.0C405.4,187.7 405.0,188.3 405.0,189.0C405.0,189.5 418.0,189.9 419.0,190.4C420.9,191.3 420.3,192.1 422.0,193.0C424.0,194.0 437.3,195.0 450.0,196.0C462.7,197.0 510.0,198.0 510.0,199.0C510.0,200.0 510.0,201.0 510.0,202.0C510.0,203.0 461.7,204.0 450.0,205.0C426.7,207.0 404.0,209.0 404.0,211.0C404.0,212.0 404.8,213.0 406.0,214.0C407.5,215.3 419.1,216.7 430.0,218.0C440.9,219.3 481.0,220.7 481.0,222.0C481.0,222.7 460.2,223.3 450.0,224.0C439.8,224.7 423.9,225.3 420.0,226.0C410.3,227.7 405.4,229.3 404.0,231.0C402.9,232.3 402.0,233.7 402.0,235.0C402.0,237.3 412.0,239.7 412.0,242.0C412.0,243.3 406.9,244.7 405.0,246.0C403.1,247.3 400.0,248.7 400.0,250.0C400.0,251.0 407.0,252.0 407.0,253.0C407.0,254.3 400.1,255.7 399.0,257.0C397.9,258.3 397.0,259.7 397.0,261.0C397.0,261.5 404.5,261.9 410.0,262.4C416.3,262.9 427.1,263.5 436.0,264.0C447.1,264.7 457.7,265.3 470.0,266.0C482.3,266.7 510.0,267.3 510.0,268.0C510.0,269.3 510.0,270.7 510.0,272.0C510.0,272.3 465.5,272.7 450.0,273.0C428.3,273.5 398.0,273.9 398.0,274.4C398.0,275.3 398.4,276.1 399.0,277.0C399.6,277.9 426.0,278.7 426.0,279.6C426.0,280.7 410.4,281.9 405.0,283.0C401.8,283.7 397.0,284.3 397.0,285.0C397.0,286.0 405.2,287.0 410.0,288.0C414.8,289.0 418.9,290.0 426.0,291.0C430.7,291.7 442.0,292.3 446.0,293.0C454.0,294.3 462.0,295.7 462.0,297.0C462.0,297.7 438.2,298.3 430.0,299.0C421.8,299.7 410.9,300.3 410.0,301.0C407.8,302.7 407.0,304.3 407.0,306.0C407.0,306.7 407.4,307.3 408.0,308.0C408.9,309.0 422.3,310.0 430.0,311.0C435.1,311.7 446.0,312.3 446.0,313.0C446.0,314.0 436.4,315.0 430.0,316.0C423.6,317.0 408.2,318.0 406.0,319.0C402.3,320.7 400.0,322.3 400.0,324.0C400.0,326.7 400.0,329.3 400.0,332.0C400.0,334.3 409.0,336.7 409.0,339.0C409.0,342.0 399.0,345.0 399.0,348.0C399.0,350.7 403.2,353.3 405.0,356.0C406.1,357.7 408.0,359.3 408.0,361.0C408.0,363.3 399.0,365.7 399.0,368.0C399.0,369.0 407.9,370.0 410.0,371.0C411.4,371.7 411.0,372.3 413.0,373.0C414.4,373.5 425.4,373.9 440.0,374.4C450.4,374.7 510.0,375.1 510.0,375.4C510.0,376.3 510.0,377.1 510.0,378.0C510.0,378.7 439.0,379.3 439.0,380.0C439.0,380.7 439.0,381.3 439.0,382.0C439.0,382.3 510.0,382.7 510.0,383.0C510.0,384.7 510.0,386.3 510.0,388.0C510.0,389.0 420.2,390.0 410.0,391.0C399.8,392.0 392.0,393.0 392.0,394.0C392.0,394.7 392.4,395.3 393.0,396.0C393.8,396.8 422.0,397.6 426.0,398.4C428.0,398.8 427.7,399.2 430.0,399.6C433.8,400.3 510.0,400.9 510.0,401.6C510.0,402.3 510.0,402.9 510.0,403.6C510.0,404.1 423.7,404.5 420.0,405.0C414.7,405.7 412.0,406.3 412.0,407.0C412.0,407.7 413.6,408.3 416.0,409.0C418.4,409.7 427.8,410.3 450.0,411.0C456.7,411.2 510.0,411.4 510.0,411.6C510.0,414.1 510.0,416.5 510.0,419.0C510.0,419.3 459.2,419.7 450.0,420.0C440.8,420.3 432.0,420.7 432.0,421.0C432.0,421.3 432.0,421.7 432.0,422.0C432.0,423.0 439.0,424.0 439.0,425.0C439.0,425.7 433.5,426.3 430.0,427.0C424.7,428.0 414.4,429.0 410.0,430.0C405.6,431.0 400.0,432.0 400.0,433.0C400.0,434.7 401.3,436.3 403.0,438.0C404.3,439.3 408.4,440.7 414.0,442.0C419.6,443.3 430.4,444.7 450.0,446.0C459.8,446.7 510.0,447.3 510.0,448.0C510.0,449.5 510.0,451.1 510.0,452.6C510.0,453.1 438.2,453.5 430.0,454.0C412.4,455.0 402.0,456.0 402.0,457.0C402.0,458.0 402.0,459.0 402.0,460.0C402.0,460.7 412.9,461.3 420.0,462.0C430.6,463.0 442.2,464.0 460.0,465.0C471.8,465.7 510.0,466.3 510.0,467.0C510.0,467.5 510.0,467.9 510.0,468.4C510.0,468.9 442.2,469.5 430.0,470.0C414.7,470.7 401.0,471.3 401.0,472.0C401.0,473.3 408.0,474.7 408.0,476.0C408.0,478.0 407.7,480.0 407.0,482.0C406.8,482.7 404.0,483.3 404.0,484.0C404.0,486.0 421.0,488.0 421.0,490.0C421.0,491.3 408.5,492.7 406.0,494.0C403.5,495.3 401.5,496.7 401.0,498.0C400.4,499.7 400.6,501.3 400.0,503.0C399.4,504.7 395.0,506.3 395.0,508.0C395.0,509.7 395.3,511.3 396.0,513.0C396.5,514.3 401.8,515.7 410.0,517.0C416.2,518.0 447.5,519.0 470.0,520.0C482.0,520.5 510.0,521.1 510.0,521.6C510.0,522.1 510.0,522.5 510.0,523.0C510.0,523.7 463.4,524.3 450.0,525.0C429.8,526.0 406.7,527.0 406.0,528.0C405.3,529.0 405.0,530.0 405.0,531.0C405.0,532.0 414.0,533.0 420.0,534.0C427.2,535.2 447.0,536.4 447.0,537.6C447.0,538.4 423.7,539.2 420.0,540.0C413.8,541.3 410.8,542.7 409.0,544.0C406.3,546.0 405.3,548.0 404.0,550.0C402.3,552.7 400.0,555.3 400.0,558.0C400.0,559.7 400.7,561.3 402.0,563.0C402.8,564.0 409.4,565.0 416.0,566.0C422.6,567.0 433.0,568.0 450.0,569.0C461.3,569.7 510.0,570.3 510.0,571.0C510.0,572.7 510.0,574.3 510.0,576.0C510.0,577.0 461.7,578.0 450.0,579.0C434.4,580.3 423.2,581.7 418.0,583.0C414.1,584.0 410.0,585.0 410.0,586.0C410.0,588.7 410.0,591.3 410.0,594.0C410.0,596.0 410.8,598.0 412.0,600.0C412.8,601.3 422.0,602.7 422.0,604.0C422.0,605.3 409.0,606.7 409.0,608.0C409.0,609.3 412.1,610.7 416.0,612.0C419.5,613.2 446.0,614.4 446.0,615.6C446.0,616.4 434.6,617.2 430.0,618.0C424.3,619.0 415.6,620.0 415.0,621.0C414.4,622.0 414.0,623.0 414.0,624.0C414.0,625.0 419.8,626.0 426.0,627.0C428.1,627.3 433.7,627.7 436.0,628.0C442.8,629.0 450.0,630.0 450.0,631.0C450.0,632.0 442.0,633.0 442.0,634.0C442.0,635.0 442.0,636.0 442.0,637.0C442.0,637.7 436.0,638.3 436.0,639.0C436.0,640.0 446.0,641.0 446.0,642.0C446.0,643.0 428.0,644.0 428.0,645.0C428.0,645.3 432.9,645.7 436.0,646.0C440.9,646.5 452.1,647.1 454.0,647.6C455.7,648.1 457.0,648.5 457.0,649.0C457.0,650.0 455.0,651.0 453.0,652.0C451.7,652.7 448.7,653.3 446.0,654.0C440.6,655.3 426.0,656.7 426.0,658.0C426.0,659.0 436.9,660.0 450.0,661.0C458.8,661.7 510.0,662.3 510.0,663.0C510.0,665.0 510.0,667.0 510.0,669.0C510.0,669.7 441.8,670.3 440.0,671.0C437.3,672.0 436.0,673.0 436.0,674.0C436.0,674.7 444.0,675.3 444.0,676.0C444.0,677.3 427.5,678.7 422.0,680.0C417.9,681.0 412.0,682.0 412.0,683.0C412.0,683.9 413.7,684.7 416.0,685.6C419.1,686.7 449.7,687.9 470.0,689.0C481.9,689.7 510.0,690.3 510.0,691.0C510.0,691.5 510.0,692.1 510.0,692.6C510.0,693.1 452.6,693.5 450.0,694.0C444.4,695.0 445.0,696.0 442.0,697.0C439.4,697.9 433.0,698.7 433.0,699.6C433.0,700.1 441.5,700.5 450.0,701.0C459.7,701.5 510.0,702.1 510.0,702.6C510.0,706.1 510.0,709.5 510.0,713.0C510.0,713.2 457.9,713.4 450.0,713.6C431.5,714.1 419.0,714.5 419.0,715.0C419.0,716.0 424.5,717.0 430.0,718.0C435.5,719.0 462.0,720.0 462.0,721.0C462.0,722.3 450.0,723.7 450.0,725.0C450.0,725.3 450.0,725.7 450.0,726.0C450.0,727.0 469.0,728.0 469.0,729.0C469.0,730.3 440.9,731.7 430.0,733.0C419.1,734.3 402.0,735.7 402.0,737.0C402.0,738.3 405.9,739.7 410.0,741.0C414.1,742.3 437.0,743.7 437.0,745.0C437.0,746.7 425.2,748.3 420.0,750.0C412.7,752.3 400.0,754.7 400.0,757.0C400.0,759.0 400.0,761.0 400.0,763.0C400.0,764.7 408.5,766.3 414.0,768.0C418.4,769.3 425.6,770.7 430.0,772.0C433.9,773.2 440.0,774.4 440.0,775.6C440.0,776.1 434.6,776.5 434.0,777.0C432.7,778.0 432.9,779.0 432.0,780.0C431.3,780.8 429.0,781.6 429.0,782.4C429.0,783.3 439.6,784.1 450.0,785.0C460.4,785.9 510.0,786.7 510.0,787.6C510.0,792.3 510.0,796.9 510.0,801.6C510.0,802.7 460.0,803.9 450.0,805.0C436.5,806.5 424.0,808.1 424.0,809.6C424.0,810.4 426.4,811.2 430.0,812.0C433.0,812.7 455.1,813.3 470.0,814.0C481.9,814.5 510.0,815.1 510.0,815.6C510.0,818.1 510.0,820.5 510.0,823.0C510.0,823.5 461.8,823.9 450.0,824.4C428.0,825.3 406.0,826.1 406.0,827.0C406.0,828.0 406.0,829.0 406.0,830.0C406.0,830.7 427.4,831.3 450.0,832.0C461.3,832.3 510.0,832.7 510.0,833.0C510.0,835.0 510.0,837.0 510.0,839.0C510.0,839.3 456.7,839.7 450.0,840.0C430.0,841.0 419.0,842.0 419.0,843.0C419.0,843.7 420.1,844.3 422.0,845.0C423.9,845.7 449.4,846.3 470.0,847.0C480.3,847.3 510.0,847.7 510.0,848.0C510.0,850.7 510.0,853.3 510.0,856.0C510.0,856.5 457.9,857.1 450.0,857.6C438.2,858.4 429.0,859.2 429.0,860.0C429.0,860.8 429.3,861.6 430.0,862.4C430.5,862.9 445.8,863.5 470.0,864.0C476.1,864.1 510.0,864.3 510.0,864.4C510.0,865.6 510.0,866.8 510.0,868.0C510.0,869.0 456.5,870.0 450.0,871.0C446.9,871.5 444.0,871.9 444.0,872.4C444.0,873.1 445.2,873.7 448.0,874.4C449.7,874.8 510.0,875.2 510.0,875.6C510.0,876.5 510.0,877.5 510.0,878.4C510.0,878.9 464.2,879.5 450.0,880.0C427.8,880.8 405.6,881.7 400.0,882.5C394.4,883.3 390.0,884.2 390.0,885.0C390.0,886.3 392.8,887.7 400.0,889.0C402.5,889.5 423.8,889.9 450.0,890.4C461.2,890.6 510.0,890.8 510.0,891.0C510.0,892.0 510.0,893.0 510.0,894.0C510.0,894.7 440.7,895.3 430.0,896.0C419.3,896.7 410.5,897.3 410.0,898.0C409.3,899.0 409.0,900.0 409.0,901.0C409.0,901.5 432.6,901.9 450.0,902.4C464.9,902.8 510.0,903.2 510.0,903.6C510.0,906.3 510.0,908.9 510.0,911.6C510.0,911.9 435.8,912.3 430.0,912.6C421.9,913.1 417.0,913.5 417.0,914.0C417.0,914.7 421.9,915.3 430.0,916.0C434.1,916.3 456.7,916.7 470.0,917.0C483.3,917.3 510.0,917.7 510.0,918.0C510.0,919.0 510.0,920.0 510.0,921.0C510.0,921.7 476.5,922.3 470.0,923.0C456.9,924.3 448.1,925.7 446.0,927.0C444.9,927.7 444.0,928.3 444.0,929.0C444.0,930.0 449.1,931.0 454.0,932.0C459.9,933.2 487.3,934.4 490.0,935.6C491.1,936.1 492.0,936.5 492.0,937.0C492.0,938.3 481.2,939.7 470.0,941.0C462.7,941.9 432.1,942.7 430.0,943.6C428.9,944.1 428.0,944.5 428.0,945.0C428.0,945.5 449.0,945.9 460.0,946.4C469.4,946.8 489.0,947.2 489.0,947.6C489.0,947.7 472.7,947.9 470.0,948.0C443.2,949.3 430.0,950.7 430.0,952.0C430.0,952.7 430.0,953.3 430.0,954.0C430.0,954.7 420.0,955.3 420.0,956.0C420.0,956.7 424.8,957.3 428.0,958.0C431.2,958.7 440.0,959.3 440.0,960.0C440.0,961.0 417.4,962.0 410.0,963.0C405.1,963.7 398.4,964.3 398.0,965.0C397.3,966.3 397.0,967.7 397.0,969.0C397.0,970.0 405.5,971.0 410.0,972.0C415.4,973.2 427.0,974.4 427.0,975.6C427.0,976.4 425.5,977.2 424.0,978.0C420.9,979.7 405.6,981.3 400.0,983.0C396.7,984.0 392.0,985.0 392.0,986.0C392.0,987.3 394.3,988.7 400.0,990.0C402.3,990.5 425.3,991.1 450.0,991.6C462.3,991.9 510.0,992.1 510.0,992.4C510.0,993.3 510.0,994.1 510.0,995.0C510.0,995.3 439.1,995.7 430.0,996.0C411.8,996.7 402.6,997.3 400.0,998.0C394.9,999.3 392.0,1000.7 392.0,1002.0C392.0,1003.3 399.0,1004.7 399.0,1006.0C399.0,1008.0 392.0,1010.0 392.0,1012.0C392.0,1013.7 393.6,1015.3 396.0,1017.0C397.4,1018.0 404.7,1019.0 409.0,1020.0" stroke="#f01010"/>
<path d="M446.0,99.0C446.3,100.7 446.3,102.3 447.0,104.0C447.5,105.3 462.2,106.7 470.0,108.0C475.9,109.0 488.0,110.0 488.0,111.0C488.0,112.3 479.0,113.7 479.0,115.0C479.0,116.7 479.0,118.3 479.0,120.0C479.0,121.3 480.7,122.7 482.0,124.0C483.0,125.0 484.4,126.0 486.0,127.0C487.6,128.0 492.0,129.0 492.0,130.0C492.0,131.0 484.4,132.0 482.0,133.0C478.0,134.7 473.0,136.3 473.0,138.0C473.0,140.0 475.0,142.0 475.0,144.0C475.0,146.0 465.0,148.0 465.0,150.0C465.0,151.0 469.9,152.0 476.0,153.0C480.1,153.7 505.0,154.3 505.0,155.0C505.0,156.7 501.6,158.3 498.0,160.0C495.1,161.3 481.5,162.7 480.0,164.0C478.9,165.0 478.0,166.0 478.0,167.0C478.0,169.0 484.3,171.0 485.0,173.0C485.6,174.7 486.0,176.3 486.0,178.0C486.0,179.7 479.6,181.3 478.0,183.0C476.1,185.0 474.0,187.0 474.0,189.0C474.0,191.3 480.8,193.7 486.0,196.0C489.0,197.3 498.0,198.7 498.0,200.0C498.0,201.3 486.4,202.7 484.0,204.0C479.2,206.7 475.0,209.3 475.0,212.0C475.0,214.0 483.5,216.0 486.0,218.0C487.3,219.0 489.0,220.0 489.0,221.0C489.0,222.0 478.8,223.0 476.0,224.0C472.3,225.3 468.0,226.7 468.0,228.0C468.0,229.7 475.0,231.3 475.0,233.0C475.0,236.7 474.0,240.3 474.0,244.0C474.0,246.7 480.0,249.3 480.0,252.0C480.0,255.3 478.0,258.7 478.0,262.0C478.0,263.7 486.3,265.3 492.0,267.0C493.1,267.3 496.0,267.7 496.0,268.0C496.0,269.3 483.6,270.7 482.0,272.0C479.7,274.0 478.0,276.0 478.0,278.0C478.0,280.7 482.3,283.3 485.0,286.0C487.3,288.3 493.0,290.7 493.0,293.0C493.0,294.7 484.2,296.3 482.0,298.0C478.5,300.7 475.0,303.3 475.0,306.0C475.0,308.7 485.0,311.3 485.0,314.0C485.0,315.3 474.8,316.7 474.0,318.0C472.7,320.0 472.0,322.0 472.0,324.0C472.0,328.0 479.0,332.0 479.0,336.0C479.0,339.3 472.0,342.7 472.0,346.0C472.0,348.7 472.0,351.3 472.0,354.0C472.0,357.0 475.0,360.0 475.0,363.0C475.0,364.3 471.2,365.7 466.0,367.0C462.1,368.0 437.4,369.0 430.0,370.0C422.6,371.0 414.0,372.0 414.0,373.0C414.0,374.7 419.0,376.3 419.0,378.0C419.0,379.7 396.6,381.3 396.0,383.0C395.4,384.7 395.6,386.3 395.0,388.0C394.2,390.3 386.0,392.7 382.0,395.0C379.1,396.7 374.0,398.3 374.0,400.0C374.0,401.3 383.0,402.7 390.0,404.0C398.8,405.7 416.7,407.3 430.0,409.0C438.0,410.0 451.0,411.0 454.0,412.0C457.9,413.3 461.0,414.7 461.0,416.0C461.0,417.7 459.8,419.3 458.0,421.0C456.6,422.3 442.0,423.7 442.0,425.0C442.0,426.0 446.3,427.0 450.0,428.0C453.7,429.0 466.5,430.0 468.0,431.0C470.5,432.7 470.0,434.3 472.0,436.0C474.3,438.0 483.2,440.0 486.0,442.0C488.8,444.0 492.0,446.0 492.0,448.0C492.0,449.3 487.5,450.7 486.0,452.0C483.0,454.7 479.0,457.3 479.0,460.0C479.0,462.0 482.5,464.0 484.0,466.0C485.5,468.0 488.0,470.0 488.0,472.0C488.0,475.3 476.0,478.7 476.0,482.0C476.0,484.0 497.0,486.0 497.0,488.0C497.0,489.0 491.7,490.0 488.0,491.0C483.1,492.3 468.5,493.7 468.0,495.0C467.3,496.7 467.5,498.3 467.0,500.0C466.6,501.3 465.0,502.7 465.0,504.0C465.0,506.3 466.1,508.7 468.0,511.0C469.1,512.3 476.7,513.7 482.0,515.0C488.6,516.7 502.3,518.3 505.0,520.0C507.7,521.7 510.0,523.3 510.0,525.0C510.0,526.7 498.0,528.3 498.0,530.0C498.0,531.3 503.0,532.7 503.0,534.0C503.0,536.0 496.4,538.0 494.0,540.0C490.8,542.7 488.1,545.3 486.0,548.0C483.9,550.7 481.0,553.3 481.0,556.0C481.0,557.7 483.7,559.3 486.0,561.0C489.6,563.7 502.6,566.3 505.0,569.0C506.5,570.7 508.0,572.3 508.0,574.0C508.0,576.0 499.9,578.0 498.0,580.0C496.1,582.0 496.2,584.0 494.0,586.0C491.8,588.0 474.0,590.0 474.0,592.0C474.0,594.0 474.0,596.0 474.0,598.0C474.0,600.0 479.0,602.0 479.0,604.0C479.0,606.0 468.0,608.0 468.0,610.0C468.0,612.0 468.0,614.0 468.0,616.0C468.0,617.0 454.7,618.0 450.0,619.0C442.1,620.7 431.0,622.3 431.0,624.0C431.0,625.3 431.0,626.7 431.0,628.0C431.0,629.0 437.3,630.0 438.0,631.0C439.2,632.7 440.0,634.3 440.0,636.0C440.0,638.0 437.9,640.0 436.0,642.0C434.7,643.3 432.4,644.7 430.0,646.0C425.9,648.3 414.0,650.7 414.0,653.0C414.0,654.7 423.0,656.3 423.0,658.0C423.0,660.0 417.0,662.0 417.0,664.0C417.0,666.7 417.0,669.3 417.0,672.0C417.0,673.3 420.4,674.7 424.0,676.0C426.7,677.0 440.0,678.0 440.0,679.0C440.0,680.0 430.7,681.0 426.0,682.0C421.3,683.0 412.0,684.0 412.0,685.0C412.0,686.7 439.4,688.3 446.0,690.0C452.6,691.7 460.0,693.3 460.0,695.0C460.0,697.0 456.0,699.0 456.0,701.0C456.0,703.0 462.3,705.0 468.0,707.0C471.8,708.3 486.0,709.7 486.0,711.0C486.0,712.7 476.0,714.3 476.0,716.0C476.0,717.7 485.0,719.3 485.0,721.0C485.0,723.3 474.0,725.7 474.0,728.0C474.0,729.7 477.0,731.3 477.0,733.0C477.0,734.3 472.0,735.7 472.0,737.0C472.0,738.7 485.0,740.3 485.0,742.0C485.0,743.7 479.2,745.3 476.0,747.0C474.1,748.0 470.5,749.0 470.0,750.0C469.4,751.3 469.0,752.7 469.0,754.0C469.0,756.3 469.0,758.7 469.0,761.0C469.0,761.7 467.5,762.3 466.0,763.0C463.8,764.0 452.0,765.0 452.0,766.0C452.0,766.7 456.4,767.3 458.0,768.0C462.1,769.7 466.0,771.3 468.0,773.0C472.0,776.3 474.8,779.7 476.0,783.0C476.5,784.3 476.3,785.7 477.0,787.0C477.5,788.0 486.6,789.0 488.0,790.0C490.3,791.7 489.9,793.3 492.0,795.0C493.6,796.3 502.0,797.7 502.0,799.0C502.0,801.0 492.0,803.0 492.0,805.0C492.0,806.3 492.0,807.7 492.0,809.0C492.0,811.3 502.0,813.7 502.0,816.0C502.0,818.0 495.5,820.0 494.0,822.0C492.5,824.0 491.0,826.0 491.0,828.0C491.0,830.0 502.0,832.0 502.0,834.0C502.0,835.7 489.2,837.3 482.0,839.0C477.7,840.0 468.0,841.0 468.0,842.0C468.0,843.0 475.2,844.0 482.0,845.0C486.6,845.7 504.1,846.3 505.0,847.0C507.2,848.7 508.0,850.3 508.0,852.0C508.0,853.7 504.3,855.3 502.0,857.0C499.2,859.0 494.9,861.0 492.0,863.0C488.2,865.7 483.7,868.3 482.0,871.0C480.5,873.3 481.1,875.7 479.0,878.0C477.8,879.3 458.7,880.7 450.0,882.0C443.5,883.0 432.0,884.0 432.0,885.0C432.0,885.7 445.6,886.3 450.0,887.0C458.9,888.3 466.2,889.7 470.0,891.0C473.8,892.3 476.0,893.7 478.0,895.0C480.5,896.7 483.2,898.3 484.0,900.0C485.1,902.3 484.8,904.7 486.0,907.0C486.8,908.7 491.0,910.3 494.0,912.0C496.4,913.3 502.0,914.7 502.0,916.0C502.0,917.0 493.3,918.0 490.0,919.0C485.6,920.3 479.0,921.7 479.0,923.0C479.0,925.3 479.4,927.7 480.0,930.0C480.5,932.0 486.9,934.0 488.0,936.0C489.1,938.0 490.0,940.0 490.0,942.0C490.0,944.0 483.7,946.0 480.0,948.0C477.6,949.3 472.0,950.7 472.0,952.0C472.0,954.7 472.3,957.3 473.0,960.0C473.5,962.0 490.0,964.0 490.0,966.0C490.0,968.0 476.0,970.0 476.0,972.0C476.0,973.3 484.0,974.7 484.0,976.0C484.0,977.3 470.3,978.7 466.0,980.0C461.7,981.3 456.0,982.7 456.0,984.0C456.0,985.3 459.2,986.7 462.0,988.0C466.9,990.3 490.0,992.7 490.0,995.0C490.0,996.7 472.6,998.3 470.0,1000.0C467.9,1001.3 466.0,1002.7 466.0,1004.0C466.0,1005.3 470.0,1006.7 470.0,1008.0C470.0,1009.7 464.0,1011.3 464.0,1013.0C464.0,1014.3 467.4,1015.7 470.0,1017.0C471.9,1018.0 475.3,1019.0 478.0,1020.0" stroke="#10a84e"/>
</g>
<text x="34.6" y="56.8" class="h">Layers</text>
<text x="96" y="56.8" class="h">Depth</text>
<line x1="127" y1="35.5" x2="251" y2="35.5" class="hl"/>
<line x1="127" y1="67.5" x2="251" y2="67.5" class="hl"/>
<text x="189.5" y="22.3" class="h">SP</text>
<text x="139" y="30.7" class="n">0</text><line x1="144" y1="26.8" x2="221.6" y2="26.8" stroke="#f01010" stroke-width="1.6"/><text x="232.5" y="30.7" class="n">150</text>
<text x="189.5" y="49" class="h">GR</text>
<text x="139" y="63.2" class="n">0</text><line x1="144" y1="59.3" x2="221.6" y2="59.3" stroke="#10a84e" stroke-width="1.6"/><text x="232.5" y="63.2" class="n">250</text>
<text x="189.5" y="82" class="h">CAL</text>
<text x="139" y="95" class="n">0</text><line x1="144" y1="91" x2="229" y2="91" stroke="#2233ee" stroke-width="1.6"/><text x="236" y="95" class="n">50</text>
<line x1="251" y1="51.5" x2="376" y2="51.5" class="hl"/>
<text x="314" y="25.5" class="h">DEN</text>
<text x="272" y="39.3" class="n">2.95</text><line x1="285" y1="35.4" x2="343" y2="35.4" stroke="#f01010" stroke-width="1.6"/><text x="355.7" y="39.3" class="n">1.95</text>
<text x="314" y="73" class="h">CNL</text>
<text x="267.3" y="87.1" class="n">45</text><line x1="275.2" y1="83.2" x2="348.8" y2="83.2" stroke="#10a84e" stroke-width="1.6"/><text x="358.6" y="87.1" class="n">-15</text>
<line x1="376" y1="51.5" x2="501" y2="51.5" class="hl"/>
<text x="439" y="25.5" class="h">RT</text>
<text x="393.3" y="39.3" class="n">0.1</text><line x1="402.7" y1="35.4" x2="471.2" y2="35.4" stroke="#f01010" stroke-width="1.6"/><text x="482.2" y="39.3" class="n">100</text>
<text x="439" y="73" class="h">AC</text>
<text x="395.3" y="87.1" class="n">350</text><line x1="406.2" y1="83.2" x2="470.8" y2="83.2" stroke="#10a84e" stroke-width="1.6"/><text x="482" y="87.1" class="n">200</text>
<text x="547" y="43" class="h2">Logging</text>
<text x="547" y="57.5" class="h2">lithologic pr</text>
<text x="547" y="72" class="h2">ofile</text>
<text x="635.5" y="43" class="h2">Model</text>
<text x="635.5" y="57.5" class="h2">Prediction</text>
<text x="635.5" y="72" class="h2">Profile</text>
</svg></body></html>
